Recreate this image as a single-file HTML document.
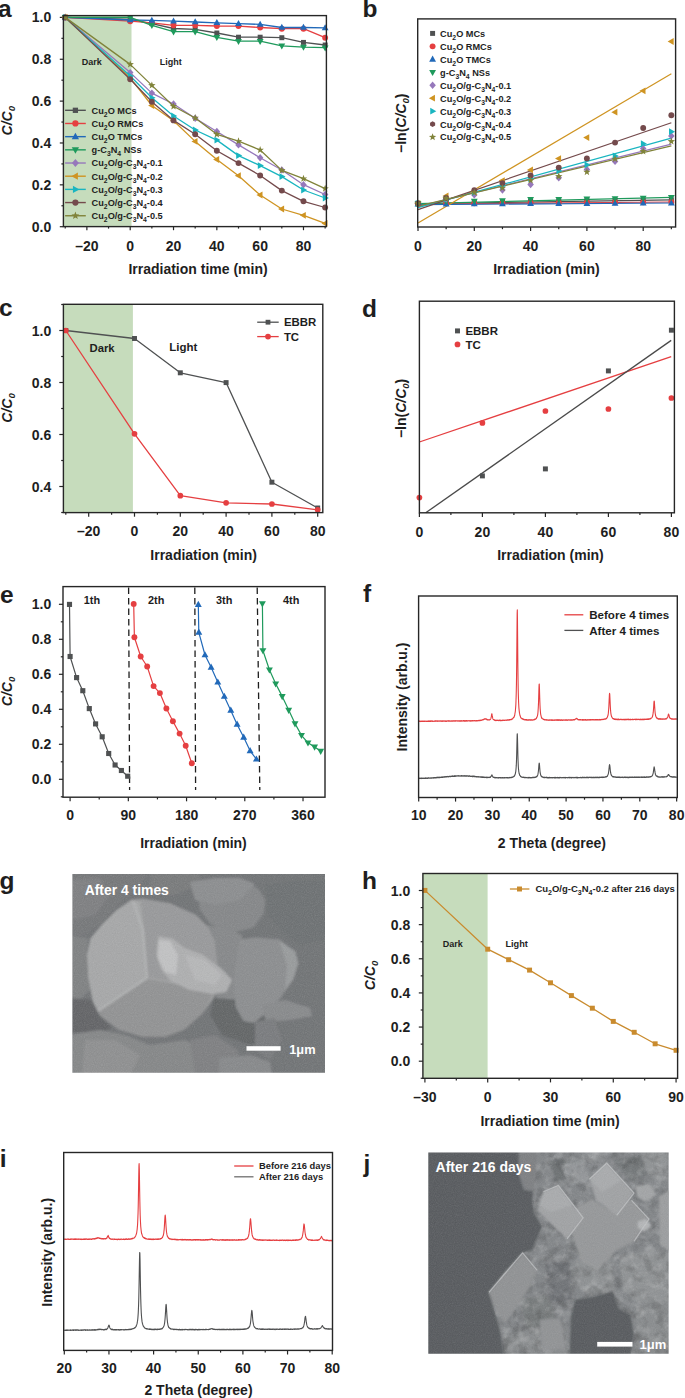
<!DOCTYPE html>
<html><head><meta charset="utf-8"><style>
html,body{margin:0;padding:0;background:#fff;}
svg{display:block;font-family:"Liberation Sans",sans-serif;}
</style></head><body>
<svg width="685" height="1398" viewBox="0 0 685 1398">
<rect width="685" height="1398" fill="#fff"/>
<defs>
<filter id="blur2" x="-5%" y="-5%" width="110%" height="110%"><feGaussianBlur stdDeviation="2.2"/></filter>
<filter id="blur05" x="-5%" y="-5%" width="110%" height="110%"><feGaussianBlur stdDeviation="0.5"/></filter>
<filter id="blur1" x="-5%" y="-5%" width="110%" height="110%"><feGaussianBlur stdDeviation="0.9"/></filter>
<filter id="blur12" x="-5%" y="-5%" width="110%" height="110%"><feGaussianBlur stdDeviation="1.1"/></filter>
<filter id="blur15" x="-5%" y="-5%" width="110%" height="110%"><feGaussianBlur stdDeviation="1.3"/></filter>
<filter id="mottleW" x="0" y="0" width="100%" height="100%"><feTurbulence type="fractalNoise" baseFrequency="0.11" numOctaves="3" seed="7"/><feColorMatrix type="matrix" values="0 0 0 0 1  0 0 0 0 1  0 0 0 0 1  2.2 0 0 0 -1.0"/></filter>
<filter id="mottleB" x="0" y="0" width="100%" height="100%"><feTurbulence type="fractalNoise" baseFrequency="0.09" numOctaves="3" seed="11"/><feColorMatrix type="matrix" values="0 0 0 0 0  0 0 0 0 0  0 0 0 0 0  2.2 0 0 0 -1.0"/></filter>
<filter id="noise" x="0" y="0" width="100%" height="100%"><feTurbulence type="fractalNoise" baseFrequency="0.9" numOctaves="2" seed="4"/><feColorMatrix type="saturate" values="0"/></filter>
</defs>
<text x="-1.9" y="16.8" font-size="24.5" text-anchor="start" fill="#1e1e1e" font-weight="bold" font-style="normal" >a</text>
<rect x="63.4" y="15.6" width="68.1" height="211" fill="#c6dcbc" />
<line x1="59.8" y1="226.7" x2="63.4" y2="226.7" stroke="#262626" stroke-width="1.2" />
<text x="51.2" y="231.7" font-size="14" text-anchor="end" fill="#1e1e1e" font-weight="bold" font-style="normal" >0.0</text>
<line x1="61.4" y1="205.77" x2="63.4" y2="205.77" stroke="#262626" stroke-width="1.2" />
<line x1="59.8" y1="184.84" x2="63.4" y2="184.84" stroke="#262626" stroke-width="1.2" />
<text x="51.2" y="189.84" font-size="14" text-anchor="end" fill="#1e1e1e" font-weight="bold" font-style="normal" >0.2</text>
<line x1="61.4" y1="163.91" x2="63.4" y2="163.91" stroke="#262626" stroke-width="1.2" />
<line x1="59.8" y1="142.98" x2="63.4" y2="142.98" stroke="#262626" stroke-width="1.2" />
<text x="51.2" y="147.98" font-size="14" text-anchor="end" fill="#1e1e1e" font-weight="bold" font-style="normal" >0.4</text>
<line x1="61.4" y1="122.05" x2="63.4" y2="122.05" stroke="#262626" stroke-width="1.2" />
<line x1="59.8" y1="101.12" x2="63.4" y2="101.12" stroke="#262626" stroke-width="1.2" />
<text x="51.2" y="106.12" font-size="14" text-anchor="end" fill="#1e1e1e" font-weight="bold" font-style="normal" >0.6</text>
<line x1="61.4" y1="80.19" x2="63.4" y2="80.19" stroke="#262626" stroke-width="1.2" />
<line x1="59.8" y1="59.26" x2="63.4" y2="59.26" stroke="#262626" stroke-width="1.2" />
<text x="51.2" y="64.26" font-size="14" text-anchor="end" fill="#1e1e1e" font-weight="bold" font-style="normal" >0.8</text>
<line x1="61.4" y1="38.33" x2="63.4" y2="38.33" stroke="#262626" stroke-width="1.2" />
<line x1="59.8" y1="17.4" x2="63.4" y2="17.4" stroke="#262626" stroke-width="1.2" />
<text x="51.2" y="22.4" font-size="14" text-anchor="end" fill="#1e1e1e" font-weight="bold" font-style="normal" >1.0</text>
<line x1="65.22" y1="226.6" x2="65.22" y2="228.6" stroke="#262626" stroke-width="1.2" />
<line x1="86.88" y1="226.6" x2="86.88" y2="230.2" stroke="#262626" stroke-width="1.2" />
<text x="86.88" y="250.6" font-size="14" text-anchor="middle" fill="#1e1e1e" font-weight="bold" font-style="normal" >–20</text>
<line x1="108.54" y1="226.6" x2="108.54" y2="228.6" stroke="#262626" stroke-width="1.2" />
<line x1="130.2" y1="226.6" x2="130.2" y2="230.2" stroke="#262626" stroke-width="1.2" />
<text x="130.2" y="250.6" font-size="14" text-anchor="middle" fill="#1e1e1e" font-weight="bold" font-style="normal" >0</text>
<line x1="151.86" y1="226.6" x2="151.86" y2="228.6" stroke="#262626" stroke-width="1.2" />
<line x1="173.52" y1="226.6" x2="173.52" y2="230.2" stroke="#262626" stroke-width="1.2" />
<text x="173.52" y="250.6" font-size="14" text-anchor="middle" fill="#1e1e1e" font-weight="bold" font-style="normal" >20</text>
<line x1="195.18" y1="226.6" x2="195.18" y2="228.6" stroke="#262626" stroke-width="1.2" />
<line x1="216.84" y1="226.6" x2="216.84" y2="230.2" stroke="#262626" stroke-width="1.2" />
<text x="216.84" y="250.6" font-size="14" text-anchor="middle" fill="#1e1e1e" font-weight="bold" font-style="normal" >40</text>
<line x1="238.5" y1="226.6" x2="238.5" y2="228.6" stroke="#262626" stroke-width="1.2" />
<line x1="260.16" y1="226.6" x2="260.16" y2="230.2" stroke="#262626" stroke-width="1.2" />
<text x="260.16" y="250.6" font-size="14" text-anchor="middle" fill="#1e1e1e" font-weight="bold" font-style="normal" >60</text>
<line x1="281.82" y1="226.6" x2="281.82" y2="228.6" stroke="#262626" stroke-width="1.2" />
<line x1="303.48" y1="226.6" x2="303.48" y2="230.2" stroke="#262626" stroke-width="1.2" />
<text x="303.48" y="250.6" font-size="14" text-anchor="middle" fill="#1e1e1e" font-weight="bold" font-style="normal" >80</text>
<line x1="325.14" y1="226.6" x2="325.14" y2="228.6" stroke="#262626" stroke-width="1.2" />
<text x="198" y="274.2" font-size="14" text-anchor="middle" fill="#1e1e1e" font-weight="bold" font-style="normal" >Irradiation time (min)</text>
<text transform="translate(11.7,120.7) rotate(-90)" x="0" y="0" font-size="14" text-anchor="middle" fill="#1e1e1e" font-weight="bold" font-style="italic">C/C<tspan font-size="9.5" baseline-shift="-28%">0</tspan></text>
<text x="81.7" y="65" font-size="9" text-anchor="start" fill="#1e1e1e" font-weight="bold" font-style="normal" >Dark</text>
<text x="159.8" y="65" font-size="9" text-anchor="start" fill="#1e1e1e" font-weight="bold" font-style="normal" >Light</text>
<polyline points="65.22,17.4 130.2,19.4 151.86,23.6 173.52,28.5 195.18,29.3 216.84,33 238.5,37.2 260.16,37.2 281.82,37.7 303.48,42.4 325.14,45" fill="none" stroke="#4f5152" stroke-width="1.3" stroke-linejoin="round" />
<rect x="62.74" y="14.92" width="4.96" height="4.96" fill="#4f5152"/>
<rect x="127.72" y="16.92" width="4.96" height="4.96" fill="#4f5152"/>
<rect x="149.38" y="21.12" width="4.96" height="4.96" fill="#4f5152"/>
<rect x="171.04" y="26.02" width="4.96" height="4.96" fill="#4f5152"/>
<rect x="192.7" y="26.82" width="4.96" height="4.96" fill="#4f5152"/>
<rect x="214.36" y="30.52" width="4.96" height="4.96" fill="#4f5152"/>
<rect x="236.02" y="34.72" width="4.96" height="4.96" fill="#4f5152"/>
<rect x="257.68" y="34.72" width="4.96" height="4.96" fill="#4f5152"/>
<rect x="279.34" y="35.22" width="4.96" height="4.96" fill="#4f5152"/>
<rect x="301" y="39.92" width="4.96" height="4.96" fill="#4f5152"/>
<rect x="322.66" y="42.52" width="4.96" height="4.96" fill="#4f5152"/>
<polyline points="65.22,17.4 130.2,21.2 151.86,22.8 173.52,25.3 195.18,25.3 216.84,26 238.5,26.1 260.16,27.5 281.82,28.7 303.48,28.7 325.14,37.7" fill="none" stroke="#e53f41" stroke-width="1.3" stroke-linejoin="round" />
<circle cx="65.22" cy="17.4" r="2.94" fill="#e53f41"/>
<circle cx="130.2" cy="21.2" r="2.94" fill="#e53f41"/>
<circle cx="151.86" cy="22.8" r="2.94" fill="#e53f41"/>
<circle cx="173.52" cy="25.3" r="2.94" fill="#e53f41"/>
<circle cx="195.18" cy="25.3" r="2.94" fill="#e53f41"/>
<circle cx="216.84" cy="26" r="2.94" fill="#e53f41"/>
<circle cx="238.5" cy="26.1" r="2.94" fill="#e53f41"/>
<circle cx="260.16" cy="27.5" r="2.94" fill="#e53f41"/>
<circle cx="281.82" cy="28.7" r="2.94" fill="#e53f41"/>
<circle cx="303.48" cy="28.7" r="2.94" fill="#e53f41"/>
<circle cx="325.14" cy="37.7" r="2.94" fill="#e53f41"/>
<polyline points="65.22,17.4 130.2,20 151.86,20.4 173.52,21.2 195.18,22 216.84,22.8 238.5,23.7 260.16,24.4 281.82,27.5 303.48,27.5 325.14,27.9" fill="none" stroke="#2169b9" stroke-width="1.3" stroke-linejoin="round" />
<polygon points="65.22,13.68 68.63,19.72 61.81,19.72" fill="#2169b9"/>
<polygon points="130.2,16.28 133.61,22.32 126.79,22.32" fill="#2169b9"/>
<polygon points="151.86,16.68 155.27,22.72 148.45,22.72" fill="#2169b9"/>
<polygon points="173.52,17.48 176.93,23.52 170.11,23.52" fill="#2169b9"/>
<polygon points="195.18,18.28 198.59,24.32 191.77,24.32" fill="#2169b9"/>
<polygon points="216.84,19.08 220.25,25.12 213.43,25.12" fill="#2169b9"/>
<polygon points="238.5,19.98 241.91,26.02 235.09,26.02" fill="#2169b9"/>
<polygon points="260.16,20.68 263.57,26.72 256.75,26.72" fill="#2169b9"/>
<polygon points="281.82,23.78 285.23,29.82 278.41,29.82" fill="#2169b9"/>
<polygon points="303.48,23.78 306.89,29.82 300.07,29.82" fill="#2169b9"/>
<polygon points="325.14,24.18 328.55,30.22 321.73,30.22" fill="#2169b9"/>
<polyline points="65.22,17.4 130.2,17.4 151.86,25.3 173.52,31.7 195.18,31.7 216.84,37.3 238.5,41.2 260.16,41.2 281.82,45.9 303.48,47.1 325.14,47.7" fill="none" stroke="#1f9a5c" stroke-width="1.3" stroke-linejoin="round" />
<polygon points="65.22,21.12 68.63,15.07 61.81,15.07" fill="#1f9a5c"/>
<polygon points="130.2,21.12 133.61,15.07 126.79,15.07" fill="#1f9a5c"/>
<polygon points="151.86,29.02 155.27,22.98 148.45,22.98" fill="#1f9a5c"/>
<polygon points="173.52,35.42 176.93,29.38 170.11,29.38" fill="#1f9a5c"/>
<polygon points="195.18,35.42 198.59,29.38 191.77,29.38" fill="#1f9a5c"/>
<polygon points="216.84,41.02 220.25,34.97 213.43,34.97" fill="#1f9a5c"/>
<polygon points="238.5,44.92 241.91,38.88 235.09,38.88" fill="#1f9a5c"/>
<polygon points="260.16,44.92 263.57,38.88 256.75,38.88" fill="#1f9a5c"/>
<polygon points="281.82,49.62 285.23,43.57 278.41,43.57" fill="#1f9a5c"/>
<polygon points="303.48,50.82 306.89,44.77 300.07,44.77" fill="#1f9a5c"/>
<polygon points="325.14,51.42 328.55,45.38 321.73,45.38" fill="#1f9a5c"/>
<polyline points="65.22,17.4 130.2,72.6 151.86,93.1 173.52,104 195.18,118.2 216.84,131.5 238.5,144.9 260.16,157.8 281.82,170 303.48,184.7 325.14,194.5" fill="none" stroke="#9678bb" stroke-width="1.3" stroke-linejoin="round" />
<polygon points="65.22,13.68 68.47,17.4 65.22,21.12 61.96,17.4" fill="#9678bb"/>
<polygon points="130.2,68.88 133.45,72.6 130.2,76.32 126.94,72.6" fill="#9678bb"/>
<polygon points="151.86,89.38 155.11,93.1 151.86,96.82 148.6,93.1" fill="#9678bb"/>
<polygon points="173.52,100.28 176.77,104 173.52,107.72 170.26,104" fill="#9678bb"/>
<polygon points="195.18,114.48 198.44,118.2 195.18,121.92 191.93,118.2" fill="#9678bb"/>
<polygon points="216.84,127.78 220.09,131.5 216.84,135.22 213.58,131.5" fill="#9678bb"/>
<polygon points="238.5,141.18 241.75,144.9 238.5,148.62 235.25,144.9" fill="#9678bb"/>
<polygon points="260.16,154.08 263.41,157.8 260.16,161.52 256.9,157.8" fill="#9678bb"/>
<polygon points="281.82,166.28 285.07,170 281.82,173.72 278.56,170" fill="#9678bb"/>
<polygon points="303.48,180.98 306.74,184.7 303.48,188.42 300.23,184.7" fill="#9678bb"/>
<polygon points="325.14,190.78 328.39,194.5 325.14,198.22 321.88,194.5" fill="#9678bb"/>
<polyline points="65.22,17.4 130.2,77.8 151.86,105.5 173.52,120.8 195.18,141.4 216.84,159.5 238.5,175.7 260.16,195 281.82,209 303.48,215.3 325.14,223.4" fill="none" stroke="#cf9422" stroke-width="1.3" stroke-linejoin="round" />
<polygon points="61.5,17.4 67.54,13.99 67.54,20.81" fill="#cf9422"/>
<polygon points="126.48,77.8 132.52,74.39 132.52,81.21" fill="#cf9422"/>
<polygon points="148.14,105.5 154.18,102.09 154.18,108.91" fill="#cf9422"/>
<polygon points="169.8,120.8 175.84,117.39 175.84,124.21" fill="#cf9422"/>
<polygon points="191.46,141.4 197.5,137.99 197.5,144.81" fill="#cf9422"/>
<polygon points="213.12,159.5 219.16,156.09 219.16,162.91" fill="#cf9422"/>
<polygon points="234.78,175.7 240.82,172.29 240.82,179.11" fill="#cf9422"/>
<polygon points="256.44,195 262.48,191.59 262.48,198.41" fill="#cf9422"/>
<polygon points="278.1,209 284.14,205.59 284.14,212.41" fill="#cf9422"/>
<polygon points="299.76,215.3 305.81,211.89 305.81,218.71" fill="#cf9422"/>
<polygon points="321.42,223.4 327.46,219.99 327.46,226.81" fill="#cf9422"/>
<polyline points="65.22,17.4 130.2,76 151.86,97.8 173.52,116 195.18,130 216.84,140.1 238.5,155.6 260.16,165.6 281.82,176.6 303.48,190 325.14,198" fill="none" stroke="#19b5c0" stroke-width="1.3" stroke-linejoin="round" />
<polygon points="68.94,17.4 62.89,13.99 62.89,20.81" fill="#19b5c0"/>
<polygon points="133.92,76 127.87,72.59 127.87,79.41" fill="#19b5c0"/>
<polygon points="155.58,97.8 149.53,94.39 149.53,101.21" fill="#19b5c0"/>
<polygon points="177.24,116 171.19,112.59 171.19,119.41" fill="#19b5c0"/>
<polygon points="198.9,130 192.86,126.59 192.86,133.41" fill="#19b5c0"/>
<polygon points="220.56,140.1 214.51,136.69 214.51,143.51" fill="#19b5c0"/>
<polygon points="242.22,155.6 236.18,152.19 236.18,159.01" fill="#19b5c0"/>
<polygon points="263.88,165.6 257.83,162.19 257.83,169.01" fill="#19b5c0"/>
<polygon points="285.54,176.6 279.5,173.19 279.5,180.01" fill="#19b5c0"/>
<polygon points="307.2,190 301.16,186.59 301.16,193.41" fill="#19b5c0"/>
<polygon points="328.86,198 322.81,194.59 322.81,201.41" fill="#19b5c0"/>
<polyline points="65.22,17.4 130.2,79.2 151.86,101.8 173.52,120.4 195.18,134.2 216.84,150.8 238.5,163.1 260.16,175.5 281.82,190.6 303.48,201.3 325.14,207.5" fill="none" stroke="#744a4c" stroke-width="1.3" stroke-linejoin="round" />
<circle cx="65.22" cy="17.4" r="2.94" fill="#744a4c"/>
<circle cx="130.2" cy="79.2" r="2.94" fill="#744a4c"/>
<circle cx="151.86" cy="101.8" r="2.94" fill="#744a4c"/>
<circle cx="173.52" cy="120.4" r="2.94" fill="#744a4c"/>
<circle cx="195.18" cy="134.2" r="2.94" fill="#744a4c"/>
<circle cx="216.84" cy="150.8" r="2.94" fill="#744a4c"/>
<circle cx="238.5" cy="163.1" r="2.94" fill="#744a4c"/>
<circle cx="260.16" cy="175.5" r="2.94" fill="#744a4c"/>
<circle cx="281.82" cy="190.6" r="2.94" fill="#744a4c"/>
<circle cx="303.48" cy="201.3" r="2.94" fill="#744a4c"/>
<circle cx="325.14" cy="207.5" r="2.94" fill="#744a4c"/>
<polyline points="65.22,17.4 130.2,64.4 151.86,85.4 173.52,106.3 195.18,118 216.84,134.3 238.5,141.2 260.16,150 281.82,170.4 303.48,178.7 325.14,188.6" fill="none" stroke="#80833a" stroke-width="1.3" stroke-linejoin="round" />
<polygon points="65.22,13.52 66.17,16.1 68.91,16.2 66.75,17.9 67.5,20.53 65.22,19.01 62.94,20.53 63.69,17.9 61.53,16.2 64.27,16.1" fill="#80833a"/>
<polygon points="130.2,60.53 131.15,63.1 133.89,63.2 131.73,64.9 132.48,67.53 130.2,66.01 127.92,67.53 128.67,64.9 126.51,63.2 129.25,63.1" fill="#80833a"/>
<polygon points="151.86,81.53 152.81,84.1 155.55,84.2 153.39,85.9 154.14,88.53 151.86,87.01 149.58,88.53 150.33,85.9 148.17,84.2 150.91,84.1" fill="#80833a"/>
<polygon points="173.52,102.42 174.47,105 177.21,105.1 175.05,106.8 175.8,109.43 173.52,107.91 171.24,109.43 171.99,106.8 169.83,105.1 172.57,105" fill="#80833a"/>
<polygon points="195.18,114.12 196.13,116.7 198.87,116.8 196.71,118.5 197.46,121.13 195.18,119.61 192.9,121.13 193.65,118.5 191.49,116.8 194.23,116.7" fill="#80833a"/>
<polygon points="216.84,130.43 217.79,133 220.53,133.1 218.37,134.8 219.12,137.43 216.84,135.91 214.56,137.43 215.31,134.8 213.15,133.1 215.89,133" fill="#80833a"/>
<polygon points="238.5,137.32 239.45,139.9 242.19,140 240.03,141.7 240.78,144.33 238.5,142.81 236.22,144.33 236.97,141.7 234.81,140 237.55,139.9" fill="#80833a"/>
<polygon points="260.16,146.12 261.11,148.7 263.85,148.8 261.69,150.5 262.44,153.13 260.16,151.61 257.88,153.13 258.63,150.5 256.47,148.8 259.21,148.7" fill="#80833a"/>
<polygon points="281.82,166.53 282.77,169.1 285.51,169.2 283.35,170.9 284.1,173.53 281.82,172.01 279.54,173.53 280.29,170.9 278.13,169.2 280.87,169.1" fill="#80833a"/>
<polygon points="303.48,174.82 304.43,177.4 307.17,177.5 305.01,179.2 305.76,181.83 303.48,180.31 301.2,181.83 301.95,179.2 299.79,177.5 302.53,177.4" fill="#80833a"/>
<polygon points="325.14,184.72 326.09,187.3 328.83,187.4 326.67,189.1 327.42,191.73 325.14,190.21 322.86,191.73 323.61,189.1 321.45,187.4 324.19,187.3" fill="#80833a"/>
<line x1="65.1" y1="110.3" x2="85.8" y2="110.3" stroke="#4f5152" stroke-width="1.4" />
<rect x="72.76" y="107.66" width="5.28" height="5.28" fill="#4f5152"/>
<text x="91.6" y="113.7" font-size="9.2" text-anchor="start" fill="#1e1e1e" font-weight="bold" font-style="normal" >Cu<tspan font-size="6.81" baseline-shift="-40%">2</tspan>O MCs</text>
<line x1="65.1" y1="123.48" x2="85.8" y2="123.48" stroke="#e53f41" stroke-width="1.4" />
<circle cx="75.4" cy="123.48" r="3.13" fill="#e53f41"/>
<text x="91.6" y="126.88" font-size="9.2" text-anchor="start" fill="#1e1e1e" font-weight="bold" font-style="normal" >Cu<tspan font-size="6.81" baseline-shift="-40%">2</tspan>O RMCs</text>
<line x1="65.1" y1="136.66" x2="85.8" y2="136.66" stroke="#2169b9" stroke-width="1.4" />
<polygon points="75.4,132.7 79.03,139.13 71.77,139.13" fill="#2169b9"/>
<text x="91.6" y="140.06" font-size="9.2" text-anchor="start" fill="#1e1e1e" font-weight="bold" font-style="normal" >Cu<tspan font-size="6.81" baseline-shift="-40%">2</tspan>O TMCs</text>
<line x1="65.1" y1="149.84" x2="85.8" y2="149.84" stroke="#1f9a5c" stroke-width="1.4" />
<polygon points="75.4,153.8 79.03,147.37 71.77,147.37" fill="#1f9a5c"/>
<text x="91.6" y="153.24" font-size="9.2" text-anchor="start" fill="#1e1e1e" font-weight="bold" font-style="normal" >g-C<tspan font-size="6.81" baseline-shift="-40%">3</tspan>N<tspan font-size="6.81" baseline-shift="-40%">4</tspan> NSs</text>
<line x1="65.1" y1="163.02" x2="85.8" y2="163.02" stroke="#9678bb" stroke-width="1.4" />
<polygon points="75.4,159.06 78.87,163.02 75.4,166.98 71.94,163.02" fill="#9678bb"/>
<text x="91.6" y="166.42" font-size="9.2" text-anchor="start" fill="#1e1e1e" font-weight="bold" font-style="normal" >Cu<tspan font-size="6.81" baseline-shift="-40%">2</tspan>O/g-C<tspan font-size="6.81" baseline-shift="-40%">3</tspan>N<tspan font-size="6.81" baseline-shift="-40%">4</tspan>-0.1</text>
<line x1="65.1" y1="176.2" x2="85.8" y2="176.2" stroke="#cf9422" stroke-width="1.4" />
<polygon points="71.44,176.2 77.88,172.57 77.88,179.83" fill="#cf9422"/>
<text x="91.6" y="179.6" font-size="9.2" text-anchor="start" fill="#1e1e1e" font-weight="bold" font-style="normal" >Cu<tspan font-size="6.81" baseline-shift="-40%">2</tspan>O/g-C<tspan font-size="6.81" baseline-shift="-40%">3</tspan>N<tspan font-size="6.81" baseline-shift="-40%">4</tspan>-0.2</text>
<line x1="65.1" y1="189.38" x2="85.8" y2="189.38" stroke="#19b5c0" stroke-width="1.4" />
<polygon points="79.36,189.38 72.93,185.75 72.93,193.01" fill="#19b5c0"/>
<text x="91.6" y="192.78" font-size="9.2" text-anchor="start" fill="#1e1e1e" font-weight="bold" font-style="normal" >Cu<tspan font-size="6.81" baseline-shift="-40%">2</tspan>O/g-C<tspan font-size="6.81" baseline-shift="-40%">3</tspan>N<tspan font-size="6.81" baseline-shift="-40%">4</tspan>-0.3</text>
<line x1="65.1" y1="202.56" x2="85.8" y2="202.56" stroke="#744a4c" stroke-width="1.4" />
<circle cx="75.4" cy="202.56" r="3.13" fill="#744a4c"/>
<text x="91.6" y="205.96" font-size="9.2" text-anchor="start" fill="#1e1e1e" font-weight="bold" font-style="normal" >Cu<tspan font-size="6.81" baseline-shift="-40%">2</tspan>O/g-C<tspan font-size="6.81" baseline-shift="-40%">3</tspan>N<tspan font-size="6.81" baseline-shift="-40%">4</tspan>-0.4</text>
<line x1="65.1" y1="215.74" x2="85.8" y2="215.74" stroke="#80833a" stroke-width="1.4" />
<polygon points="75.4,211.62 76.41,214.35 79.32,214.47 77.03,216.27 77.82,219.08 75.4,217.46 72.98,219.08 73.77,216.27 71.48,214.47 74.39,214.35" fill="#80833a"/>
<text x="91.6" y="219.14" font-size="9.2" text-anchor="start" fill="#1e1e1e" font-weight="bold" font-style="normal" >Cu<tspan font-size="6.81" baseline-shift="-40%">2</tspan>O/g-C<tspan font-size="6.81" baseline-shift="-40%">3</tspan>N<tspan font-size="6.81" baseline-shift="-40%">4</tspan>-0.5</text>
<rect x="63.4" y="15.6" width="263" height="211" fill="none" stroke="#262626" stroke-width="1.4" />
<text x="362.4" y="16.8" font-size="24.5" text-anchor="start" fill="#1e1e1e" font-weight="bold" font-style="normal" >b</text>
<line x1="418" y1="227" x2="418" y2="231.1" stroke="#262626" stroke-width="1.2" />
<text x="418" y="250.5" font-size="14" text-anchor="middle" fill="#1e1e1e" font-weight="bold" font-style="normal" >0</text>
<line x1="446.15" y1="227" x2="446.15" y2="229.2" stroke="#262626" stroke-width="1.2" />
<line x1="474.3" y1="227" x2="474.3" y2="231.1" stroke="#262626" stroke-width="1.2" />
<text x="474.3" y="250.5" font-size="14" text-anchor="middle" fill="#1e1e1e" font-weight="bold" font-style="normal" >20</text>
<line x1="502.45" y1="227" x2="502.45" y2="229.2" stroke="#262626" stroke-width="1.2" />
<line x1="530.6" y1="227" x2="530.6" y2="231.1" stroke="#262626" stroke-width="1.2" />
<text x="530.6" y="250.5" font-size="14" text-anchor="middle" fill="#1e1e1e" font-weight="bold" font-style="normal" >40</text>
<line x1="558.75" y1="227" x2="558.75" y2="229.2" stroke="#262626" stroke-width="1.2" />
<line x1="586.9" y1="227" x2="586.9" y2="231.1" stroke="#262626" stroke-width="1.2" />
<text x="586.9" y="250.5" font-size="14" text-anchor="middle" fill="#1e1e1e" font-weight="bold" font-style="normal" >60</text>
<line x1="615.05" y1="227" x2="615.05" y2="229.2" stroke="#262626" stroke-width="1.2" />
<line x1="643.2" y1="227" x2="643.2" y2="231.1" stroke="#262626" stroke-width="1.2" />
<text x="643.2" y="250.5" font-size="14" text-anchor="middle" fill="#1e1e1e" font-weight="bold" font-style="normal" >80</text>
<line x1="671.35" y1="227" x2="671.35" y2="229.2" stroke="#262626" stroke-width="1.2" />
<text x="546.5" y="273.5" font-size="14" text-anchor="middle" fill="#1e1e1e" font-weight="bold" font-style="normal" >Irradiation (min)</text>
<text transform="translate(406.1,123.3) rotate(-90)" x="0" y="0" font-size="14" text-anchor="middle" fill="#1e1e1e" font-weight="bold" >−ln(<tspan font-style="italic">C/C<tspan font-size="9.5" baseline-shift="-28%">0</tspan></tspan>)</text>
<line x1="418" y1="203.8" x2="671.35" y2="199.8" stroke="#4f5152" stroke-width="1.2" />
<line x1="418" y1="204.2" x2="671.35" y2="202" stroke="#e53f41" stroke-width="1.2" />
<line x1="418" y1="204.6" x2="671.35" y2="203" stroke="#2169b9" stroke-width="1.2" />
<line x1="418" y1="203.6" x2="671.35" y2="197.4" stroke="#1f9a5c" stroke-width="1.2" />
<line x1="418" y1="206.6" x2="671.35" y2="144.1" stroke="#9678bb" stroke-width="1.2" />
<line x1="418" y1="222.9" x2="671.35" y2="73.8" stroke="#cf9422" stroke-width="1.2" />
<line x1="418" y1="207.7" x2="671.35" y2="138.2" stroke="#19b5c0" stroke-width="1.2" />
<line x1="418" y1="209.6" x2="671.35" y2="122.7" stroke="#744a4c" stroke-width="1.2" />
<line x1="418" y1="206.2" x2="671.35" y2="145.9" stroke="#80833a" stroke-width="1.2" />
<rect x="415.52" y="201.02" width="4.96" height="4.96" fill="#4f5152"/>
<rect x="443.67" y="199.72" width="4.96" height="4.96" fill="#4f5152"/>
<rect x="471.82" y="199.52" width="4.96" height="4.96" fill="#4f5152"/>
<rect x="499.97" y="199.12" width="4.96" height="4.96" fill="#4f5152"/>
<rect x="528.12" y="198.72" width="4.96" height="4.96" fill="#4f5152"/>
<rect x="556.27" y="198.52" width="4.96" height="4.96" fill="#4f5152"/>
<rect x="584.42" y="198.12" width="4.96" height="4.96" fill="#4f5152"/>
<rect x="612.57" y="198.02" width="4.96" height="4.96" fill="#4f5152"/>
<rect x="640.72" y="197.72" width="4.96" height="4.96" fill="#4f5152"/>
<rect x="668.87" y="197.32" width="4.96" height="4.96" fill="#4f5152"/>
<circle cx="418" cy="203.8" r="2.94" fill="#e53f41"/>
<circle cx="446.15" cy="203.2" r="2.94" fill="#e53f41"/>
<circle cx="474.3" cy="203.2" r="2.94" fill="#e53f41"/>
<circle cx="502.45" cy="203" r="2.94" fill="#e53f41"/>
<circle cx="530.6" cy="202.8" r="2.94" fill="#e53f41"/>
<circle cx="558.75" cy="202.6" r="2.94" fill="#e53f41"/>
<circle cx="586.9" cy="202.5" r="2.94" fill="#e53f41"/>
<circle cx="615.05" cy="202.3" r="2.94" fill="#e53f41"/>
<circle cx="643.2" cy="202.2" r="2.94" fill="#e53f41"/>
<circle cx="671.35" cy="202" r="2.94" fill="#e53f41"/>
<polygon points="418,200.48 421.41,206.52 414.59,206.52" fill="#2169b9"/>
<polygon points="446.15,200.48 449.56,206.52 442.74,206.52" fill="#2169b9"/>
<polygon points="474.3,200.28 477.71,206.32 470.89,206.32" fill="#2169b9"/>
<polygon points="502.45,200.28 505.86,206.32 499.04,206.32" fill="#2169b9"/>
<polygon points="530.6,200.08 534.01,206.12 527.19,206.12" fill="#2169b9"/>
<polygon points="558.75,199.98 562.16,206.02 555.34,206.02" fill="#2169b9"/>
<polygon points="586.9,199.88 590.31,205.92 583.49,205.92" fill="#2169b9"/>
<polygon points="615.05,199.78 618.46,205.82 611.64,205.82" fill="#2169b9"/>
<polygon points="643.2,199.58 646.61,205.62 639.79,205.62" fill="#2169b9"/>
<polygon points="671.35,199.38 674.76,205.42 667.94,205.42" fill="#2169b9"/>
<polygon points="418,207.22 421.41,201.18 414.59,201.18" fill="#1f9a5c"/>
<polygon points="446.15,204.92 449.56,198.88 442.74,198.88" fill="#1f9a5c"/>
<polygon points="474.3,204.72 477.71,198.68 470.89,198.68" fill="#1f9a5c"/>
<polygon points="502.45,204.32 505.86,198.28 499.04,198.28" fill="#1f9a5c"/>
<polygon points="530.6,203.12 534.01,197.08 527.19,197.08" fill="#1f9a5c"/>
<polygon points="558.75,202.92 562.16,196.88 555.34,196.88" fill="#1f9a5c"/>
<polygon points="586.9,202.52 590.31,196.48 583.49,196.48" fill="#1f9a5c"/>
<polygon points="615.05,202.22 618.46,196.18 611.64,196.18" fill="#1f9a5c"/>
<polygon points="643.2,201.72 646.61,195.68 639.79,195.68" fill="#1f9a5c"/>
<polygon points="671.35,201.12 674.76,195.08 667.94,195.08" fill="#1f9a5c"/>
<polygon points="418,199.78 421.25,203.5 418,207.22 414.75,203.5" fill="#9678bb"/>
<polygon points="446.15,195.28 449.4,199 446.15,202.72 442.89,199" fill="#9678bb"/>
<polygon points="474.3,191.18 477.56,194.9 474.3,198.62 471.05,194.9" fill="#9678bb"/>
<polygon points="502.45,186.28 505.7,190 502.45,193.72 499.19,190" fill="#9678bb"/>
<polygon points="530.6,180.78 533.86,184.5 530.6,188.22 527.35,184.5" fill="#9678bb"/>
<polygon points="558.75,173.98 562,177.7 558.75,181.42 555.5,177.7" fill="#9678bb"/>
<polygon points="586.9,165.78 590.15,169.5 586.9,173.22 583.64,169.5" fill="#9678bb"/>
<polygon points="615.05,157.68 618.3,161.4 615.05,165.12 611.79,161.4" fill="#9678bb"/>
<polygon points="643.2,144.88 646.46,148.6 643.2,152.32 639.95,148.6" fill="#9678bb"/>
<polygon points="671.35,132.18 674.61,135.9 671.35,139.62 668.1,135.9" fill="#9678bb"/>
<polygon points="414.28,203.5 420.32,200.09 420.32,206.91" fill="#cf9422"/>
<polygon points="442.43,196 448.47,192.59 448.47,199.41" fill="#cf9422"/>
<polygon points="470.58,192 476.62,188.59 476.62,195.41" fill="#cf9422"/>
<polygon points="498.73,180.6 504.77,177.19 504.77,184.01" fill="#cf9422"/>
<polygon points="526.88,169.9 532.93,166.49 532.93,173.31" fill="#cf9422"/>
<polygon points="555.03,158.6 561.08,155.19 561.08,162.01" fill="#cf9422"/>
<polygon points="583.18,137.6 589.23,134.19 589.23,141.01" fill="#cf9422"/>
<polygon points="611.33,112.2 617.38,108.79 617.38,115.61" fill="#cf9422"/>
<polygon points="639.48,90.8 645.53,87.39 645.53,94.21" fill="#cf9422"/>
<polygon points="667.63,41.5 673.68,38.09 673.68,44.91" fill="#cf9422"/>
<polygon points="421.72,203.5 415.68,200.09 415.68,206.91" fill="#19b5c0"/>
<polygon points="449.87,199 443.82,195.59 443.82,202.41" fill="#19b5c0"/>
<polygon points="478.02,192.5 471.98,189.09 471.98,195.91" fill="#19b5c0"/>
<polygon points="506.17,185.7 500.12,182.29 500.12,189.11" fill="#19b5c0"/>
<polygon points="534.32,178.7 528.27,175.29 528.27,182.11" fill="#19b5c0"/>
<polygon points="562.47,170.9 556.42,167.49 556.42,174.31" fill="#19b5c0"/>
<polygon points="590.62,164.8 584.57,161.39 584.57,168.21" fill="#19b5c0"/>
<polygon points="618.77,156 612.72,152.59 612.72,159.41" fill="#19b5c0"/>
<polygon points="646.92,143.7 640.88,140.29 640.88,147.11" fill="#19b5c0"/>
<polygon points="675.07,131.7 669.02,128.29 669.02,135.11" fill="#19b5c0"/>
<circle cx="418" cy="203.5" r="2.94" fill="#744a4c"/>
<circle cx="446.15" cy="198" r="2.94" fill="#744a4c"/>
<circle cx="474.3" cy="190.2" r="2.94" fill="#744a4c"/>
<circle cx="502.45" cy="183.1" r="2.94" fill="#744a4c"/>
<circle cx="530.6" cy="175.4" r="2.94" fill="#744a4c"/>
<circle cx="558.75" cy="167.6" r="2.94" fill="#744a4c"/>
<circle cx="586.9" cy="158.4" r="2.94" fill="#744a4c"/>
<circle cx="615.05" cy="142.6" r="2.94" fill="#744a4c"/>
<circle cx="643.2" cy="128" r="2.94" fill="#744a4c"/>
<circle cx="671.35" cy="115.3" r="2.94" fill="#744a4c"/>
<polygon points="418,199.62 418.95,202.2 421.69,202.3 419.53,204 420.28,206.63 418,205.11 415.72,206.63 416.47,204 414.31,202.3 417.05,202.2" fill="#80833a"/>
<polygon points="446.15,194.53 447.1,197.1 449.84,197.2 447.68,198.9 448.43,201.53 446.15,200.01 443.87,201.53 444.62,198.9 442.46,197.2 445.2,197.1" fill="#80833a"/>
<polygon points="474.3,188.62 475.25,191.2 477.99,191.3 475.83,193 476.58,195.63 474.3,194.11 472.02,195.63 472.77,193 470.61,191.3 473.35,191.2" fill="#80833a"/>
<polygon points="502.45,184.12 503.4,186.7 506.14,186.8 503.98,188.5 504.73,191.13 502.45,189.61 500.17,191.13 500.92,188.5 498.76,186.8 501.5,186.7" fill="#80833a"/>
<polygon points="530.6,176.53 531.55,179.1 534.29,179.2 532.13,180.9 532.88,183.53 530.6,182.01 528.32,183.53 529.07,180.9 526.91,179.2 529.65,179.1" fill="#80833a"/>
<polygon points="558.75,172.53 559.7,175.1 562.44,175.2 560.28,176.9 561.03,179.53 558.75,178.01 556.47,179.53 557.22,176.9 555.06,175.2 557.8,175.1" fill="#80833a"/>
<polygon points="586.9,168.12 587.85,170.7 590.59,170.8 588.43,172.5 589.18,175.13 586.9,173.61 584.62,175.13 585.37,172.5 583.21,170.8 585.95,170.7" fill="#80833a"/>
<polygon points="615.05,155.12 616,157.7 618.74,157.8 616.58,159.5 617.33,162.13 615.05,160.61 612.77,162.13 613.52,159.5 611.36,157.8 614.1,157.7" fill="#80833a"/>
<polygon points="643.2,147.53 644.15,150.1 646.89,150.2 644.73,151.9 645.48,154.53 643.2,153.01 640.92,154.53 641.67,151.9 639.51,150.2 642.25,150.1" fill="#80833a"/>
<polygon points="671.35,137.53 672.3,140.1 675.04,140.2 672.88,141.9 673.63,144.53 671.35,143.01 669.07,144.53 669.82,141.9 667.66,140.2 670.4,140.1" fill="#80833a"/>
<rect x="430.12" y="30.92" width="4.96" height="4.96" fill="#4f5152"/>
<text x="440.1" y="36.8" font-size="9.2" text-anchor="start" fill="#1e1e1e" font-weight="bold" font-style="normal" >Cu<tspan font-size="6.81" baseline-shift="-40%">2</tspan>O MCs</text>
<circle cx="432.6" cy="46.36" r="2.94" fill="#e53f41"/>
<text x="440.1" y="49.76" font-size="9.2" text-anchor="start" fill="#1e1e1e" font-weight="bold" font-style="normal" >Cu<tspan font-size="6.81" baseline-shift="-40%">2</tspan>O RMCs</text>
<polygon points="432.6,55.6 436.01,61.65 429.19,61.65" fill="#2169b9"/>
<text x="440.1" y="62.72" font-size="9.2" text-anchor="start" fill="#1e1e1e" font-weight="bold" font-style="normal" >Cu<tspan font-size="6.81" baseline-shift="-40%">2</tspan>O TMCs</text>
<polygon points="432.6,76 436.01,69.95 429.19,69.95" fill="#1f9a5c"/>
<text x="440.1" y="75.68" font-size="9.2" text-anchor="start" fill="#1e1e1e" font-weight="bold" font-style="normal" >g-C<tspan font-size="6.81" baseline-shift="-40%">3</tspan>N<tspan font-size="6.81" baseline-shift="-40%">4</tspan> NSs</text>
<polygon points="432.6,81.52 435.86,85.24 432.6,88.96 429.35,85.24" fill="#9678bb"/>
<text x="440.1" y="88.64" font-size="9.2" text-anchor="start" fill="#1e1e1e" font-weight="bold" font-style="normal" >Cu<tspan font-size="6.81" baseline-shift="-40%">2</tspan>O/g-C<tspan font-size="6.81" baseline-shift="-40%">3</tspan>N<tspan font-size="6.81" baseline-shift="-40%">4</tspan>-0.1</text>
<polygon points="428.88,98.2 434.93,94.79 434.93,101.61" fill="#cf9422"/>
<text x="440.1" y="101.6" font-size="9.2" text-anchor="start" fill="#1e1e1e" font-weight="bold" font-style="normal" >Cu<tspan font-size="6.81" baseline-shift="-40%">2</tspan>O/g-C<tspan font-size="6.81" baseline-shift="-40%">3</tspan>N<tspan font-size="6.81" baseline-shift="-40%">4</tspan>-0.2</text>
<polygon points="436.32,111.16 430.28,107.75 430.28,114.57" fill="#19b5c0"/>
<text x="440.1" y="114.56" font-size="9.2" text-anchor="start" fill="#1e1e1e" font-weight="bold" font-style="normal" >Cu<tspan font-size="6.81" baseline-shift="-40%">2</tspan>O/g-C<tspan font-size="6.81" baseline-shift="-40%">3</tspan>N<tspan font-size="6.81" baseline-shift="-40%">4</tspan>-0.3</text>
<polygon points="435.15,125.59 432.6,127.06 430.05,125.59 430.05,122.65 432.6,121.18 435.15,122.65" fill="#744a4c"/>
<text x="440.1" y="127.52" font-size="9.2" text-anchor="start" fill="#1e1e1e" font-weight="bold" font-style="normal" >Cu<tspan font-size="6.81" baseline-shift="-40%">2</tspan>O/g-C<tspan font-size="6.81" baseline-shift="-40%">3</tspan>N<tspan font-size="6.81" baseline-shift="-40%">4</tspan>-0.4</text>
<polygon points="432.6,133.21 433.55,135.78 436.29,135.88 434.13,137.58 434.88,140.21 432.6,138.69 430.32,140.21 431.07,137.58 428.91,135.88 431.65,135.78" fill="#80833a"/>
<text x="440.1" y="140.48" font-size="9.2" text-anchor="start" fill="#1e1e1e" font-weight="bold" font-style="normal" >Cu<tspan font-size="6.81" baseline-shift="-40%">2</tspan>O/g-C<tspan font-size="6.81" baseline-shift="-40%">3</tspan>N<tspan font-size="6.81" baseline-shift="-40%">4</tspan>-0.5</text>
<rect x="417.7" y="18.9" width="257.9" height="208.1" fill="none" stroke="#262626" stroke-width="1.4" />
<text x="-1" y="316.4" font-size="24.5" text-anchor="start" fill="#1e1e1e" font-weight="bold" font-style="normal" >c</text>
<rect x="63.4" y="304.3" width="69.5" height="208.3" fill="#c6dcbc" />
<line x1="61.2" y1="512.5" x2="63.4" y2="512.5" stroke="#262626" stroke-width="1.2" />
<line x1="59.3" y1="486.5" x2="63.4" y2="486.5" stroke="#262626" stroke-width="1.2" />
<text x="51.2" y="491.5" font-size="14" text-anchor="end" fill="#1e1e1e" font-weight="bold" font-style="normal" >0.4</text>
<line x1="61.2" y1="460.5" x2="63.4" y2="460.5" stroke="#262626" stroke-width="1.2" />
<line x1="59.3" y1="434.5" x2="63.4" y2="434.5" stroke="#262626" stroke-width="1.2" />
<text x="51.2" y="439.5" font-size="14" text-anchor="end" fill="#1e1e1e" font-weight="bold" font-style="normal" >0.6</text>
<line x1="61.2" y1="408.5" x2="63.4" y2="408.5" stroke="#262626" stroke-width="1.2" />
<line x1="59.3" y1="382.5" x2="63.4" y2="382.5" stroke="#262626" stroke-width="1.2" />
<text x="51.2" y="387.5" font-size="14" text-anchor="end" fill="#1e1e1e" font-weight="bold" font-style="normal" >0.8</text>
<line x1="61.2" y1="356.5" x2="63.4" y2="356.5" stroke="#262626" stroke-width="1.2" />
<line x1="59.3" y1="330.5" x2="63.4" y2="330.5" stroke="#262626" stroke-width="1.2" />
<text x="51.2" y="335.5" font-size="14" text-anchor="end" fill="#1e1e1e" font-weight="bold" font-style="normal" >1.0</text>
<line x1="61.2" y1="304.5" x2="63.4" y2="304.5" stroke="#262626" stroke-width="1.2" />
<line x1="65.8" y1="512.6" x2="65.8" y2="514.8" stroke="#262626" stroke-width="1.2" />
<line x1="88.7" y1="512.6" x2="88.7" y2="516.7" stroke="#262626" stroke-width="1.2" />
<text x="88.7" y="536.3" font-size="14" text-anchor="middle" fill="#1e1e1e" font-weight="bold" font-style="normal" >–20</text>
<line x1="111.6" y1="512.6" x2="111.6" y2="514.8" stroke="#262626" stroke-width="1.2" />
<line x1="134.5" y1="512.6" x2="134.5" y2="516.7" stroke="#262626" stroke-width="1.2" />
<text x="134.5" y="536.3" font-size="14" text-anchor="middle" fill="#1e1e1e" font-weight="bold" font-style="normal" >0</text>
<line x1="157.4" y1="512.6" x2="157.4" y2="514.8" stroke="#262626" stroke-width="1.2" />
<line x1="180.3" y1="512.6" x2="180.3" y2="516.7" stroke="#262626" stroke-width="1.2" />
<text x="180.3" y="536.3" font-size="14" text-anchor="middle" fill="#1e1e1e" font-weight="bold" font-style="normal" >20</text>
<line x1="203.2" y1="512.6" x2="203.2" y2="514.8" stroke="#262626" stroke-width="1.2" />
<line x1="226.1" y1="512.6" x2="226.1" y2="516.7" stroke="#262626" stroke-width="1.2" />
<text x="226.1" y="536.3" font-size="14" text-anchor="middle" fill="#1e1e1e" font-weight="bold" font-style="normal" >40</text>
<line x1="249" y1="512.6" x2="249" y2="514.8" stroke="#262626" stroke-width="1.2" />
<line x1="271.9" y1="512.6" x2="271.9" y2="516.7" stroke="#262626" stroke-width="1.2" />
<text x="271.9" y="536.3" font-size="14" text-anchor="middle" fill="#1e1e1e" font-weight="bold" font-style="normal" >60</text>
<line x1="294.8" y1="512.6" x2="294.8" y2="514.8" stroke="#262626" stroke-width="1.2" />
<line x1="317.7" y1="512.6" x2="317.7" y2="516.7" stroke="#262626" stroke-width="1.2" />
<text x="317.7" y="536.3" font-size="14" text-anchor="middle" fill="#1e1e1e" font-weight="bold" font-style="normal" >80</text>
<text x="203.6" y="560" font-size="14" text-anchor="middle" fill="#1e1e1e" font-weight="bold" font-style="normal" >Irradiation (min)</text>
<text transform="translate(12,408) rotate(-90)" x="0" y="0" font-size="14" text-anchor="middle" fill="#1e1e1e" font-weight="bold" font-style="italic">C/C<tspan font-size="9.5" baseline-shift="-28%">0</tspan></text>
<text x="89.5" y="351.7" font-size="11.3" text-anchor="start" fill="#1e1e1e" font-weight="bold" font-style="normal" >Dark</text>
<text x="169.2" y="351.3" font-size="11.5" text-anchor="start" fill="#1e1e1e" font-weight="bold" font-style="normal" >Light</text>
<polyline points="65.8,330.5 134.5,338.5 180.3,372.8 226.1,382.6 271.9,482.2 317.7,508" fill="none" stroke="#4f5152" stroke-width="1.3" stroke-linejoin="round" />
<polyline points="65.8,330.5 134.5,433.8 180.3,495.7 226.1,502.8 271.9,504 317.7,509.8" fill="none" stroke="#e53f41" stroke-width="1.3" stroke-linejoin="round" />
<rect x="63.32" y="328.02" width="4.96" height="4.96" fill="#4f5152"/>
<rect x="132.02" y="336.02" width="4.96" height="4.96" fill="#4f5152"/>
<rect x="177.82" y="370.32" width="4.96" height="4.96" fill="#4f5152"/>
<rect x="223.62" y="380.12" width="4.96" height="4.96" fill="#4f5152"/>
<rect x="269.42" y="479.72" width="4.96" height="4.96" fill="#4f5152"/>
<rect x="315.22" y="505.52" width="4.96" height="4.96" fill="#4f5152"/>
<circle cx="65.8" cy="330.5" r="2.85" fill="#e53f41"/>
<circle cx="134.5" cy="433.8" r="2.85" fill="#e53f41"/>
<circle cx="180.3" cy="495.7" r="2.85" fill="#e53f41"/>
<circle cx="226.1" cy="502.8" r="2.85" fill="#e53f41"/>
<circle cx="271.9" cy="504" r="2.85" fill="#e53f41"/>
<circle cx="317.7" cy="509.8" r="2.85" fill="#e53f41"/>
<line x1="257.2" y1="322.2" x2="278.7" y2="322.2" stroke="#4f5152" stroke-width="1.3" />
<rect x="265.6" y="319.8" width="4.8" height="4.8" fill="#4f5152"/>
<text x="283.9" y="326.3" font-size="11.4" text-anchor="start" fill="#1e1e1e" font-weight="bold" font-style="normal" >EBBR</text>
<line x1="257.2" y1="336.6" x2="278.7" y2="336.6" stroke="#e53f41" stroke-width="1.3" />
<circle cx="268" cy="336.6" r="2.85" fill="#e53f41"/>
<text x="283.9" y="340.7" font-size="11.4" text-anchor="start" fill="#1e1e1e" font-weight="bold" font-style="normal" >TC</text>
<rect x="63.4" y="304.3" width="259.4" height="208.3" fill="none" stroke="#262626" stroke-width="1.4" />
<text x="361.9" y="316.8" font-size="24.5" text-anchor="start" fill="#1e1e1e" font-weight="bold" font-style="normal" >d</text>
<line x1="419.4" y1="512.8" x2="419.4" y2="516.9" stroke="#262626" stroke-width="1.2" />
<text x="419.4" y="536.5" font-size="14" text-anchor="middle" fill="#1e1e1e" font-weight="bold" font-style="normal" >0</text>
<line x1="450.9" y1="512.8" x2="450.9" y2="515" stroke="#262626" stroke-width="1.2" />
<line x1="482.4" y1="512.8" x2="482.4" y2="516.9" stroke="#262626" stroke-width="1.2" />
<text x="482.4" y="536.5" font-size="14" text-anchor="middle" fill="#1e1e1e" font-weight="bold" font-style="normal" >20</text>
<line x1="513.9" y1="512.8" x2="513.9" y2="515" stroke="#262626" stroke-width="1.2" />
<line x1="545.4" y1="512.8" x2="545.4" y2="516.9" stroke="#262626" stroke-width="1.2" />
<text x="545.4" y="536.5" font-size="14" text-anchor="middle" fill="#1e1e1e" font-weight="bold" font-style="normal" >40</text>
<line x1="576.9" y1="512.8" x2="576.9" y2="515" stroke="#262626" stroke-width="1.2" />
<line x1="608.4" y1="512.8" x2="608.4" y2="516.9" stroke="#262626" stroke-width="1.2" />
<text x="608.4" y="536.5" font-size="14" text-anchor="middle" fill="#1e1e1e" font-weight="bold" font-style="normal" >60</text>
<line x1="639.9" y1="512.8" x2="639.9" y2="515" stroke="#262626" stroke-width="1.2" />
<line x1="671.4" y1="512.8" x2="671.4" y2="516.9" stroke="#262626" stroke-width="1.2" />
<text x="671.4" y="536.5" font-size="14" text-anchor="middle" fill="#1e1e1e" font-weight="bold" font-style="normal" >80</text>
<text x="550.5" y="560" font-size="14" text-anchor="middle" fill="#1e1e1e" font-weight="bold" font-style="normal" >Irradiation (min)</text>
<text transform="translate(406.3,408.4) rotate(-90)" x="0" y="0" font-size="14" text-anchor="middle" fill="#1e1e1e" font-weight="bold" >−ln(<tspan font-style="italic">C/C<tspan font-size="9.5" baseline-shift="-28%">0</tspan></tspan>)</text>
<clipPath id="cpd"><rect x="419.4" y="301.2" width="255" height="211.6"/></clipPath>
<line x1="419.4" y1="442" x2="671.2" y2="356.7" stroke="#e53f41" stroke-width="1.3" />
<line x1="425.7" y1="512.8" x2="671.2" y2="340.4" stroke="#4a4a4a" stroke-width="1.3" />
<rect x="479.92" y="473.42" width="4.96" height="4.96" fill="#4f5152"/>
<rect x="542.92" y="466.42" width="4.96" height="4.96" fill="#4f5152"/>
<rect x="605.92" y="368.42" width="4.96" height="4.96" fill="#4f5152"/>
<rect x="668.92" y="327.72" width="4.96" height="4.96" fill="#4f5152"/>
<circle cx="419.4" cy="497.6" r="2.85" fill="#e53f41"/>
<circle cx="482.4" cy="422.9" r="2.85" fill="#e53f41"/>
<circle cx="545.4" cy="411" r="2.85" fill="#e53f41"/>
<circle cx="608.4" cy="409" r="2.85" fill="#e53f41"/>
<circle cx="671.4" cy="398" r="2.85" fill="#e53f41"/>
<rect x="455.02" y="328.42" width="4.96" height="4.96" fill="#4f5152"/>
<text x="465.4" y="335" font-size="11.5" text-anchor="start" fill="#1e1e1e" font-weight="bold" font-style="normal" >EBBR</text>
<circle cx="457.5" cy="344.4" r="2.85" fill="#e53f41"/>
<text x="465.4" y="348.5" font-size="11.5" text-anchor="start" fill="#1e1e1e" font-weight="bold" font-style="normal" >TC</text>
<rect x="419.4" y="301.2" width="255" height="211.6" fill="none" stroke="#262626" stroke-width="1.4" />
<text x="0" y="602.8" font-size="24.5" text-anchor="start" fill="#1e1e1e" font-weight="bold" font-style="normal" >e</text>
<line x1="60.8" y1="796.8" x2="63" y2="796.8" stroke="#262626" stroke-width="1.2" />
<line x1="58.9" y1="779.3" x2="63" y2="779.3" stroke="#262626" stroke-width="1.2" />
<text x="51.2" y="784.3" font-size="14" text-anchor="end" fill="#1e1e1e" font-weight="bold" font-style="normal" >0.0</text>
<line x1="60.8" y1="761.8" x2="63" y2="761.8" stroke="#262626" stroke-width="1.2" />
<line x1="58.9" y1="744.3" x2="63" y2="744.3" stroke="#262626" stroke-width="1.2" />
<text x="51.2" y="749.3" font-size="14" text-anchor="end" fill="#1e1e1e" font-weight="bold" font-style="normal" >0.2</text>
<line x1="60.8" y1="726.8" x2="63" y2="726.8" stroke="#262626" stroke-width="1.2" />
<line x1="58.9" y1="709.3" x2="63" y2="709.3" stroke="#262626" stroke-width="1.2" />
<text x="51.2" y="714.3" font-size="14" text-anchor="end" fill="#1e1e1e" font-weight="bold" font-style="normal" >0.4</text>
<line x1="60.8" y1="691.8" x2="63" y2="691.8" stroke="#262626" stroke-width="1.2" />
<line x1="58.9" y1="674.3" x2="63" y2="674.3" stroke="#262626" stroke-width="1.2" />
<text x="51.2" y="679.3" font-size="14" text-anchor="end" fill="#1e1e1e" font-weight="bold" font-style="normal" >0.6</text>
<line x1="60.8" y1="656.8" x2="63" y2="656.8" stroke="#262626" stroke-width="1.2" />
<line x1="58.9" y1="639.3" x2="63" y2="639.3" stroke="#262626" stroke-width="1.2" />
<text x="51.2" y="644.3" font-size="14" text-anchor="end" fill="#1e1e1e" font-weight="bold" font-style="normal" >0.8</text>
<line x1="60.8" y1="621.8" x2="63" y2="621.8" stroke="#262626" stroke-width="1.2" />
<line x1="58.9" y1="604.3" x2="63" y2="604.3" stroke="#262626" stroke-width="1.2" />
<text x="51.2" y="609.3" font-size="14" text-anchor="end" fill="#1e1e1e" font-weight="bold" font-style="normal" >1.0</text>
<line x1="70.1" y1="797.2" x2="70.1" y2="801.3" stroke="#262626" stroke-width="1.2" />
<text x="70.1" y="820" font-size="14" text-anchor="middle" fill="#1e1e1e" font-weight="bold" font-style="normal" >0</text>
<line x1="99.22" y1="797.2" x2="99.22" y2="799.4" stroke="#262626" stroke-width="1.2" />
<line x1="128.33" y1="797.2" x2="128.33" y2="801.3" stroke="#262626" stroke-width="1.2" />
<text x="128.33" y="820" font-size="14" text-anchor="middle" fill="#1e1e1e" font-weight="bold" font-style="normal" >90</text>
<line x1="157.44" y1="797.2" x2="157.44" y2="799.4" stroke="#262626" stroke-width="1.2" />
<line x1="186.56" y1="797.2" x2="186.56" y2="801.3" stroke="#262626" stroke-width="1.2" />
<text x="186.56" y="820" font-size="14" text-anchor="middle" fill="#1e1e1e" font-weight="bold" font-style="normal" >180</text>
<line x1="215.68" y1="797.2" x2="215.68" y2="799.4" stroke="#262626" stroke-width="1.2" />
<line x1="244.79" y1="797.2" x2="244.79" y2="801.3" stroke="#262626" stroke-width="1.2" />
<text x="244.79" y="820" font-size="14" text-anchor="middle" fill="#1e1e1e" font-weight="bold" font-style="normal" >270</text>
<line x1="273.9" y1="797.2" x2="273.9" y2="799.4" stroke="#262626" stroke-width="1.2" />
<line x1="303.02" y1="797.2" x2="303.02" y2="801.3" stroke="#262626" stroke-width="1.2" />
<text x="303.02" y="820" font-size="14" text-anchor="middle" fill="#1e1e1e" font-weight="bold" font-style="normal" >360</text>
<text x="193.5" y="848" font-size="14" text-anchor="middle" fill="#1e1e1e" font-weight="bold" font-style="normal" >Irradiation (min)</text>
<text transform="translate(12,691.5) rotate(-90)" x="0" y="0" font-size="14" text-anchor="middle" fill="#1e1e1e" font-weight="bold" font-style="italic">C/C<tspan font-size="9.5" baseline-shift="-28%">0</tspan></text>
<line x1="128.6" y1="587.6" x2="129.6" y2="790" stroke="#1e1e1e" stroke-width="1.3" stroke-dasharray="6.5,4"/>
<line x1="194.8" y1="587.6" x2="195.6" y2="790" stroke="#1e1e1e" stroke-width="1.3" stroke-dasharray="6.5,4"/>
<line x1="257.2" y1="587.6" x2="259.8" y2="790" stroke="#1e1e1e" stroke-width="1.3" stroke-dasharray="6.5,4"/>
<text x="83.8" y="603.8" font-size="10.9" text-anchor="start" fill="#1e1e1e" font-weight="bold" font-style="normal" >1th</text>
<text x="148" y="603.8" font-size="10.9" text-anchor="start" fill="#1e1e1e" font-weight="bold" font-style="normal" >2th</text>
<text x="216" y="603.8" font-size="10.9" text-anchor="start" fill="#1e1e1e" font-weight="bold" font-style="normal" >3th</text>
<text x="283" y="603.8" font-size="10.9" text-anchor="start" fill="#1e1e1e" font-weight="bold" font-style="normal" >4th</text>
<polyline points="69.5,604.4 70.1,656.5 76.6,677.6 82.8,690.7 89.3,708.6 95.6,723.9 102.2,736.8 108.7,753.5 115.1,765 121.4,770.5 127.7,776.2" fill="none" stroke="#4f5152" stroke-width="1.2" stroke-linejoin="round" />
<rect x="66.94" y="601.84" width="5.12" height="5.12" fill="#4f5152"/>
<rect x="67.54" y="653.94" width="5.12" height="5.12" fill="#4f5152"/>
<rect x="74.04" y="675.04" width="5.12" height="5.12" fill="#4f5152"/>
<rect x="80.24" y="688.14" width="5.12" height="5.12" fill="#4f5152"/>
<rect x="86.74" y="706.04" width="5.12" height="5.12" fill="#4f5152"/>
<rect x="93.04" y="721.34" width="5.12" height="5.12" fill="#4f5152"/>
<rect x="99.64" y="734.24" width="5.12" height="5.12" fill="#4f5152"/>
<rect x="106.14" y="750.94" width="5.12" height="5.12" fill="#4f5152"/>
<rect x="112.54" y="762.44" width="5.12" height="5.12" fill="#4f5152"/>
<rect x="118.84" y="767.94" width="5.12" height="5.12" fill="#4f5152"/>
<rect x="125.14" y="773.64" width="5.12" height="5.12" fill="#4f5152"/>
<polyline points="133.7,603.9 134.4,637.2 140.7,656.5 147.2,666.5 153.6,686.1 159.9,693.1 166.4,708.5 172.9,721.3 179.6,733.6 185.7,745.8 191.8,763.3" fill="none" stroke="#e53f41" stroke-width="1.2" stroke-linejoin="round" />
<circle cx="133.7" cy="603.9" r="2.94" fill="#e53f41"/>
<circle cx="134.4" cy="637.2" r="2.94" fill="#e53f41"/>
<circle cx="140.7" cy="656.5" r="2.94" fill="#e53f41"/>
<circle cx="147.2" cy="666.5" r="2.94" fill="#e53f41"/>
<circle cx="153.6" cy="686.1" r="2.94" fill="#e53f41"/>
<circle cx="159.9" cy="693.1" r="2.94" fill="#e53f41"/>
<circle cx="166.4" cy="708.5" r="2.94" fill="#e53f41"/>
<circle cx="172.9" cy="721.3" r="2.94" fill="#e53f41"/>
<circle cx="179.6" cy="733.6" r="2.94" fill="#e53f41"/>
<circle cx="185.7" cy="745.8" r="2.94" fill="#e53f41"/>
<circle cx="191.8" cy="763.3" r="2.94" fill="#e53f41"/>
<polyline points="198.3,604.6 198.8,632.4 205,655 211.1,667.3 217.8,682.2 224.3,696.5 230.8,710.4 237.1,724.4 243.7,737.3 250.1,750.8 256.4,759.2" fill="none" stroke="#2169b9" stroke-width="1.2" stroke-linejoin="round" />
<polygon points="198.3,600.82 201.77,606.96 194.84,606.96" fill="#2169b9"/>
<polygon points="198.8,628.62 202.27,634.76 195.34,634.76" fill="#2169b9"/>
<polygon points="205,651.22 208.47,657.36 201.53,657.36" fill="#2169b9"/>
<polygon points="211.1,663.52 214.56,669.66 207.63,669.66" fill="#2169b9"/>
<polygon points="217.8,678.42 221.27,684.56 214.34,684.56" fill="#2169b9"/>
<polygon points="224.3,692.72 227.77,698.86 220.84,698.86" fill="#2169b9"/>
<polygon points="230.8,706.62 234.27,712.76 227.34,712.76" fill="#2169b9"/>
<polygon points="237.1,720.62 240.56,726.76 233.63,726.76" fill="#2169b9"/>
<polygon points="243.7,733.52 247.16,739.66 240.23,739.66" fill="#2169b9"/>
<polygon points="250.1,747.02 253.56,753.16 246.63,753.16" fill="#2169b9"/>
<polygon points="256.4,755.42 259.86,761.56 252.93,761.56" fill="#2169b9"/>
<polyline points="262.4,603.6 262.9,650.5 269.4,669.8 275.7,683.8 282.2,696.4 288.7,710.1 295,723.6 301.5,735.3 308,742.8 314.6,746.9 320.7,751.1" fill="none" stroke="#1f9a5c" stroke-width="1.2" stroke-linejoin="round" />
<polygon points="262.4,607.38 265.86,601.24 258.94,601.24" fill="#1f9a5c"/>
<polygon points="262.9,654.28 266.36,648.14 259.44,648.14" fill="#1f9a5c"/>
<polygon points="269.4,673.58 272.86,667.44 265.94,667.44" fill="#1f9a5c"/>
<polygon points="275.7,687.58 279.16,681.44 272.24,681.44" fill="#1f9a5c"/>
<polygon points="282.2,700.18 285.66,694.04 278.74,694.04" fill="#1f9a5c"/>
<polygon points="288.7,713.88 292.16,707.74 285.24,707.74" fill="#1f9a5c"/>
<polygon points="295,727.38 298.46,721.24 291.54,721.24" fill="#1f9a5c"/>
<polygon points="301.5,739.08 304.96,732.94 298.04,732.94" fill="#1f9a5c"/>
<polygon points="308,746.58 311.46,740.44 304.54,740.44" fill="#1f9a5c"/>
<polygon points="314.6,750.68 318.06,744.54 311.14,744.54" fill="#1f9a5c"/>
<polygon points="320.7,754.88 324.16,748.74 317.24,748.74" fill="#1f9a5c"/>
<rect x="63" y="586.6" width="262" height="210.6" fill="none" stroke="#262626" stroke-width="1.4" />
<text x="363" y="601.8" font-size="24.5" text-anchor="start" fill="#1e1e1e" font-weight="bold" font-style="normal" >f</text>
<line x1="418.7" y1="797.5" x2="418.7" y2="801.6" stroke="#262626" stroke-width="1.2" />
<text x="418.7" y="820.2" font-size="14" text-anchor="middle" fill="#1e1e1e" font-weight="bold" font-style="normal" >10</text>
<line x1="437.12" y1="797.5" x2="437.12" y2="799.7" stroke="#262626" stroke-width="1.2" />
<line x1="455.55" y1="797.5" x2="455.55" y2="801.6" stroke="#262626" stroke-width="1.2" />
<text x="455.55" y="820.2" font-size="14" text-anchor="middle" fill="#1e1e1e" font-weight="bold" font-style="normal" >20</text>
<line x1="473.97" y1="797.5" x2="473.97" y2="799.7" stroke="#262626" stroke-width="1.2" />
<line x1="492.4" y1="797.5" x2="492.4" y2="801.6" stroke="#262626" stroke-width="1.2" />
<text x="492.4" y="820.2" font-size="14" text-anchor="middle" fill="#1e1e1e" font-weight="bold" font-style="normal" >30</text>
<line x1="510.82" y1="797.5" x2="510.82" y2="799.7" stroke="#262626" stroke-width="1.2" />
<line x1="529.25" y1="797.5" x2="529.25" y2="801.6" stroke="#262626" stroke-width="1.2" />
<text x="529.25" y="820.2" font-size="14" text-anchor="middle" fill="#1e1e1e" font-weight="bold" font-style="normal" >40</text>
<line x1="547.67" y1="797.5" x2="547.67" y2="799.7" stroke="#262626" stroke-width="1.2" />
<line x1="566.1" y1="797.5" x2="566.1" y2="801.6" stroke="#262626" stroke-width="1.2" />
<text x="566.1" y="820.2" font-size="14" text-anchor="middle" fill="#1e1e1e" font-weight="bold" font-style="normal" >50</text>
<line x1="584.52" y1="797.5" x2="584.52" y2="799.7" stroke="#262626" stroke-width="1.2" />
<line x1="602.95" y1="797.5" x2="602.95" y2="801.6" stroke="#262626" stroke-width="1.2" />
<text x="602.95" y="820.2" font-size="14" text-anchor="middle" fill="#1e1e1e" font-weight="bold" font-style="normal" >60</text>
<line x1="621.38" y1="797.5" x2="621.38" y2="799.7" stroke="#262626" stroke-width="1.2" />
<line x1="639.8" y1="797.5" x2="639.8" y2="801.6" stroke="#262626" stroke-width="1.2" />
<text x="639.8" y="820.2" font-size="14" text-anchor="middle" fill="#1e1e1e" font-weight="bold" font-style="normal" >70</text>
<line x1="658.23" y1="797.5" x2="658.23" y2="799.7" stroke="#262626" stroke-width="1.2" />
<line x1="676.65" y1="797.5" x2="676.65" y2="801.6" stroke="#262626" stroke-width="1.2" />
<text x="676.65" y="820.2" font-size="14" text-anchor="middle" fill="#1e1e1e" font-weight="bold" font-style="normal" >80</text>
<text x="551.9" y="848" font-size="14" text-anchor="middle" fill="#1e1e1e" font-weight="bold" font-style="normal" >2 Theta (degree)</text>
<text transform="translate(406.6,697) rotate(-90)" x="0" y="0" font-size="14" text-anchor="middle" fill="#1e1e1e" font-weight="bold" >Intensity (arb.u.)</text>
<polyline points="418.7,721.13 418.85,721.32 418.99,721.21 419.14,721.35 419.29,721.36 419.44,721.02 419.58,720.99 419.73,721.49 419.88,721.14 420.03,721.12 420.17,721.58 420.32,721.26 420.47,721.48 420.62,721.26 420.76,721.36 420.91,721.06 421.06,721.35 421.21,721.49 421.35,721.28 421.5,721.41 421.65,721.37 421.8,721 421.94,721.42 422.09,721.32 422.24,721.14 422.38,720.98 422.53,721.48 422.68,721.24 422.83,721.39 422.97,721.48 423.12,721.38 423.27,721.51 423.42,721.19 423.56,721.43 423.71,721.22 423.86,721.51 424.01,721.47 424.15,721 424.3,721.03 424.45,721.07 424.6,721.52 424.74,721.2 424.89,721.32 425.04,721.12 425.19,721.24 425.33,721.17 425.48,721.15 425.63,721.28 425.78,721.28 425.92,721.47 426.07,721.34 426.22,721.49 426.36,721.44 426.51,721.52 426.66,721.33 426.81,721.02 426.95,721.44 427.1,721.5 427.25,721.46 427.4,721.26 427.54,721.35 427.69,721.04 427.84,721.41 427.99,721.26 428.13,721.08 428.28,720.95 428.43,721.42 428.58,721.5 428.72,720.96 428.87,721.39 429.02,721.15 429.17,720.99 429.31,721.08 429.46,721.36 429.61,721.42 429.75,720.93 429.9,721.27 430.05,720.92 430.2,721.33 430.34,721.09 430.49,721.42 430.64,721.48 430.79,721.19 430.93,721.49 431.08,721.07 431.23,720.93 431.38,721.25 431.52,720.9 431.67,721 431.82,721.13 431.97,721.25 432.11,720.97 432.26,720.9 432.41,721.4 432.56,721.06 432.7,721.45 432.85,721.41 433,721.1 433.15,721.15 433.29,721.18 433.44,721.25 433.59,721.22 433.73,721.2 433.88,721.24 434.03,721.43 434.18,721.17 434.32,721.12 434.47,721.29 434.62,721 434.77,721.04 434.91,721.44 435.06,721.17 435.21,721.18 435.36,720.86 435.5,721.1 435.65,721.2 435.8,720.86 435.95,721.22 436.09,721.22 436.24,720.88 436.39,721.22 436.54,721.12 436.68,721.25 436.83,721.05 436.98,721.26 437.12,721.28 437.27,720.85 437.42,720.87 437.57,721.24 437.71,721.41 437.86,720.98 438.01,721.1 438.16,721.18 438.3,721.02 438.45,721.04 438.6,721.01 438.75,721.04 438.89,721.18 439.04,721 439.19,721.05 439.34,721.28 439.48,720.83 439.63,721.16 439.78,721.26 439.93,721 440.07,720.95 440.22,721.29 440.37,720.95 440.52,720.92 440.66,721.07 440.81,721.22 440.96,720.87 441.1,721 441.25,721 441.4,721.3 441.55,721.06 441.69,721.31 441.84,720.9 441.99,721 442.14,721.18 442.28,721.32 442.43,721.06 442.58,720.93 442.73,720.86 442.87,721.11 443.02,720.9 443.17,721.27 443.32,721.29 443.46,720.89 443.61,720.95 443.76,721.26 443.91,721.16 444.05,721.26 444.2,720.98 444.35,720.85 444.5,720.95 444.64,721.25 444.79,720.93 444.94,720.98 445.08,721.02 445.23,721.02 445.38,721.01 445.53,721.32 445.67,720.86 445.82,720.76 445.97,721.33 446.12,721.29 446.26,721.35 446.41,721.02 446.56,721.33 446.71,721.31 446.85,720.89 447,721.2 447.15,721.25 447.3,721.15 447.44,721.06 447.59,720.92 447.74,720.95 447.89,720.88 448.03,720.78 448.18,721.09 448.33,720.91 448.47,721.22 448.62,720.76 448.77,721.28 448.92,721.15 449.06,721.29 449.21,721.27 449.36,721.27 449.51,721.08 449.65,720.74 449.8,721.17 449.95,720.83 450.1,720.9 450.24,721.12 450.39,721.04 450.54,720.97 450.69,721.28 450.83,721.08 450.98,720.92 451.13,720.87 451.28,721.23 451.42,721 451.57,721.18 451.72,720.92 451.87,720.83 452.01,721.03 452.16,721.2 452.31,720.81 452.45,721.18 452.6,721.25 452.75,721.18 452.9,721.19 453.04,720.7 453.19,721.07 453.34,721.21 453.49,720.72 453.63,720.85 453.78,720.85 453.93,721.01 454.08,720.94 454.22,720.97 454.37,721.15 454.52,720.68 454.67,720.72 454.81,720.76 454.96,720.75 455.11,720.72 455.26,721.26 455.4,721.19 455.55,720.73 455.7,720.97 455.84,720.86 455.99,720.86 456.14,720.88 456.29,721.06 456.43,721.02 456.58,720.88 456.73,720.78 456.88,720.86 457.02,720.73 457.17,720.99 457.32,721.09 457.47,720.88 457.61,720.7 457.76,720.76 457.91,720.88 458.06,721.01 458.2,721.12 458.35,720.88 458.5,721.13 458.65,721.02 458.79,720.9 458.94,720.87 459.09,720.94 459.24,721.06 459.38,720.89 459.53,721.05 459.68,720.91 459.82,720.78 459.97,720.95 460.12,721.05 460.27,720.67 460.41,720.88 460.56,720.88 460.71,721.15 460.86,721.18 461,720.85 461.15,721.16 461.3,721.09 461.45,720.77 461.59,720.89 461.74,720.69 461.89,721.1 462.04,721.01 462.18,721.14 462.33,721.08 462.48,721.01 462.63,721.05 462.77,720.94 462.92,720.66 463.07,720.95 463.21,720.6 463.36,720.68 463.51,721.06 463.66,720.62 463.8,720.65 463.95,720.65 464.1,721.12 464.25,720.7 464.39,720.6 464.54,721.09 464.69,720.66 464.84,721.09 464.98,720.98 465.13,721.08 465.28,721.15 465.43,720.92 465.57,721.05 465.72,720.59 465.87,721.03 466.02,720.87 466.16,720.99 466.31,720.63 466.46,721.01 466.61,721.12 466.75,720.6 466.9,720.75 467.05,720.89 467.19,721.05 467.34,720.7 467.49,720.66 467.64,720.7 467.78,720.92 467.93,721 468.08,720.78 468.23,720.76 468.37,720.78 468.52,720.75 468.67,720.79 468.82,720.58 468.96,720.83 469.11,721.11 469.26,720.77 469.41,720.97 469.55,720.62 469.7,720.94 469.85,720.97 470,720.92 470.14,720.82 470.29,720.8 470.44,720.9 470.58,721.05 470.73,720.6 470.88,720.56 471.03,720.95 471.17,721.05 471.32,720.81 471.47,720.76 471.62,720.92 471.76,720.6 471.91,720.65 472.06,720.6 472.21,720.83 472.35,720.67 472.5,720.62 472.65,720.89 472.8,721.04 472.94,720.65 473.09,720.89 473.24,720.71 473.39,720.97 473.53,720.81 473.68,720.61 473.83,720.58 473.97,720.46 474.12,720.73 474.27,720.67 474.42,720.54 474.56,720.65 474.71,720.62 474.86,720.89 475.01,720.51 475.15,721.01 475.3,720.7 475.45,720.77 475.6,720.69 475.74,720.9 475.89,720.89 476.04,720.73 476.19,720.67 476.33,720.81 476.48,720.89 476.63,720.61 476.78,720.81 476.92,720.94 477.07,720.63 477.22,720.48 477.37,720.48 477.51,720.76 477.66,720.73 477.81,720.89 477.95,720.82 478.1,720.45 478.25,720.41 478.4,720.44 478.54,720.39 478.69,720.69 478.84,720.77 478.99,720.79 479.13,720.39 479.28,720.74 479.43,720.4 479.58,720.45 479.72,720.62 479.87,720.22 480.02,720.21 480.17,720.64 480.31,720.29 480.46,720.31 480.61,720.43 480.76,720.46 480.9,720.04 481.05,720.21 481.2,720.24 481.34,720.24 481.49,720.05 481.64,720.24 481.79,720.42 481.93,720.05 482.08,720.1 482.23,719.79 482.38,719.84 482.52,720.02 482.67,719.63 482.82,720.04 482.97,719.98 483.11,719.43 483.26,719.86 483.41,719.45 483.56,719.61 483.7,719.52 483.85,719.16 484,719.31 484.15,719.22 484.29,719.24 484.44,718.85 484.59,719.09 484.74,719.17 484.88,718.97 485.03,718.88 485.18,718.63 485.32,718.87 485.47,718.82 485.62,719.09 485.77,719.12 485.91,719.11 486.06,718.95 486.21,719.3 486.36,719.36 486.5,719.16 486.65,719.66 486.8,719.58 486.95,719.32 487.09,719.87 487.24,719.44 487.39,719.61 487.54,719.88 487.68,719.85 487.83,719.85 487.98,719.94 488.13,719.85 488.27,719.78 488.42,719.71 488.57,719.66 488.71,720.05 488.86,720.07 489.01,719.94 489.16,720.04 489.3,719.79 489.45,719.7 489.6,719.73 489.75,719.97 489.89,719.41 490.04,719.6 490.19,719.33 490.34,719.5 490.48,719.07 490.63,718.82 490.78,718.55 490.93,718.23 491.07,717.84 491.22,716.92 491.37,716.38 491.52,715.02 491.66,714.29 491.81,713.74 491.96,713.91 492.11,714.99 492.25,715.88 492.4,716.45 492.55,717.22 492.69,717.97 492.84,718.64 492.99,719.04 493.14,719.28 493.28,719.41 493.43,719.32 493.58,719.61 493.73,719.6 493.87,719.89 494.02,719.99 494.17,719.83 494.32,719.92 494.46,720.28 494.61,719.87 494.76,720.37 494.91,720.45 495.05,720.51 495.2,720.19 495.35,720.31 495.5,720.35 495.64,720.39 495.79,720.61 495.94,720.45 496.08,720.23 496.23,720.57 496.38,720.36 496.53,720.43 496.67,720.52 496.82,720.09 496.97,720.55 497.12,720.49 497.26,720.4 497.41,720.42 497.56,720.38 497.71,720.23 497.85,720.43 498,720.14 498.15,720.42 498.3,720.5 498.44,720.38 498.59,720.46 498.74,720.69 498.89,720.65 499.03,720.2 499.18,720.59 499.33,720.49 499.48,720.15 499.62,720.33 499.77,720.26 499.92,720.16 500.06,720.44 500.21,720.67 500.36,720.31 500.51,720.63 500.65,720.53 500.8,720.19 500.95,720.62 501.1,720.46 501.24,720.66 501.39,720.53 501.54,720.54 501.69,720.3 501.83,720.57 501.98,720.64 502.13,720.6 502.28,720.34 502.42,720.53 502.57,720.36 502.72,720.13 502.87,720.09 503.01,720.11 503.16,720.18 503.31,720.15 503.45,720.35 503.6,720.46 503.75,720.36 503.9,720.29 504.04,720.42 504.19,720.2 504.34,720.29 504.49,720.46 504.63,720.24 504.78,720.11 504.93,720.53 505.08,720.42 505.22,720.2 505.37,720.19 505.52,720.28 505.67,720.31 505.81,720.08 505.96,719.94 506.11,720.05 506.26,720.39 506.4,720 506.55,720.18 506.7,720.01 506.85,720.01 506.99,719.97 507.14,720.1 507.29,719.95 507.43,719.85 507.58,719.89 507.73,719.91 507.88,720.09 508.02,719.81 508.17,719.78 508.32,720.01 508.47,719.97 508.61,720.13 508.76,719.72 508.91,719.91 509.06,719.89 509.2,719.65 509.35,720.19 509.5,719.71 509.65,719.61 509.79,719.81 509.94,719.6 510.09,719.84 510.24,719.65 510.38,719.48 510.53,719.4 510.68,719.76 510.82,719.45 510.97,719.71 511.12,719.47 511.27,719.7 511.41,719.27 511.56,719.18 511.71,719.13 511.86,719.39 512,719.2 512.15,718.95 512.3,718.71 512.45,718.97 512.59,719.04 512.74,718.7 512.89,718.22 513.04,718.1 513.18,717.98 513.33,717.86 513.48,717.59 513.63,717.39 513.77,717.51 513.92,717.39 514.07,716.67 514.22,716.79 514.36,716.09 514.51,715.83 514.66,715.36 514.8,714.75 514.95,713.47 515.1,712.75 515.25,711.87 515.39,710.79 515.54,708.69 515.69,706.84 515.84,704.68 515.98,701.04 516.13,697.04 516.28,691.51 516.43,684.37 516.57,674.66 516.72,661.18 516.87,645.22 517.02,627.42 517.16,613.42 517.31,609.91 517.46,619.58 517.61,636.04 517.75,653.53 517.9,668.14 518.05,679.84 518.19,688.17 518.34,694.4 518.49,699.11 518.64,703.08 518.78,705.83 518.93,708.1 519.08,709.67 519.23,711.15 519.37,712.11 519.52,713.4 519.67,713.79 519.82,714.74 519.96,715.49 520.11,715.93 520.26,716 520.41,716.46 520.55,717.14 520.7,717.3 520.85,717.69 521,717.91 521.14,717.85 521.29,718.3 521.44,718.36 521.59,718.26 521.73,718.41 521.88,718.35 522.03,718.65 522.17,719.08 522.32,718.66 522.47,719.02 522.62,718.81 522.76,718.86 522.91,719.27 523.06,719.08 523.21,719.02 523.35,719.13 523.5,719.47 523.65,719.48 523.8,719.17 523.94,719.34 524.09,719.82 524.24,719.4 524.39,719.63 524.53,719.58 524.68,719.82 524.83,719.74 524.98,719.87 525.12,719.74 525.27,719.55 525.42,719.56 525.56,719.52 525.71,719.99 525.86,719.57 526.01,719.53 526.15,720.11 526.3,719.66 526.45,720.09 526.6,719.62 526.74,719.86 526.89,719.72 527.04,720.09 527.19,719.97 527.33,720 527.48,720.07 527.63,720.15 527.78,719.84 527.92,720 528.07,719.91 528.22,719.71 528.37,720.15 528.51,720.01 528.66,720.14 528.81,719.78 528.96,719.98 529.1,719.94 529.25,720.1 529.4,719.71 529.54,719.87 529.69,719.95 529.84,719.7 529.99,719.99 530.13,720.1 530.28,719.91 530.43,720.04 530.58,720.01 530.72,719.77 530.87,719.85 531.02,720.23 531.17,719.83 531.31,719.88 531.46,719.66 531.61,719.74 531.76,719.7 531.9,720.15 532.05,720.02 532.2,720.09 532.35,720.15 532.49,719.91 532.64,720.09 532.79,719.84 532.93,719.75 533.08,720.05 533.23,720 533.38,720.01 533.52,719.71 533.67,719.86 533.82,719.61 533.97,719.93 534.11,719.86 534.26,719.44 534.41,719.79 534.56,719.3 534.7,719.2 534.85,719.52 535,719.21 535.15,719.28 535.29,719.28 535.44,718.85 535.59,719.18 535.74,718.8 535.88,718.78 536.03,718.6 536.18,718.69 536.33,718.53 536.47,718.06 536.62,717.73 536.77,717.58 536.91,717.34 537.06,716.77 537.21,716.37 537.36,716.2 537.5,715.5 537.65,714.85 537.8,713.83 537.95,712.46 538.09,710.49 538.24,708.2 538.39,705.48 538.54,701.96 538.68,697.5 538.83,692.36 538.98,687.3 539.13,684.39 539.27,684.05 539.42,687.36 539.57,692.57 539.72,697.67 539.86,701.86 540.01,705.44 540.16,708.59 540.3,710.27 540.45,712.02 540.6,713.56 540.75,714.58 540.89,715.18 541.04,715.77 541.19,716.4 541.34,717.18 541.48,717.37 541.63,717.99 541.78,718.13 541.93,718.47 542.07,718.1 542.22,718.36 542.37,718.4 542.52,718.78 542.66,718.83 542.81,718.76 542.96,719.15 543.11,718.95 543.25,719.15 543.4,719.18 543.55,719.57 543.7,719.39 543.84,719.34 543.99,719.26 544.14,719.53 544.28,719.68 544.43,719.74 544.58,719.91 544.73,719.88 544.87,719.57 545.02,719.53 545.17,719.92 545.32,719.96 545.46,719.81 545.61,720.02 545.76,719.87 545.91,719.72 546.05,719.67 546.2,719.59 546.35,719.98 546.5,720.14 546.64,720.16 546.79,719.91 546.94,720.04 547.09,720.2 547.23,720.14 547.38,720.02 547.53,719.92 547.67,719.99 547.82,719.79 547.97,719.8 548.12,720.11 548.26,720.3 548.41,720.03 548.56,719.96 548.71,719.93 548.85,719.99 549,720.21 549.15,720 549.3,720.31 549.44,719.83 549.59,719.93 549.74,720.06 549.89,719.99 550.03,720.26 550.18,720.25 550.33,720.31 550.48,720.12 550.62,719.78 550.77,720.1 550.92,720.09 551.07,720.06 551.21,719.93 551.36,720.19 551.51,720.32 551.65,719.83 551.8,720.17 551.95,720 552.1,720.08 552.24,720.31 552.39,720.35 552.54,720.16 552.69,719.9 552.83,720.33 552.98,719.89 553.13,720.01 553.28,720.28 553.42,719.97 553.57,719.95 553.72,720.35 553.87,720.35 554.01,719.98 554.16,720.02 554.31,719.95 554.46,719.86 554.6,719.94 554.75,720.37 554.9,719.83 555.04,719.92 555.19,719.91 555.34,719.83 555.49,720.1 555.63,720.23 555.78,720.29 555.93,720.17 556.08,720.28 556.22,719.79 556.37,719.96 556.52,720.36 556.67,719.83 556.81,719.95 556.96,720.08 557.11,719.95 557.26,720.11 557.4,719.81 557.55,719.93 557.7,720.36 557.85,719.87 557.99,720.33 558.14,719.89 558.29,720.38 558.44,720.19 558.58,720.17 558.73,719.87 558.88,719.81 559.02,720.24 559.17,719.88 559.32,719.89 559.47,720.27 559.61,720.3 559.76,719.81 559.91,720.35 560.06,720.1 560.2,720 560.35,719.84 560.5,720.01 560.65,720.36 560.79,719.94 560.94,719.85 561.09,719.86 561.24,719.85 561.38,719.98 561.53,720.32 561.68,719.81 561.83,719.88 561.97,720.33 562.12,720.36 562.27,720.35 562.41,719.91 562.56,719.97 562.71,720.33 562.86,720.05 563,720.18 563.15,719.95 563.3,719.77 563.45,719.96 563.59,720.2 563.74,720.22 563.89,720.09 564.04,720.03 564.18,720.07 564.33,720.01 564.48,720.07 564.63,720.25 564.77,719.87 564.92,720.1 565.07,720.3 565.22,720.25 565.36,719.85 565.51,720.32 565.66,720.24 565.81,719.84 565.95,719.89 566.1,719.85 566.25,719.76 566.39,720.32 566.54,719.97 566.69,720.25 566.84,719.8 566.98,719.73 567.13,720.25 567.28,720.2 567.43,720.31 567.57,720.13 567.72,720.03 567.87,720.17 568.02,719.77 568.16,720.04 568.31,719.97 568.46,719.79 568.61,720.07 568.75,719.9 568.9,720 569.05,719.92 569.2,719.89 569.34,719.91 569.49,720.05 569.64,720.28 569.78,720.25 569.93,720.2 570.08,720.18 570.23,719.85 570.37,720.26 570.52,719.83 570.67,719.74 570.82,719.96 570.96,720.1 571.11,719.86 571.26,720.04 571.41,719.81 571.55,720.22 571.7,719.91 571.85,719.92 572,719.94 572.14,720.14 572.29,720.2 572.44,719.92 572.59,719.86 572.73,719.95 572.88,719.61 573.03,719.81 573.18,720.05 573.32,720 573.47,719.55 573.62,720.01 573.76,719.71 573.91,720.04 574.06,719.64 574.21,719.52 574.35,719.69 574.5,719.85 574.65,719.53 574.8,719.73 574.94,719.58 575.09,719.29 575.24,719.16 575.39,719.19 575.53,719.01 575.68,718.87 575.83,718.9 575.98,718.91 576.12,718.63 576.27,718.29 576.42,718.31 576.57,718.42 576.71,718.64 576.86,718.46 577.01,718.55 577.15,718.82 577.3,718.92 577.45,718.88 577.6,719.29 577.74,719.6 577.89,719.45 578.04,719.63 578.19,719.74 578.33,719.79 578.48,719.87 578.63,719.62 578.78,719.8 578.92,719.48 579.07,719.96 579.22,719.68 579.37,719.75 579.51,720.02 579.66,719.67 579.81,719.62 579.96,720.01 580.1,719.88 580.25,719.58 580.4,719.55 580.55,719.75 580.69,719.55 580.84,720.05 580.99,719.67 581.13,719.72 581.28,719.8 581.43,719.87 581.58,719.83 581.72,719.95 581.87,719.97 582.02,719.84 582.17,719.63 582.31,720.16 582.46,719.99 582.61,719.63 582.76,719.84 582.9,720.03 583.05,720.18 583.2,719.62 583.35,719.59 583.49,719.87 583.64,719.83 583.79,720.12 583.94,720.08 584.08,719.78 584.23,719.83 584.38,719.93 584.52,720.11 584.67,719.7 584.82,719.81 584.97,719.63 585.11,719.96 585.26,719.59 585.41,720.14 585.56,719.89 585.7,719.92 585.85,719.63 586,719.71 586.15,719.85 586.29,720.09 586.44,719.89 586.59,719.74 586.74,720.16 586.88,719.96 587.03,719.88 587.18,719.69 587.33,719.74 587.47,720.1 587.62,719.64 587.77,719.88 587.92,719.93 588.06,719.77 588.21,720.02 588.36,720.1 588.5,720.07 588.65,720 588.8,719.67 588.95,719.59 589.09,719.81 589.24,719.74 589.39,719.66 589.54,720.07 589.68,719.67 589.83,720.04 589.98,720.1 590.13,719.61 590.27,720.09 590.42,719.77 590.57,719.66 590.72,719.64 590.86,719.55 591.01,719.83 591.16,719.76 591.31,720.04 591.45,720.02 591.6,719.56 591.75,719.76 591.89,719.75 592.04,719.62 592.19,719.67 592.34,719.67 592.48,719.93 592.63,719.71 592.78,719.58 592.93,719.64 593.07,719.77 593.22,719.84 593.37,719.65 593.52,719.92 593.66,719.63 593.81,719.9 593.96,719.86 594.11,719.6 594.25,719.94 594.4,719.72 594.55,719.81 594.7,719.84 594.84,719.86 594.99,719.74 595.14,719.51 595.29,719.94 595.43,719.98 595.58,719.76 595.73,719.81 595.87,719.62 596.02,720 596.17,719.87 596.32,719.59 596.46,719.94 596.61,720.04 596.76,719.65 596.91,720.04 597.05,719.73 597.2,719.54 597.35,719.86 597.5,719.63 597.64,719.86 597.79,719.77 597.94,719.48 598.09,719.73 598.23,719.92 598.38,719.69 598.53,719.72 598.68,719.91 598.82,719.66 598.97,719.68 599.12,719.73 599.26,719.87 599.41,719.49 599.56,719.42 599.71,719.82 599.85,719.69 600,719.53 600.15,719.88 600.3,719.87 600.44,719.66 600.59,719.92 600.74,719.82 600.89,719.76 601.03,719.48 601.18,719.3 601.33,719.69 601.48,719.72 601.62,719.48 601.77,719.55 601.92,719.59 602.07,719.39 602.21,719.64 602.36,719.55 602.51,719.43 602.66,719.25 602.8,719.51 602.95,719.35 603.1,719.58 603.24,719.23 603.39,719.35 603.54,719.21 603.69,719.31 603.83,719.39 603.98,719.09 604.13,719.03 604.28,719.26 604.42,719.06 604.57,719.21 604.72,718.97 604.87,718.9 605.01,719.12 605.16,719.3 605.31,719.22 605.46,718.95 605.6,718.82 605.75,718.56 605.9,718.61 606.05,718.54 606.19,718.83 606.34,718.22 606.49,718.6 606.63,718.18 606.78,718 606.93,717.71 607.08,717.92 607.22,717.2 607.37,717.14 607.52,716.76 607.67,716.15 607.81,715.66 607.96,715.5 608.11,714.62 608.26,713.63 608.4,712.54 608.55,710.54 608.7,709 608.85,706.64 608.99,703.41 609.14,700.22 609.29,697.17 609.44,694.15 609.58,693.39 609.73,694.05 609.88,696.98 610.03,700.1 610.17,703.57 610.32,706.4 610.47,709.08 610.61,710.92 610.76,712.28 610.91,713.58 611.06,714.37 611.2,715.36 611.35,715.65 611.5,716.33 611.65,716.77 611.79,716.99 611.94,717.08 612.09,717.4 612.24,717.89 612.38,717.82 612.53,718.3 612.68,718.29 612.83,718.67 612.97,718.72 613.12,718.74 613.27,718.6 613.42,718.48 613.56,718.85 613.71,719.02 613.86,719.18 614,718.8 614.15,718.82 614.3,719.35 614.45,719.24 614.59,719.12 614.74,719.3 614.89,718.97 615.04,719.24 615.18,719.33 615.33,719.32 615.48,719.07 615.63,719.07 615.77,719.38 615.92,719.56 616.07,719.12 616.22,719.06 616.36,719.11 616.51,719.55 616.66,719.32 616.81,719.37 616.95,719.7 617.1,719.48 617.25,719.28 617.4,719.55 617.54,719.14 617.69,719.31 617.84,719.57 617.98,719.26 618.13,719.18 618.28,719.48 618.43,719.37 618.57,719.76 618.72,719.24 618.87,719.67 619.02,719.42 619.16,719.68 619.31,719.47 619.46,719.6 619.61,719.4 619.75,719.34 619.9,719.48 620.05,719.69 620.2,719.42 620.34,719.35 620.49,719.47 620.64,719.28 620.79,719.41 620.93,719.57 621.08,719.55 621.23,719.59 621.38,719.4 621.52,719.24 621.67,719.25 621.82,719.44 621.96,719.35 622.11,719.58 622.26,719.39 622.41,719.69 622.55,719.6 622.7,719.63 622.85,719.68 623,719.55 623.14,719.49 623.29,719.42 623.44,719.28 623.59,719.72 623.73,719.54 623.88,719.3 624.03,719.8 624.18,719.59 624.32,719.61 624.47,719.5 624.62,719.32 624.77,719.84 624.91,719.34 625.06,719.46 625.21,719.84 625.35,719.31 625.5,719.54 625.65,719.53 625.8,719.39 625.94,719.79 626.09,719.49 626.24,719.24 626.39,719.52 626.53,719.24 626.68,719.66 626.83,719.76 626.98,719.78 627.12,719.26 627.27,719.64 627.42,719.42 627.57,719.52 627.71,719.41 627.86,719.41 628.01,719.31 628.16,719.61 628.3,719.28 628.45,719.81 628.6,719.25 628.75,719.81 628.89,719.34 629.04,719.28 629.19,719.67 629.33,719.54 629.48,719.68 629.63,719.53 629.78,719.6 629.92,719.27 630.07,719.62 630.22,719.53 630.37,719.8 630.51,719.22 630.66,719.26 630.81,719.62 630.96,719.77 631.1,719.47 631.25,719.64 631.4,719.55 631.55,719.44 631.69,719.49 631.84,719.57 631.99,719.22 632.14,719.39 632.28,719.65 632.43,719.36 632.58,719.49 632.72,719.35 632.87,719.41 633.02,719.59 633.17,719.64 633.31,719.77 633.46,719.48 633.61,719.32 633.76,719.39 633.9,719.23 634.05,719.33 634.2,719.54 634.35,719.55 634.49,719.33 634.64,719.29 634.79,719.24 634.94,719.29 635.08,719.48 635.23,719.33 635.38,719.71 635.53,719.52 635.67,719.38 635.82,719.43 635.97,719.2 636.12,719.61 636.26,719.62 636.41,719.39 636.56,719.6 636.7,719.33 636.85,719.29 637,719.3 637.15,719.28 637.29,719.52 637.44,719.54 637.59,719.59 637.74,719.22 637.88,719.61 638.03,719.44 638.18,719.38 638.33,719.45 638.47,719.4 638.62,719.26 638.77,719.38 638.92,719.53 639.06,719.57 639.21,719.68 639.36,719.25 639.51,719.67 639.65,719.61 639.8,719.55 639.95,719.71 640.09,719.21 640.24,719.59 640.39,719.66 640.54,719.19 640.68,719.47 640.83,719.68 640.98,719.29 641.13,719.62 641.27,719.65 641.42,719.36 641.57,719.19 641.72,719.23 641.86,719.59 642.01,719.34 642.16,719.28 642.31,719.35 642.45,719.64 642.6,719.23 642.75,719.09 642.9,719.64 643.04,719.26 643.19,719.3 643.34,719.65 643.49,719.23 643.63,719.11 643.78,719.59 643.93,719.2 644.07,719.18 644.22,719.6 644.37,719.17 644.52,719.57 644.66,719.23 644.81,719.21 644.96,719.15 645.11,719.34 645.25,719.35 645.4,719.24 645.55,719.3 645.7,719.17 645.84,719.49 645.99,719.54 646.14,719.42 646.29,719.46 646.43,719 646.58,719.1 646.73,719.07 646.88,719.03 647.02,719.51 647.17,719.46 647.32,719.46 647.46,719.23 647.61,718.95 647.76,719.13 647.91,718.89 648.05,719.39 648.2,718.99 648.35,718.99 648.5,719.37 648.64,718.9 648.79,719.32 648.94,718.93 649.09,719.12 649.23,718.76 649.38,719.21 649.53,718.88 649.68,718.82 649.82,718.97 649.97,718.9 650.12,718.65 650.27,718.53 650.41,718.75 650.56,718.37 650.71,718.81 650.86,718.42 651,718.24 651.15,718.24 651.3,718.01 651.44,718.01 651.59,718.01 651.74,717.77 651.89,717.54 652.03,717.29 652.18,717.14 652.33,716.99 652.48,716.4 652.62,716.11 652.77,715.35 652.92,714.39 653.07,713.48 653.21,712.7 653.36,710.98 653.51,709.07 653.66,706.96 653.8,704.77 653.95,702.31 654.1,700.96 654.25,700.96 654.39,702.09 654.54,704.58 654.69,706.92 654.83,709.13 654.98,710.95 655.13,712.45 655.28,713.78 655.42,714.4 655.57,715.62 655.72,715.69 655.87,716.62 656.01,716.59 656.16,717.28 656.31,717.23 656.46,717.34 656.6,717.8 656.75,718.14 656.9,718.28 657.05,718.41 657.19,718.58 657.34,718.11 657.49,718.38 657.64,718.28 657.78,718.73 657.93,718.6 658.08,718.83 658.23,718.9 658.37,719.06 658.52,718.9 658.67,719.05 658.81,718.88 658.96,718.62 659.11,719.13 659.26,718.67 659.4,718.69 659.55,719.15 659.7,718.84 659.85,719.08 659.99,718.71 660.14,718.83 660.29,719.15 660.44,718.75 660.58,719.04 660.73,719.31 660.88,718.88 661.03,719.18 661.17,719.21 661.32,719.14 661.47,719.23 661.62,719.19 661.76,718.79 661.91,718.9 662.06,719.11 662.2,719.37 662.35,718.92 662.5,719.14 662.65,718.86 662.79,719.29 662.94,719.05 663.09,719.1 663.24,719.18 663.38,718.86 663.53,719.21 663.68,719.25 663.83,719.28 663.97,718.93 664.12,718.89 664.27,718.84 664.42,719.28 664.56,718.99 664.71,718.95 664.86,719.01 665.01,719.1 665.15,718.86 665.3,718.85 665.45,719.09 665.6,719.07 665.74,718.75 665.89,718.58 666.04,719.05 666.18,718.88 666.33,718.75 666.48,718.56 666.63,718.81 666.77,718.4 666.92,718.15 667.07,717.93 667.22,717.89 667.36,717.81 667.51,717.37 667.66,717.35 667.81,716.7 667.95,716.01 668.1,715.48 668.25,714.79 668.4,714.28 668.54,714.01 668.69,714.22 668.84,714.72 668.99,715.58 669.13,715.85 669.28,716.78 669.43,716.96 669.57,717.66 669.72,717.49 669.87,717.97 670.02,718.13 670.16,718.44 670.31,718.26 670.46,718.39 670.61,718.4 670.75,718.72 670.9,718.79 671.05,718.49 671.2,718.64 671.34,718.69 671.49,719.17 671.64,718.9 671.79,718.98 671.93,718.84 672.08,719.08 672.23,719.19 672.38,719.12 672.52,718.73 672.67,719 672.82,719.04 672.97,718.78 673.11,719.24 673.26,718.96 673.41,718.95 673.55,719.16 673.7,719.14 673.85,719.09 674,719.31 674.14,719.11 674.29,719.01 674.44,718.85 674.59,719.14 674.73,719.03 674.88,719.14 675.03,719.03 675.18,718.82 675.32,718.84 675.47,718.92 675.62,718.88 675.77,719.34 675.91,719.18 676.06,718.97 676.21,719.26 676.36,719.21 676.5,718.87 676.65,719.28" fill="none" stroke="#e53f41" stroke-width="1.1" stroke-linejoin="round" />
<polyline points="418.7,778.18 418.85,778.63 418.99,778.12 419.14,778.2 419.29,778.18 419.44,778.54 419.58,778.52 419.73,778.37 419.88,778.11 420.03,778.27 420.17,778.44 420.32,778.05 420.47,778.56 420.62,778.51 420.76,778.56 420.91,778.42 421.06,778.37 421.21,778.58 421.35,778.15 421.5,778.17 421.65,778.06 421.8,778.09 421.94,778.46 422.09,778.03 422.24,778.42 422.38,778.21 422.53,778.49 422.68,778.42 422.83,778.37 422.97,778.46 423.12,777.98 423.27,778.11 423.42,778.17 423.56,778.2 423.71,778.34 423.86,778.46 424.01,778.38 424.15,778.48 424.3,778.34 424.45,778.13 424.6,778.22 424.74,778.36 424.89,778.4 425.04,778.13 425.19,778.11 425.33,778.26 425.48,778.03 425.63,778.42 425.78,777.88 425.92,778.27 426.07,778.16 426.22,777.98 426.36,778.2 426.51,778.14 426.66,778.43 426.81,778.38 426.95,778.19 427.1,778.36 427.25,778.36 427.4,777.93 427.54,778.32 427.69,778.32 427.84,778.4 427.99,778.26 428.13,778.03 428.28,777.92 428.43,778.18 428.58,777.91 428.72,778.23 428.87,778.11 429.02,778.26 429.17,777.97 429.31,777.93 429.46,778.29 429.61,778.14 429.75,777.96 429.9,778.06 430.05,777.98 430.2,778.1 430.34,778.01 430.49,777.87 430.64,778.28 430.79,778.21 430.93,778.13 431.08,777.84 431.23,777.78 431.38,778.09 431.52,778.14 431.67,778.03 431.82,777.76 431.97,778.06 432.11,777.93 432.26,777.83 432.41,777.95 432.56,777.86 432.7,777.97 432.85,778.02 433,778.16 433.15,777.62 433.29,777.89 433.44,778.11 433.59,777.92 433.73,777.87 433.88,778.02 434.03,777.52 434.18,777.97 434.32,777.86 434.47,777.83 434.62,777.65 434.77,777.83 434.91,777.52 435.06,777.75 435.21,777.58 435.36,777.98 435.5,777.89 435.65,777.68 435.8,777.84 435.95,777.61 436.09,777.68 436.24,777.45 436.39,777.86 436.54,777.79 436.68,777.78 436.83,777.36 436.98,777.79 437.12,777.3 437.27,777.62 437.42,777.56 437.57,777.29 437.71,777.5 437.86,777.77 438.01,777.6 438.16,777.4 438.3,777.69 438.45,777.4 438.6,777.72 438.75,777.41 438.89,777.2 439.04,777.72 439.19,777.17 439.34,777.27 439.48,777.57 439.63,777.16 439.78,777.41 439.93,777.58 440.07,777.41 440.22,777.25 440.37,777.48 440.52,777.51 440.66,777.35 440.81,777.37 440.96,777.17 441.1,777.21 441.25,777.55 441.4,777.52 441.55,776.93 441.69,777.03 441.84,777.03 441.99,777.36 442.14,776.99 442.28,776.96 442.43,777.31 442.58,776.93 442.73,777.41 442.87,777.08 443.02,777.33 443.17,777.27 443.32,776.89 443.46,777.22 443.61,776.99 443.76,776.86 443.91,776.74 444.05,777.12 444.2,777.02 444.35,776.85 444.5,777.15 444.64,776.76 444.79,776.89 444.94,776.66 445.08,776.81 445.23,777.12 445.38,776.87 445.53,776.65 445.67,776.68 445.82,776.92 445.97,776.68 446.12,777.03 446.26,776.52 446.41,776.99 446.56,776.83 446.71,776.94 446.85,776.64 447,776.46 447.15,776.51 447.3,776.77 447.44,776.39 447.59,776.43 447.74,776.82 447.89,776.86 448.03,776.84 448.18,776.81 448.33,776.63 448.47,776.81 448.62,776.69 448.77,776.59 448.92,776.5 449.06,776.24 449.21,776.27 449.36,776.35 449.51,776.47 449.65,776.25 449.8,776.75 449.95,776.5 450.1,776.58 450.24,776.66 450.39,776.25 450.54,776.63 450.69,776.66 450.83,776.24 450.98,776.14 451.13,776.53 451.28,776.57 451.42,776.51 451.57,776.26 451.72,776.37 451.87,776.06 452.01,776.12 452.16,776.22 452.31,776.41 452.45,776 452.6,776.49 452.75,775.94 452.9,776.5 453.04,776.05 453.19,776.39 453.34,776.37 453.49,776.45 453.63,776.15 453.78,776.27 453.93,776.02 454.08,776.33 454.22,775.89 454.37,776.35 454.52,776.16 454.67,775.83 454.81,776.35 454.96,775.97 455.11,775.81 455.26,775.92 455.4,775.77 455.55,775.92 455.7,776.16 455.84,776.32 455.99,776.1 456.14,776.23 456.29,776.2 456.43,776.13 456.58,775.93 456.73,775.84 456.88,775.78 457.02,776 457.17,775.79 457.32,776.11 457.47,775.85 457.61,776 457.76,775.97 457.91,776.02 458.06,775.73 458.2,775.79 458.35,776.04 458.5,775.75 458.65,776.02 458.79,776.19 458.94,775.84 459.09,776.18 459.24,775.97 459.38,776.17 459.53,775.91 459.68,776.05 459.82,776 459.97,775.71 460.12,775.9 460.27,775.93 460.41,775.86 460.56,775.98 460.71,776.13 460.86,776.06 461,776.07 461.15,775.66 461.3,776 461.45,775.95 461.59,776.14 461.74,775.58 461.89,775.68 462.04,776.16 462.18,775.8 462.33,776 462.48,775.93 462.63,775.82 462.77,775.84 462.92,775.92 463.07,776.18 463.21,775.91 463.36,776.06 463.51,775.77 463.66,776.02 463.8,775.96 463.95,776.05 464.1,776.13 464.25,775.65 464.39,776.19 464.54,775.98 464.69,775.77 464.84,775.9 464.98,775.69 465.13,775.77 465.28,776.14 465.43,776.07 465.57,776.17 465.72,775.75 465.87,775.72 466.02,775.89 466.16,775.97 466.31,776.1 466.46,775.86 466.61,776.13 466.75,776.04 466.9,775.87 467.05,776.18 467.19,775.76 467.34,776.08 467.49,775.84 467.64,775.76 467.78,776.03 467.93,776.06 468.08,776.13 468.23,775.99 468.37,776.33 468.52,776.25 468.67,775.88 468.82,775.8 468.96,776.39 469.11,776.06 469.26,775.89 469.41,775.94 469.55,776.27 469.7,775.96 469.85,776.09 470,776.28 470.14,776.09 470.29,776.29 470.44,776.47 470.58,776.39 470.73,776.3 470.88,776.31 471.03,776.13 471.17,776.34 471.32,776.35 471.47,776.33 471.62,776.28 471.76,776.45 471.91,776.13 472.06,776.45 472.21,776.62 472.35,776.06 472.5,776.2 472.65,776.66 472.8,776.12 472.94,776.58 473.09,776.45 473.24,776.15 473.39,776.5 473.53,776.14 473.68,776.65 473.83,776.34 473.97,776.72 474.12,776.72 474.27,776.27 474.42,776.45 474.56,776.31 474.71,776.68 474.86,776.3 475.01,776.3 475.15,776.33 475.3,776.79 475.45,776.44 475.6,776.49 475.74,776.58 475.89,776.66 476.04,776.59 476.19,776.92 476.33,776.57 476.48,776.66 476.63,776.9 476.78,776.54 476.92,776.51 477.07,776.92 477.22,776.62 477.37,776.98 477.51,776.95 477.66,776.7 477.81,776.68 477.95,776.56 478.1,777.03 478.25,776.79 478.4,776.74 478.54,776.65 478.69,776.69 478.84,777.09 478.99,776.66 479.13,776.92 479.28,776.98 479.43,776.93 479.58,776.93 479.72,776.88 479.87,776.76 480.02,777.15 480.17,777.21 480.31,777.02 480.46,776.85 480.61,777.25 480.76,776.84 480.9,776.83 481.05,777.12 481.2,777.25 481.34,777.11 481.49,776.84 481.64,777.37 481.79,776.89 481.93,777.01 482.08,777.41 482.23,777.3 482.38,777.29 482.52,776.89 482.67,777.37 482.82,777.11 482.97,776.88 483.11,777.36 483.26,777.45 483.41,776.93 483.56,777.19 483.7,777.47 483.85,777.13 484,777.13 484.15,777.42 484.29,777.23 484.44,777.57 484.59,777.49 484.74,777.5 484.88,777.42 485.03,777.12 485.18,777.42 485.32,777.37 485.47,777.32 485.62,777.37 485.77,777.23 485.91,777.17 486.06,777.6 486.21,777.28 486.36,777.13 486.5,777.66 486.65,777.39 486.8,777.49 486.95,777.29 487.09,777.18 487.24,777.3 487.39,777.6 487.54,777.27 487.68,777.66 487.83,777.29 487.98,777.65 488.13,777.22 488.27,777.38 488.42,777.19 488.57,777.2 488.71,777.42 488.86,777.32 489.01,777.41 489.16,777.21 489.3,777.25 489.45,777.24 489.6,777.57 489.75,777.05 489.89,777.22 490.04,777.44 490.19,777.22 490.34,776.97 490.48,777.33 490.63,776.69 490.78,776.57 490.93,776.33 491.07,776.37 491.22,776.35 491.37,775.69 491.52,775.37 491.66,775.39 491.81,774.82 491.96,774.84 492.11,775.46 492.25,775.44 492.4,776.04 492.55,776.11 492.69,776.64 492.84,776.99 492.99,776.91 493.14,776.93 493.28,777.25 493.43,777.38 493.58,777.06 493.73,777.22 493.87,777.35 494.02,777.47 494.17,777.36 494.32,777.62 494.46,777.41 494.61,777.82 494.76,777.51 494.91,777.44 495.05,777.37 495.2,777.42 495.35,777.48 495.5,777.89 495.64,777.63 495.79,777.65 495.94,777.97 496.08,777.98 496.23,777.87 496.38,777.56 496.53,777.62 496.67,777.73 496.82,777.59 496.97,777.65 497.12,777.57 497.26,777.59 497.41,777.9 497.56,777.82 497.71,777.73 497.85,777.75 498,777.84 498.15,777.88 498.3,777.49 498.44,777.98 498.59,777.76 498.74,777.69 498.89,778.06 499.03,777.94 499.18,777.7 499.33,777.51 499.48,777.76 499.62,777.76 499.77,777.72 499.92,777.56 500.06,777.85 500.21,777.66 500.36,777.96 500.51,777.82 500.65,777.68 500.8,778 500.95,777.78 501.1,777.56 501.24,777.68 501.39,777.54 501.54,777.77 501.69,778.06 501.83,778.07 501.98,777.9 502.13,777.6 502.28,777.65 502.42,777.63 502.57,777.73 502.72,777.89 502.87,777.52 503.01,777.8 503.16,777.76 503.31,777.9 503.45,778 503.6,777.74 503.75,777.86 503.9,777.67 504.04,777.77 504.19,777.88 504.34,777.53 504.49,777.8 504.63,777.8 504.78,777.6 504.93,777.64 505.08,777.98 505.22,777.69 505.37,777.6 505.52,777.65 505.67,777.79 505.81,777.71 505.96,777.68 506.11,777.66 506.26,777.59 506.4,777.76 506.55,777.82 506.7,777.51 506.85,777.8 506.99,777.63 507.14,778.03 507.29,778 507.43,777.51 507.58,777.84 507.73,777.63 507.88,777.48 508.02,777.93 508.17,777.94 508.32,777.86 508.47,777.77 508.61,777.96 508.76,777.7 508.91,777.77 509.06,777.74 509.2,777.86 509.35,777.85 509.5,777.5 509.65,777.43 509.79,777.63 509.94,777.64 510.09,777.48 510.24,777.77 510.38,777.75 510.53,777.64 510.68,777.53 510.82,777.61 510.97,777.29 511.12,777.63 511.27,777.2 511.41,777.64 511.56,777.45 511.71,777.21 511.86,777.13 512,777.34 512.15,777.22 512.3,777.33 512.45,776.92 512.59,777.34 512.74,777.02 512.89,776.97 513.04,777.09 513.18,776.94 513.33,776.77 513.48,776.59 513.63,776.6 513.77,776.23 513.92,776.25 514.07,776.45 514.22,775.87 514.36,775.68 514.51,775.93 514.66,775.4 514.8,775.22 514.95,774.92 515.1,774.61 515.25,773.9 515.39,773.6 515.54,772.44 515.69,772.08 515.84,770.67 515.98,769.47 516.13,767.48 516.28,765.4 516.43,762.09 516.57,758.16 516.72,752.75 516.87,746.71 517.02,740 517.16,734.54 517.31,733.69 517.46,737.19 517.61,742.96 517.75,749.61 517.9,755.88 518.05,760.54 518.19,763.58 518.34,766.66 518.49,768.8 518.64,769.97 518.78,771.51 518.93,772.19 519.08,773.26 519.23,773.72 519.37,774.22 519.52,774.43 519.67,775.11 519.82,775.44 519.96,775.45 520.11,775.52 520.26,775.74 520.41,776 520.55,776.59 520.7,776.57 520.85,776.77 521,776.78 521.14,776.5 521.29,776.73 521.44,777.14 521.59,777.14 521.73,777.28 521.88,777.23 522.03,777.21 522.17,777.29 522.32,777.42 522.47,777.16 522.62,776.96 522.76,777.16 522.91,777.01 523.06,777.19 523.21,777.4 523.35,777.23 523.5,777.24 523.65,777.17 523.8,777.34 523.94,777.45 524.09,777.51 524.24,777.74 524.39,777.23 524.53,777.35 524.68,777.25 524.83,777.78 524.98,777.61 525.12,777.63 525.27,777.73 525.42,777.26 525.56,777.8 525.71,777.47 525.86,777.65 526.01,777.52 526.15,777.74 526.3,777.47 526.45,777.46 526.6,777.45 526.74,777.74 526.89,777.58 527.04,777.41 527.19,777.53 527.33,777.66 527.48,777.55 527.63,777.68 527.78,777.83 527.92,777.71 528.07,777.81 528.22,777.52 528.37,777.86 528.51,777.9 528.66,777.65 528.81,777.35 528.96,777.39 529.1,777.79 529.25,777.86 529.4,777.77 529.54,777.64 529.69,777.66 529.84,777.4 529.99,777.69 530.13,777.93 530.28,777.45 530.43,777.7 530.58,777.84 530.72,777.72 530.87,777.53 531.02,777.46 531.17,777.76 531.31,777.87 531.46,777.84 531.61,777.55 531.76,777.75 531.9,777.78 532.05,777.52 532.2,777.74 532.35,777.51 532.49,777.39 532.64,777.26 532.79,777.69 532.93,777.7 533.08,777.26 533.23,777.27 533.38,777.41 533.52,777.33 533.67,777.63 533.82,777.29 533.97,777.52 534.11,777.48 534.26,777.34 534.41,777.63 534.56,777.35 534.7,777.37 534.85,777.44 535,777.26 535.15,777.09 535.29,777.52 535.44,777.36 535.59,777.19 535.74,777.11 535.88,777.13 536.03,776.87 536.18,776.67 536.33,776.87 536.47,776.99 536.62,776.4 536.77,776.8 536.91,776.29 537.06,776.48 537.21,776.13 537.36,775.58 537.5,775.23 537.65,775.25 537.8,774.83 537.95,774.13 538.09,773.25 538.24,772.28 538.39,771.23 538.54,769.77 538.68,768.02 538.83,765.79 538.98,764.37 539.13,763.37 539.27,763.14 539.42,763.88 539.57,765.73 539.72,767.91 539.86,769.53 540.01,771.31 540.16,772.33 540.3,773.32 540.45,773.74 540.6,774.55 540.75,775.14 540.89,775.65 541.04,775.95 541.19,775.82 541.34,776.18 541.48,776.64 541.63,776.26 541.78,776.37 541.93,776.55 542.07,776.97 542.22,776.81 542.37,777.11 542.52,777.25 542.66,777.29 542.81,776.88 542.96,777.31 543.11,777.41 543.25,777.39 543.4,777.52 543.55,777.52 543.7,777.42 543.84,777.6 543.99,777.43 544.14,777.18 544.28,777.31 544.43,777.71 544.58,777.37 544.73,777.46 544.87,777.72 545.02,777.62 545.17,777.69 545.32,777.51 545.46,777.54 545.61,777.29 545.76,777.37 545.91,777.35 546.05,777.59 546.2,777.59 546.35,777.32 546.5,777.66 546.64,777.35 546.79,777.52 546.94,777.31 547.09,777.59 547.23,777.39 547.38,777.87 547.53,777.53 547.67,777.81 547.82,777.59 547.97,777.52 548.12,777.83 548.26,777.49 548.41,777.64 548.56,777.72 548.71,777.93 548.85,777.76 549,777.37 549.15,777.61 549.3,777.91 549.44,777.86 549.59,777.57 549.74,777.42 549.89,777.51 550.03,777.8 550.18,777.46 550.33,777.89 550.48,777.51 550.62,777.77 550.77,777.77 550.92,777.5 551.07,777.67 551.21,777.73 551.36,777.52 551.51,777.68 551.65,777.74 551.8,777.93 551.95,777.53 552.1,777.47 552.24,777.67 552.39,777.72 552.54,777.65 552.69,777.91 552.83,777.48 552.98,777.67 553.13,777.65 553.28,777.48 553.42,777.64 553.57,777.64 553.72,777.59 553.87,777.83 554.01,777.96 554.16,777.95 554.31,777.5 554.46,777.59 554.6,777.93 554.75,777.41 554.9,777.42 555.04,777.4 555.19,777.94 555.34,777.67 555.49,777.62 555.63,777.42 555.78,777.89 555.93,777.96 556.08,777.78 556.22,777.91 556.37,777.7 556.52,777.55 556.67,777.47 556.81,777.54 556.96,777.45 557.11,777.58 557.26,777.39 557.4,777.39 557.55,777.9 557.7,777.87 557.85,777.85 557.99,777.57 558.14,777.63 558.29,777.69 558.44,777.83 558.58,777.54 558.73,777.67 558.88,777.69 559.02,777.86 559.17,777.57 559.32,777.36 559.47,777.6 559.61,777.89 559.76,777.46 559.91,777.73 560.06,777.43 560.2,777.52 560.35,777.73 560.5,777.42 560.65,777.63 560.79,777.7 560.94,777.58 561.09,777.81 561.24,777.86 561.38,777.52 561.53,777.81 561.68,777.8 561.83,777.71 561.97,777.7 562.12,777.69 562.27,777.79 562.41,777.76 562.56,777.51 562.71,777.74 562.86,777.77 563,777.62 563.15,777.88 563.3,777.53 563.45,777.67 563.59,777.68 563.74,777.7 563.89,777.45 564.04,777.74 564.18,777.41 564.33,777.66 564.48,777.61 564.63,777.76 564.77,777.85 564.92,777.93 565.07,777.47 565.22,777.88 565.36,777.62 565.51,777.64 565.66,777.36 565.81,777.85 565.95,777.47 566.1,777.5 566.25,777.52 566.39,777.47 566.54,777.5 566.69,777.5 566.84,777.65 566.98,777.55 567.13,777.78 567.28,777.89 567.43,777.89 567.57,777.55 567.72,777.74 567.87,777.76 568.02,777.76 568.16,777.56 568.31,777.44 568.46,777.78 568.61,777.72 568.75,777.53 568.9,777.72 569.05,777.36 569.2,777.79 569.34,777.86 569.49,777.9 569.64,777.39 569.78,777.73 569.93,777.79 570.08,777.4 570.23,777.68 570.37,777.43 570.52,777.44 570.67,777.33 570.82,777.48 570.96,777.82 571.11,777.66 571.26,777.79 571.41,777.89 571.55,777.4 571.7,777.82 571.85,777.84 572,777.7 572.14,777.51 572.29,777.41 572.44,777.57 572.59,777.53 572.73,777.46 572.88,777.71 573.03,777.68 573.18,777.46 573.32,777.4 573.47,777.6 573.62,777.73 573.76,777.7 573.91,777.68 574.06,777.83 574.21,777.75 574.35,777.56 574.5,777.74 574.65,777.69 574.8,777.5 574.94,777.39 575.09,777.52 575.24,777.72 575.39,777.74 575.53,777.47 575.68,777.61 575.83,777.33 575.98,777.65 576.12,777.56 576.27,777.75 576.42,777.8 576.57,777.32 576.71,777.86 576.86,777.39 577.01,777.86 577.15,777.87 577.3,777.41 577.45,777.45 577.6,777.37 577.74,777.82 577.89,777.73 578.04,777.86 578.19,777.76 578.33,777.49 578.48,777.74 578.63,777.49 578.78,777.47 578.92,777.53 579.07,777.69 579.22,777.46 579.37,777.61 579.51,777.61 579.66,777.74 579.81,777.55 579.96,777.52 580.1,777.6 580.25,777.54 580.4,777.7 580.55,777.33 580.69,777.37 580.84,777.28 580.99,777.51 581.13,777.77 581.28,777.62 581.43,777.64 581.58,777.82 581.72,777.75 581.87,777.43 582.02,777.39 582.17,777.58 582.31,777.39 582.46,777.61 582.61,777.3 582.76,777.49 582.9,777.68 583.05,777.4 583.2,777.34 583.35,777.7 583.49,777.36 583.64,777.79 583.79,777.61 583.94,777.78 584.08,777.56 584.23,777.54 584.38,777.4 584.52,777.28 584.67,777.81 584.82,777.37 584.97,777.29 585.11,777.8 585.26,777.56 585.41,777.58 585.56,777.79 585.7,777.67 585.85,777.39 586,777.4 586.15,777.63 586.29,777.64 586.44,777.36 586.59,777.38 586.74,777.53 586.88,777.26 587.03,777.71 587.18,777.62 587.33,777.31 587.47,777.57 587.62,777.58 587.77,777.27 587.92,777.48 588.06,777.69 588.21,777.49 588.36,777.65 588.5,777.36 588.65,777.81 588.8,777.62 588.95,777.55 589.09,777.22 589.24,777.42 589.39,777.21 589.54,777.47 589.68,777.31 589.83,777.35 589.98,777.39 590.13,777.29 590.27,777.37 590.42,777.51 590.57,777.28 590.72,777.54 590.86,777.77 591.01,777.63 591.16,777.77 591.31,777.26 591.45,777.59 591.6,777.34 591.75,777.75 591.89,777.49 592.04,777.62 592.19,777.65 592.34,777.27 592.48,777.25 592.63,777.67 592.78,777.68 592.93,777.44 593.07,777.2 593.22,777.2 593.37,777.66 593.52,777.59 593.66,777.4 593.81,777.58 593.96,777.66 594.11,777.18 594.25,777.62 594.4,777.76 594.55,777.69 594.7,777.7 594.84,777.43 594.99,777.53 595.14,777.23 595.29,777.64 595.43,777.55 595.58,777.4 595.73,777.19 595.87,777.26 596.02,777.39 596.17,777.7 596.32,777.43 596.46,777.67 596.61,777.26 596.76,777.3 596.91,777.28 597.05,777.31 597.2,777.61 597.35,777.36 597.5,777.32 597.64,777.54 597.79,777.4 597.94,777.65 598.09,777.54 598.23,777.62 598.38,777.38 598.53,777.35 598.68,777.39 598.82,777.7 598.97,777.67 599.12,777.45 599.26,777.4 599.41,777.14 599.56,777.61 599.71,777.46 599.85,777.34 600,777.19 600.15,777.37 600.3,777.5 600.44,777.24 600.59,777.23 600.74,777.37 600.89,777.36 601.03,777.06 601.18,777.09 601.33,777.27 601.48,777.47 601.62,777.27 601.77,777.04 601.92,777.17 602.07,777.14 602.21,777.47 602.36,777.14 602.51,777.59 602.66,777.16 602.8,777.09 602.95,776.98 603.1,777.26 603.24,777.26 603.39,777.41 603.54,777.33 603.69,777.24 603.83,776.94 603.98,777.45 604.13,777.03 604.28,777 604.42,776.95 604.57,777.18 604.72,777.2 604.87,776.97 605.01,776.91 605.16,776.74 605.31,777.06 605.46,777.1 605.6,776.7 605.75,776.74 605.9,777 606.05,776.93 606.19,776.53 606.34,776.97 606.49,776.74 606.63,776.66 606.78,776.33 606.93,776.61 607.08,776.18 607.22,776.15 607.37,776.19 607.52,775.9 607.67,775.27 607.81,774.96 607.96,774.66 608.11,774.19 608.26,774.13 608.4,773.29 608.55,772.46 608.7,771.42 608.85,770.31 608.99,768.89 609.14,767.55 609.29,765.9 609.44,765.07 609.58,764.64 609.73,765.07 609.88,766.1 610.03,767.21 610.17,768.88 610.32,770.51 610.47,771.4 610.61,772.51 610.76,773.08 610.91,774.08 611.06,774.3 611.2,774.74 611.35,775.35 611.5,775.2 611.65,775.39 611.79,775.83 611.94,776.01 612.09,775.95 612.24,776.24 612.38,776.57 612.53,776.73 612.68,776.83 612.83,776.83 612.97,776.45 613.12,776.68 613.27,776.78 613.42,776.57 613.56,777.06 613.71,776.79 613.86,777.12 614,777.09 614.15,776.87 614.3,776.94 614.45,777.02 614.59,776.89 614.74,776.8 614.89,777.06 615.04,776.96 615.18,776.99 615.33,777.32 615.48,777.3 615.63,777.12 615.77,776.89 615.92,777.35 616.07,777.05 616.22,776.96 616.36,777.36 616.51,777.46 616.66,777.08 616.81,777.26 616.95,777.47 617.1,777.25 617.25,777.16 617.4,777.04 617.54,776.97 617.69,777.49 617.84,777.45 617.98,777.08 618.13,777.36 618.28,777.09 618.43,777.42 618.57,777.2 618.72,777.4 618.87,777.3 619.02,777.04 619.16,777.33 619.31,777.38 619.46,777.02 619.61,777.02 619.75,777.16 619.9,777.43 620.05,777.58 620.2,777.27 620.34,777.52 620.49,777.43 620.64,777.17 620.79,777.27 620.93,777.51 621.08,777.3 621.23,777.31 621.38,777.44 621.52,777.1 621.67,777.28 621.82,777.32 621.96,777.35 622.11,777.43 622.26,777.17 622.41,777.3 622.55,777.29 622.7,777.07 622.85,777.48 623,777.59 623.14,777.35 623.29,777.26 623.44,777.23 623.59,777.28 623.73,777.24 623.88,777.18 624.03,777.58 624.18,777.23 624.32,777.14 624.47,777.41 624.62,777.02 624.77,777.22 624.91,777.35 625.06,777.5 625.21,777.19 625.35,777.04 625.5,777.59 625.65,777.02 625.8,777.26 625.94,777.32 626.09,777.6 626.24,777.22 626.39,777.16 626.53,777.18 626.68,777.24 626.83,777.1 626.98,777.55 627.12,777.32 627.27,777.45 627.42,777.17 627.57,777.41 627.71,777.55 627.86,777.15 628.01,777.58 628.16,777.18 628.3,777.44 628.45,777.57 628.6,777.28 628.75,777.56 628.89,777.24 629.04,777.27 629.19,777.56 629.33,777.36 629.48,777.03 629.63,777.09 629.78,777.32 629.92,777.2 630.07,777.03 630.22,777.49 630.37,777.19 630.51,777.54 630.66,777.22 630.81,777.11 630.96,777.25 631.1,777.49 631.25,777.54 631.4,777.33 631.55,777.14 631.69,777.31 631.84,777.15 631.99,777.21 632.14,776.99 632.28,777 632.43,777.55 632.58,777.45 632.72,777.13 632.87,777.36 633.02,777.01 633.17,777.48 633.31,777.35 633.46,777.42 633.61,777.24 633.76,777.24 633.9,777.47 634.05,777.17 634.2,777.03 634.35,777.05 634.49,777.53 634.64,777.14 634.79,777.01 634.94,777.31 635.08,777.05 635.23,777.23 635.38,777.44 635.53,777.11 635.67,777.22 635.82,777.53 635.97,777.49 636.12,777.49 636.26,776.99 636.41,777.55 636.56,777.3 636.7,777.05 636.85,777.55 637,777.04 637.15,777.55 637.29,776.98 637.44,777.01 637.59,777.24 637.74,777.32 637.88,777.31 638.03,777.44 638.18,777.02 638.33,777.39 638.47,777.14 638.62,777.52 638.77,777.32 638.92,777.36 639.06,777.03 639.21,777.49 639.36,777.12 639.51,777.07 639.65,777.19 639.8,777.41 639.95,777.13 640.09,777.22 640.24,777.3 640.39,777.08 640.54,777 640.68,777.17 640.83,777.36 640.98,777.33 641.13,777.05 641.27,777.32 641.42,777.42 641.57,777.34 641.72,777.03 641.86,776.94 642.01,777.51 642.16,777.34 642.31,777.08 642.45,777.36 642.6,777.26 642.75,777.28 642.9,777.12 643.04,777.3 643.19,777.13 643.34,777.13 643.49,777.09 643.63,777.34 643.78,777.41 643.93,777.06 644.07,776.93 644.22,777.03 644.37,777.33 644.52,777.09 644.66,776.88 644.81,777.38 644.96,777.13 645.11,776.91 645.25,777.31 645.4,777.16 645.55,777.36 645.7,777.35 645.84,777.34 645.99,777.37 646.14,777.07 646.29,777.32 646.43,777.13 646.58,777.22 646.73,776.95 646.88,777.19 647.02,776.85 647.17,777.32 647.32,776.9 647.46,777.13 647.61,777.29 647.76,777.27 647.91,777.28 648.05,777.01 648.2,776.79 648.35,777.33 648.5,776.91 648.64,777.23 648.79,776.95 648.94,776.95 649.09,777 649.23,776.98 649.38,777.11 649.53,776.97 649.68,776.7 649.82,776.9 649.97,776.61 650.12,777.04 650.27,776.6 650.41,776.68 650.56,776.78 650.71,776.59 650.86,776.88 651,776.76 651.15,776.43 651.3,776.42 651.44,776.53 651.59,776.3 651.74,776.27 651.89,775.97 652.03,775.97 652.18,775.81 652.33,775.79 652.48,775.22 652.62,775.19 652.77,774.47 652.92,774.07 653.07,773.48 653.21,773.2 653.36,771.86 653.51,770.96 653.66,769.92 653.8,768.87 653.95,767.8 654.1,766.85 654.25,767.01 654.39,767.83 654.54,768.53 654.69,769.71 654.83,771.28 654.98,771.79 655.13,772.68 655.28,773.44 655.42,774.38 655.57,774.54 655.72,774.95 655.87,775.31 656.01,775.76 656.16,775.46 656.31,775.72 656.46,775.98 656.6,776.25 656.75,776.04 656.9,776.31 657.05,776.47 657.19,776.23 657.34,776.45 657.49,776.33 657.64,776.89 657.78,776.39 657.93,776.51 658.08,776.82 658.23,776.61 658.37,776.84 658.52,776.73 658.67,777.14 658.81,776.9 658.96,776.79 659.11,776.7 659.26,776.89 659.4,777.08 659.55,777.06 659.7,777.06 659.85,776.96 659.99,777.22 660.14,776.9 660.29,777 660.44,777.25 660.58,777.16 660.73,776.97 660.88,777.17 661.03,777.16 661.17,776.87 661.32,776.94 661.47,777.16 661.62,776.93 661.76,776.92 661.91,777.03 662.06,776.76 662.2,776.87 662.35,777.3 662.5,776.86 662.65,777.2 662.79,776.71 662.94,776.89 663.09,777.02 663.24,776.89 663.38,777.27 663.53,777.28 663.68,776.88 663.83,776.78 663.97,777.24 664.12,777.16 664.27,776.99 664.42,776.71 664.56,776.67 664.71,777.07 664.86,777.06 665.01,776.91 665.15,776.82 665.3,776.77 665.45,776.81 665.6,776.82 665.74,776.91 665.89,776.77 666.04,776.7 666.18,776.59 666.33,776.81 666.48,776.93 666.63,776.43 666.77,776.71 666.92,776.56 667.07,776.21 667.22,776.04 667.36,776.32 667.51,775.74 667.66,775.52 667.81,775.27 667.95,775.45 668.1,774.92 668.25,774.45 668.4,774.44 668.54,774.52 668.69,774.55 668.84,774.53 668.99,775.2 669.13,775.38 669.28,775.38 669.43,775.64 669.57,775.8 669.72,775.83 669.87,776.32 670.02,776.24 670.16,776.56 670.31,776.75 670.46,776.51 670.61,776.54 670.75,776.64 670.9,776.74 671.05,776.52 671.2,776.75 671.34,776.73 671.49,776.64 671.64,777.09 671.79,777.02 671.93,776.91 672.08,776.68 672.23,777.08 672.38,776.88 672.52,777.19 672.67,777.06 672.82,776.83 672.97,777.14 673.11,777.05 673.26,776.91 673.41,777.18 673.55,776.91 673.7,776.8 673.85,776.74 674,777.09 674.14,776.89 674.29,776.82 674.44,776.76 674.59,777.2 674.73,776.9 674.88,777.25 675.03,777.27 675.18,777.23 675.32,776.88 675.47,777.31 675.62,777.12 675.77,777.25 675.91,777.29 676.06,776.94 676.21,776.97 676.36,777.29 676.5,776.92 676.65,776.81" fill="none" stroke="#505152" stroke-width="1.1" stroke-linejoin="round" />
<line x1="564.4" y1="614.8" x2="583.3" y2="614.8" stroke="#e53f41" stroke-width="1.3" />
<text x="589.2" y="619" font-size="11.6" text-anchor="start" fill="#1e1e1e" font-weight="bold" font-style="normal" >Before 4 times</text>
<line x1="564.4" y1="630.4" x2="583.3" y2="630.4" stroke="#505152" stroke-width="1.3" />
<text x="589.2" y="634.6" font-size="11.6" text-anchor="start" fill="#1e1e1e" font-weight="bold" font-style="normal" >After 4 times</text>
<rect x="418.6" y="596" width="258.7" height="201.5" fill="none" stroke="#262626" stroke-width="1.4" />
<text x="362.1" y="889.1" font-size="24.5" text-anchor="start" fill="#1e1e1e" font-weight="bold" font-style="normal" >h</text>
<rect x="422.9" y="873.5" width="64.7" height="204.8" fill="#c6dcbc" />
<line x1="420.7" y1="1078.27" x2="422.9" y2="1078.27" stroke="#262626" stroke-width="1.2" />
<line x1="418.8" y1="1061.2" x2="422.9" y2="1061.2" stroke="#262626" stroke-width="1.2" />
<text x="410.2" y="1066.2" font-size="14" text-anchor="end" fill="#1e1e1e" font-weight="bold" font-style="normal" >0.0</text>
<line x1="420.7" y1="1044.13" x2="422.9" y2="1044.13" stroke="#262626" stroke-width="1.2" />
<line x1="418.8" y1="1027.06" x2="422.9" y2="1027.06" stroke="#262626" stroke-width="1.2" />
<text x="410.2" y="1032.06" font-size="14" text-anchor="end" fill="#1e1e1e" font-weight="bold" font-style="normal" >0.2</text>
<line x1="420.7" y1="1009.99" x2="422.9" y2="1009.99" stroke="#262626" stroke-width="1.2" />
<line x1="418.8" y1="992.92" x2="422.9" y2="992.92" stroke="#262626" stroke-width="1.2" />
<text x="410.2" y="997.92" font-size="14" text-anchor="end" fill="#1e1e1e" font-weight="bold" font-style="normal" >0.4</text>
<line x1="420.7" y1="975.85" x2="422.9" y2="975.85" stroke="#262626" stroke-width="1.2" />
<line x1="418.8" y1="958.78" x2="422.9" y2="958.78" stroke="#262626" stroke-width="1.2" />
<text x="410.2" y="963.78" font-size="14" text-anchor="end" fill="#1e1e1e" font-weight="bold" font-style="normal" >0.6</text>
<line x1="420.7" y1="941.71" x2="422.9" y2="941.71" stroke="#262626" stroke-width="1.2" />
<line x1="418.8" y1="924.64" x2="422.9" y2="924.64" stroke="#262626" stroke-width="1.2" />
<text x="410.2" y="929.64" font-size="14" text-anchor="end" fill="#1e1e1e" font-weight="bold" font-style="normal" >0.8</text>
<line x1="420.7" y1="907.57" x2="422.9" y2="907.57" stroke="#262626" stroke-width="1.2" />
<line x1="418.8" y1="890.5" x2="422.9" y2="890.5" stroke="#262626" stroke-width="1.2" />
<text x="410.2" y="895.5" font-size="14" text-anchor="end" fill="#1e1e1e" font-weight="bold" font-style="normal" >1.0</text>
<line x1="424.91" y1="1078.3" x2="424.91" y2="1082.4" stroke="#262626" stroke-width="1.2" />
<text x="424.91" y="1101.6" font-size="14" text-anchor="middle" fill="#1e1e1e" font-weight="bold" font-style="normal" >–30</text>
<line x1="456.31" y1="1078.3" x2="456.31" y2="1080.5" stroke="#262626" stroke-width="1.2" />
<line x1="487.7" y1="1078.3" x2="487.7" y2="1082.4" stroke="#262626" stroke-width="1.2" />
<text x="487.7" y="1101.6" font-size="14" text-anchor="middle" fill="#1e1e1e" font-weight="bold" font-style="normal" >0</text>
<line x1="519.1" y1="1078.3" x2="519.1" y2="1080.5" stroke="#262626" stroke-width="1.2" />
<line x1="550.49" y1="1078.3" x2="550.49" y2="1082.4" stroke="#262626" stroke-width="1.2" />
<text x="550.49" y="1101.6" font-size="14" text-anchor="middle" fill="#1e1e1e" font-weight="bold" font-style="normal" >30</text>
<line x1="581.88" y1="1078.3" x2="581.88" y2="1080.5" stroke="#262626" stroke-width="1.2" />
<line x1="613.28" y1="1078.3" x2="613.28" y2="1082.4" stroke="#262626" stroke-width="1.2" />
<text x="613.28" y="1101.6" font-size="14" text-anchor="middle" fill="#1e1e1e" font-weight="bold" font-style="normal" >60</text>
<line x1="644.67" y1="1078.3" x2="644.67" y2="1080.5" stroke="#262626" stroke-width="1.2" />
<line x1="676.07" y1="1078.3" x2="676.07" y2="1082.4" stroke="#262626" stroke-width="1.2" />
<text x="676.07" y="1101.6" font-size="14" text-anchor="middle" fill="#1e1e1e" font-weight="bold" font-style="normal" >90</text>
<text x="550" y="1126" font-size="14" text-anchor="middle" fill="#1e1e1e" font-weight="bold" font-style="normal" >Irradiation time (min)</text>
<text transform="translate(375.2,975.5) rotate(-90)" x="0" y="0" font-size="14" text-anchor="middle" fill="#1e1e1e" font-weight="bold" font-style="italic">C/C<tspan font-size="9.5" baseline-shift="-28%">0</tspan></text>
<text x="442.8" y="946.9" font-size="9" text-anchor="start" fill="#1e1e1e" font-weight="bold" font-style="normal" >Dark</text>
<text x="505.4" y="946.8" font-size="9.2" text-anchor="start" fill="#1e1e1e" font-weight="bold" font-style="normal" >Light</text>
<polyline points="424.91,890.4 487.7,949.2 508.63,959.7 529.56,970.1 550.49,982.8 571.42,995.6 592.35,1008.2 613.28,1021.4 634.21,1032.3 655.14,1043.8 676.07,1050.3" fill="none" stroke="#c98b2e" stroke-width="1.3" stroke-linejoin="round" />
<rect x="422.43" y="887.92" width="4.96" height="4.96" fill="#c98b2e"/>
<rect x="485.22" y="946.72" width="4.96" height="4.96" fill="#c98b2e"/>
<rect x="506.15" y="957.22" width="4.96" height="4.96" fill="#c98b2e"/>
<rect x="527.08" y="967.62" width="4.96" height="4.96" fill="#c98b2e"/>
<rect x="548.01" y="980.32" width="4.96" height="4.96" fill="#c98b2e"/>
<rect x="568.94" y="993.12" width="4.96" height="4.96" fill="#c98b2e"/>
<rect x="589.87" y="1005.72" width="4.96" height="4.96" fill="#c98b2e"/>
<rect x="610.8" y="1018.92" width="4.96" height="4.96" fill="#c98b2e"/>
<rect x="631.73" y="1029.82" width="4.96" height="4.96" fill="#c98b2e"/>
<rect x="652.66" y="1041.32" width="4.96" height="4.96" fill="#c98b2e"/>
<rect x="673.59" y="1047.82" width="4.96" height="4.96" fill="#c98b2e"/>
<line x1="509.9" y1="889" x2="529.4" y2="889" stroke="#c98b2e" stroke-width="1.3" />
<rect x="517.02" y="886.52" width="4.96" height="4.96" fill="#c98b2e"/>
<text x="535.4" y="892.4" font-size="9.5" text-anchor="start" fill="#1e1e1e" font-weight="bold" font-style="normal" >Cu<tspan font-size="7.03" baseline-shift="-40%">2</tspan>O/g-C<tspan font-size="7.03" baseline-shift="-40%">3</tspan>N<tspan font-size="7.03" baseline-shift="-40%">4</tspan>-0.2 after 216 days</text>
<rect x="422.9" y="873.5" width="254.7" height="204.8" fill="none" stroke="#262626" stroke-width="1.4" />
<text x="-0.3" y="1167.3" font-size="24.5" text-anchor="start" fill="#1e1e1e" font-weight="bold" font-style="normal" >i</text>
<line x1="64.3" y1="1350.4" x2="64.3" y2="1354.5" stroke="#262626" stroke-width="1.2" />
<text x="64.3" y="1373" font-size="14" text-anchor="middle" fill="#1e1e1e" font-weight="bold" font-style="normal" >20</text>
<line x1="86.62" y1="1350.4" x2="86.62" y2="1352.6" stroke="#262626" stroke-width="1.2" />
<line x1="108.95" y1="1350.4" x2="108.95" y2="1354.5" stroke="#262626" stroke-width="1.2" />
<text x="108.95" y="1373" font-size="14" text-anchor="middle" fill="#1e1e1e" font-weight="bold" font-style="normal" >30</text>
<line x1="131.27" y1="1350.4" x2="131.27" y2="1352.6" stroke="#262626" stroke-width="1.2" />
<line x1="153.6" y1="1350.4" x2="153.6" y2="1354.5" stroke="#262626" stroke-width="1.2" />
<text x="153.6" y="1373" font-size="14" text-anchor="middle" fill="#1e1e1e" font-weight="bold" font-style="normal" >40</text>
<line x1="175.93" y1="1350.4" x2="175.93" y2="1352.6" stroke="#262626" stroke-width="1.2" />
<line x1="198.25" y1="1350.4" x2="198.25" y2="1354.5" stroke="#262626" stroke-width="1.2" />
<text x="198.25" y="1373" font-size="14" text-anchor="middle" fill="#1e1e1e" font-weight="bold" font-style="normal" >50</text>
<line x1="220.57" y1="1350.4" x2="220.57" y2="1352.6" stroke="#262626" stroke-width="1.2" />
<line x1="242.9" y1="1350.4" x2="242.9" y2="1354.5" stroke="#262626" stroke-width="1.2" />
<text x="242.9" y="1373" font-size="14" text-anchor="middle" fill="#1e1e1e" font-weight="bold" font-style="normal" >60</text>
<line x1="265.22" y1="1350.4" x2="265.22" y2="1352.6" stroke="#262626" stroke-width="1.2" />
<line x1="287.55" y1="1350.4" x2="287.55" y2="1354.5" stroke="#262626" stroke-width="1.2" />
<text x="287.55" y="1373" font-size="14" text-anchor="middle" fill="#1e1e1e" font-weight="bold" font-style="normal" >70</text>
<line x1="309.88" y1="1350.4" x2="309.88" y2="1352.6" stroke="#262626" stroke-width="1.2" />
<line x1="332.2" y1="1350.4" x2="332.2" y2="1354.5" stroke="#262626" stroke-width="1.2" />
<text x="332.2" y="1373" font-size="14" text-anchor="middle" fill="#1e1e1e" font-weight="bold" font-style="normal" >80</text>
<text x="198.5" y="1395" font-size="14" text-anchor="middle" fill="#1e1e1e" font-weight="bold" font-style="normal" >2 Theta (degree)</text>
<text transform="translate(52.2,1252.3) rotate(-90)" x="0" y="0" font-size="14" text-anchor="middle" fill="#1e1e1e" font-weight="bold" >Intensity (arb.u.)</text>
<polyline points="64.3,1238.86 64.48,1239.22 64.66,1239.04 64.84,1239.49 65.01,1238.84 65.19,1239.11 65.37,1239.33 65.55,1239.26 65.73,1239.42 65.91,1239.29 66.09,1239.45 66.26,1239.51 66.44,1239.44 66.62,1239.26 66.8,1239.12 66.98,1239.21 67.16,1238.99 67.34,1239.02 67.51,1239.21 67.69,1239.15 67.87,1239.12 68.05,1238.9 68.23,1239.53 68.41,1239.08 68.59,1239.18 68.77,1239.09 68.94,1239.24 69.12,1239.39 69.3,1239.51 69.48,1239.27 69.66,1239.51 69.84,1239.11 70.02,1239.18 70.19,1239.09 70.37,1239.53 70.55,1238.94 70.73,1239.01 70.91,1239.39 71.09,1239.02 71.27,1238.9 71.44,1239.12 71.62,1239.18 71.8,1239.18 71.98,1239.02 72.16,1239.1 72.34,1239.06 72.52,1238.98 72.69,1239.22 72.87,1239.02 73.05,1239 73.23,1239.51 73.41,1239.48 73.59,1239.13 73.77,1239.24 73.94,1238.93 74.12,1238.88 74.3,1239.23 74.48,1239.53 74.66,1238.92 74.84,1239.19 75.02,1239.42 75.19,1238.88 75.37,1239.28 75.55,1239.05 75.73,1239.4 75.91,1239.45 76.09,1239.49 76.27,1239.42 76.44,1238.93 76.62,1239.33 76.8,1239.27 76.98,1239.09 77.16,1239.02 77.34,1239.21 77.52,1239.17 77.69,1239.16 77.87,1239.54 78.05,1239.04 78.23,1239.48 78.41,1238.98 78.59,1239.36 78.77,1239.19 78.95,1239.15 79.12,1239.21 79.3,1238.97 79.48,1239.03 79.66,1239.17 79.84,1239.01 80.02,1239.47 80.2,1239.36 80.37,1239.32 80.55,1239.37 80.73,1238.99 80.91,1238.89 81.09,1238.94 81.27,1239.5 81.45,1239.22 81.62,1239.56 81.8,1239.11 81.98,1239.15 82.16,1239.34 82.34,1239.47 82.52,1239.18 82.7,1239.22 82.87,1239.13 83.05,1239.05 83.23,1239.51 83.41,1239.51 83.59,1239.18 83.77,1238.98 83.95,1239.49 84.12,1239.2 84.3,1239.4 84.48,1239.17 84.66,1238.93 84.84,1239.4 85.02,1238.95 85.2,1239.53 85.37,1238.99 85.55,1239.11 85.73,1238.87 85.91,1239.02 86.09,1239.32 86.27,1238.93 86.45,1238.95 86.62,1238.91 86.8,1238.87 86.98,1239.22 87.16,1239.02 87.34,1239.38 87.52,1239.33 87.7,1239.21 87.88,1239.5 88.05,1239.53 88.23,1239.06 88.41,1239.39 88.59,1239.33 88.77,1238.97 88.95,1239.38 89.13,1238.85 89.3,1239.3 89.48,1239.46 89.66,1239.27 89.84,1239.3 90.02,1239.27 90.2,1239.09 90.38,1238.88 90.55,1239.06 90.73,1239 90.91,1239.35 91.09,1239.39 91.27,1239.44 91.45,1238.99 91.63,1239.37 91.8,1239.37 91.98,1238.74 92.16,1239.1 92.34,1238.77 92.52,1238.75 92.7,1238.99 92.88,1239.16 93.05,1238.77 93.23,1238.85 93.41,1238.95 93.59,1238.97 93.77,1238.65 93.95,1238.66 94.13,1238.53 94.3,1238.71 94.48,1239.15 94.66,1238.56 94.84,1238.92 95.02,1238.8 95.2,1238.91 95.38,1238.83 95.55,1238.26 95.73,1238.4 95.91,1238.69 96.09,1238.5 96.27,1238.59 96.45,1237.95 96.63,1238.45 96.81,1238.08 96.98,1238.29 97.16,1238.08 97.34,1237.87 97.52,1237.93 97.7,1237.54 97.88,1238.15 98.06,1238.08 98.23,1237.92 98.41,1237.92 98.59,1238.01 98.77,1237.83 98.95,1237.73 99.13,1238.07 99.31,1238.36 99.48,1238.34 99.66,1238.35 99.84,1237.97 100.02,1238.14 100.2,1238.18 100.38,1238.44 100.56,1238.73 100.73,1238.58 100.91,1238.61 101.09,1238.54 101.27,1238.41 101.45,1238.51 101.63,1239.05 101.81,1239.03 101.98,1238.88 102.16,1238.93 102.34,1238.63 102.52,1238.51 102.7,1238.53 102.88,1238.55 103.06,1238.69 103.23,1239.25 103.41,1238.97 103.59,1238.73 103.77,1238.64 103.95,1238.59 104.13,1238.59 104.31,1238.67 104.48,1238.81 104.66,1238.67 104.84,1238.71 105.02,1238.97 105.2,1238.59 105.38,1238.57 105.56,1238.98 105.74,1238.58 105.91,1238.77 106.09,1238.45 106.27,1238.64 106.45,1238.04 106.63,1238.06 106.81,1238.28 106.99,1237.62 107.16,1237.55 107.34,1236.86 107.52,1236.34 107.7,1236.11 107.88,1235.78 108.06,1235.35 108.24,1235.83 108.41,1236.12 108.59,1236.54 108.77,1237.27 108.95,1237.76 109.13,1237.75 109.31,1237.94 109.49,1238.48 109.66,1238.63 109.84,1238.59 110.02,1238.77 110.2,1238.66 110.38,1239 110.56,1238.96 110.74,1239.2 110.91,1238.86 111.09,1238.73 111.27,1239.32 111.45,1239.15 111.63,1239.32 111.81,1239.3 111.99,1239.34 112.16,1239.07 112.34,1239.43 112.52,1239.27 112.7,1239.14 112.88,1238.98 113.06,1238.94 113.24,1239.04 113.41,1239.11 113.59,1239.13 113.77,1239.34 113.95,1239.58 114.13,1239.31 114.31,1239.38 114.49,1238.93 114.67,1239.41 114.84,1239.3 115.02,1239.48 115.2,1239.18 115.38,1239.39 115.56,1239.3 115.74,1239.49 115.92,1239.25 116.09,1239.53 116.27,1239.56 116.45,1239.33 116.63,1239.31 116.81,1239.45 116.99,1239.32 117.17,1239.64 117.34,1239.62 117.52,1239.31 117.7,1239.45 117.88,1239.04 118.06,1239.6 118.24,1239.4 118.42,1238.98 118.59,1238.97 118.77,1239.56 118.95,1239.51 119.13,1239.4 119.31,1239.25 119.49,1239.14 119.67,1239.31 119.84,1239.6 120.02,1239.41 120.2,1239 120.38,1239.11 120.56,1239.02 120.74,1239.57 120.92,1239.56 121.09,1239.61 121.27,1239.26 121.45,1239.18 121.63,1239 121.81,1239.14 121.99,1239.2 122.17,1239.23 122.34,1239.19 122.52,1239.46 122.7,1239.55 122.88,1239.21 123.06,1239.51 123.24,1239.14 123.42,1239.12 123.6,1239.49 123.77,1238.99 123.95,1238.98 124.13,1239.62 124.31,1239.25 124.49,1239.21 124.67,1239.45 124.85,1239.53 125.02,1239.17 125.2,1239.47 125.38,1238.99 125.56,1239.51 125.74,1239.18 125.92,1239.15 126.1,1238.89 126.27,1238.92 126.45,1239.14 126.63,1238.94 126.81,1239.31 126.99,1239.54 127.17,1239.04 127.35,1239.35 127.52,1239.23 127.7,1239.24 127.88,1239.34 128.06,1239.13 128.24,1239.36 128.42,1238.88 128.6,1239.23 128.77,1239.11 128.95,1238.86 129.13,1238.87 129.31,1239.36 129.49,1239.13 129.67,1239.01 129.85,1239 130.02,1239.22 130.2,1239.05 130.38,1238.74 130.56,1239.22 130.74,1239.13 130.92,1239.06 131.1,1238.98 131.27,1238.92 131.45,1238.64 131.63,1239.07 131.81,1238.84 131.99,1238.42 132.17,1238.83 132.35,1238.51 132.53,1238.2 132.7,1238.72 132.88,1238.2 133.06,1238.28 133.24,1237.97 133.42,1238.2 133.6,1238.12 133.78,1238.22 133.95,1238.21 134.13,1238.05 134.31,1237.77 134.49,1237.43 134.67,1237.65 134.85,1236.97 135.03,1236.83 135.2,1236.77 135.38,1236.36 135.56,1236.2 135.74,1235.53 135.92,1235.21 136.1,1234.58 136.28,1234.3 136.45,1233.49 136.63,1233.09 136.81,1231.72 136.99,1230.48 137.17,1229.35 137.35,1227.11 137.53,1225.18 137.7,1221.88 137.88,1217.58 138.06,1212.66 138.24,1205.88 138.42,1196.4 138.6,1185.66 138.78,1174.17 138.95,1165.68 139.13,1163.66 139.31,1168.83 139.49,1179.72 139.67,1191.5 139.85,1201.25 140.03,1209.27 140.2,1215.41 140.38,1219.65 140.56,1223.19 140.74,1226.5 140.92,1228.26 141.1,1229.96 141.28,1231.38 141.46,1232.6 141.63,1233.58 141.81,1233.75 141.99,1234.75 142.17,1234.83 142.35,1235.66 142.53,1236.23 142.71,1236.32 142.88,1236.53 143.06,1237.12 143.24,1237.22 143.42,1237.57 143.6,1237.48 143.78,1237.47 143.96,1237.88 144.13,1237.86 144.31,1237.63 144.49,1237.82 144.67,1238.5 144.85,1238.36 145.03,1238.01 145.21,1238.58 145.38,1238.65 145.56,1238.21 145.74,1238.92 145.92,1238.4 146.1,1238.68 146.28,1238.87 146.46,1238.75 146.63,1238.69 146.81,1238.82 146.99,1238.96 147.17,1239.21 147.35,1239.19 147.53,1239.29 147.71,1239.19 147.88,1238.98 148.06,1238.92 148.24,1239.33 148.42,1239.35 148.6,1238.94 148.78,1239.29 148.96,1239 149.13,1238.81 149.31,1239.12 149.49,1239.43 149.67,1239.19 149.85,1239.4 150.03,1239.43 150.21,1239.41 150.39,1239.07 150.56,1239.51 150.74,1238.94 150.92,1239.24 151.1,1238.95 151.28,1239.17 151.46,1239.53 151.64,1239.48 151.81,1239.61 151.99,1239.32 152.17,1239.29 152.35,1239.05 152.53,1239.28 152.71,1239.58 152.89,1239.18 153.06,1239.55 153.24,1239.16 153.42,1239.51 153.6,1239.09 153.78,1239.63 153.96,1239.04 154.14,1239.02 154.31,1239.36 154.49,1239.5 154.67,1239.46 154.85,1239.24 155.03,1239.46 155.21,1239.1 155.39,1239.18 155.56,1239.15 155.74,1239.1 155.92,1238.97 156.1,1239.09 156.28,1239.31 156.46,1239.35 156.64,1239.15 156.81,1239.34 156.99,1239.13 157.17,1239.46 157.35,1238.89 157.53,1239.41 157.71,1239.49 157.89,1239.25 158.06,1239.28 158.24,1239.5 158.42,1238.9 158.6,1238.85 158.78,1239.11 158.96,1239.24 159.14,1239.08 159.32,1239.02 159.49,1238.95 159.67,1238.94 159.85,1239.19 160.03,1238.58 160.21,1238.95 160.39,1238.5 160.57,1238.97 160.74,1238.49 160.92,1238.79 161.1,1238.38 161.28,1238.5 161.46,1238.3 161.64,1238.49 161.82,1238.01 161.99,1237.87 162.17,1237.67 162.35,1237.27 162.53,1237.48 162.71,1236.75 162.89,1236.23 163.07,1235.8 163.24,1235.59 163.42,1235.02 163.6,1233.92 163.78,1233.08 163.96,1231.17 164.14,1229.87 164.32,1227.58 164.49,1224.51 164.67,1221.35 164.85,1218.48 165.03,1216.04 165.21,1215.15 165.39,1216.25 165.57,1218.35 165.74,1221.47 165.92,1224.61 166.1,1227.18 166.28,1229.58 166.46,1231.46 166.64,1232.63 166.82,1233.64 167,1234.93 167.17,1235.19 167.35,1236.3 167.53,1236.6 167.71,1236.72 167.89,1236.89 168.07,1237.74 168.25,1237.4 168.42,1238.11 168.6,1238.12 168.78,1238.38 168.96,1238.17 169.14,1238.65 169.32,1238.42 169.5,1238.74 169.67,1239.08 169.85,1238.89 170.03,1238.65 170.21,1238.76 170.39,1238.93 170.57,1239.27 170.75,1239.29 170.92,1239.05 171.1,1239.22 171.28,1239.09 171.46,1239.21 171.64,1239.12 171.82,1239.58 172,1239.21 172.17,1239.19 172.35,1239.43 172.53,1239.16 172.71,1239.11 172.89,1239.36 173.07,1239.64 173.25,1239.33 173.42,1239.29 173.6,1239.3 173.78,1239.54 173.96,1239.31 174.14,1239.51 174.32,1239.51 174.5,1239.19 174.67,1239.39 174.85,1239.75 175.03,1239.33 175.21,1239.72 175.39,1239.25 175.57,1239.55 175.75,1239.51 175.93,1239.68 176.1,1239.23 176.28,1239.32 176.46,1239.53 176.64,1239.89 176.82,1239.61 177,1239.86 177.18,1239.64 177.35,1239.96 177.53,1239.33 177.71,1239.89 177.89,1239.46 178.07,1239.44 178.25,1239.66 178.43,1239.59 178.6,1240 178.78,1239.96 178.96,1239.82 179.14,1239.49 179.32,1239.48 179.5,1239.63 179.68,1239.55 179.85,1239.48 180.03,1239.47 180.21,1239.52 180.39,1239.55 180.57,1239.42 180.75,1239.56 180.93,1240.01 181.1,1239.94 181.28,1239.78 181.46,1240.02 181.64,1240.01 181.82,1239.42 182,1239.4 182.18,1239.6 182.35,1239.74 182.53,1240.07 182.71,1239.39 182.89,1239.86 183.07,1239.93 183.25,1239.56 183.43,1239.92 183.6,1239.99 183.78,1239.45 183.96,1239.85 184.14,1239.72 184.32,1239.93 184.5,1239.5 184.68,1239.86 184.85,1239.41 185.03,1239.42 185.21,1239.7 185.39,1239.65 185.57,1239.71 185.75,1239.55 185.93,1240.11 186.11,1239.7 186.28,1239.76 186.46,1239.67 186.64,1240.03 186.82,1239.53 187,1240.07 187.18,1239.56 187.36,1240.04 187.53,1239.72 187.71,1239.85 187.89,1239.59 188.07,1240 188.25,1239.59 188.43,1239.98 188.61,1239.9 188.78,1240.07 188.96,1240.13 189.14,1240 189.32,1239.56 189.5,1240.01 189.68,1239.51 189.86,1240.01 190.03,1240.09 190.21,1239.54 190.39,1239.48 190.57,1240.02 190.75,1239.7 190.93,1239.93 191.11,1240.03 191.28,1240.12 191.46,1239.82 191.64,1240.05 191.82,1240.1 192,1240 192.18,1239.72 192.36,1240.11 192.53,1239.76 192.71,1240.1 192.89,1239.74 193.07,1239.81 193.25,1239.5 193.43,1239.55 193.61,1240.12 193.78,1239.79 193.96,1239.99 194.14,1239.81 194.32,1239.99 194.5,1239.85 194.68,1239.58 194.86,1239.7 195.04,1239.93 195.21,1239.59 195.39,1240.14 195.57,1239.53 195.75,1239.88 195.93,1240.1 196.11,1240 196.29,1239.59 196.46,1239.56 196.64,1239.99 196.82,1239.78 197,1239.56 197.18,1239.58 197.36,1239.96 197.54,1239.51 197.71,1239.7 197.89,1240.16 198.07,1239.68 198.25,1240.1 198.43,1239.52 198.61,1239.64 198.79,1239.54 198.96,1240.02 199.14,1239.9 199.32,1240.04 199.5,1240.08 199.68,1240.01 199.86,1239.58 200.04,1239.83 200.21,1239.53 200.39,1240.07 200.57,1239.77 200.75,1239.84 200.93,1240.14 201.11,1240.21 201.29,1239.94 201.46,1239.79 201.64,1240.13 201.82,1240.11 202,1239.67 202.18,1239.84 202.36,1240.18 202.54,1240.21 202.71,1240.16 202.89,1239.86 203.07,1239.63 203.25,1240.14 203.43,1239.66 203.61,1239.94 203.79,1239.79 203.97,1240.11 204.14,1239.78 204.32,1239.78 204.5,1240.11 204.68,1240.03 204.86,1240.22 205.04,1239.6 205.22,1239.61 205.39,1239.99 205.57,1239.86 205.75,1240.14 205.93,1239.84 206.11,1239.54 206.29,1239.84 206.47,1239.68 206.64,1240.07 206.82,1240.07 207,1240.1 207.18,1239.57 207.36,1239.89 207.54,1239.63 207.72,1240.17 207.89,1239.58 208.07,1239.92 208.25,1239.96 208.43,1239.59 208.61,1239.85 208.79,1239.51 208.97,1239.45 209.14,1239.59 209.32,1239.43 209.5,1239.66 209.68,1239.8 209.86,1239.94 210.04,1239.43 210.22,1239.54 210.39,1239.63 210.57,1239.31 210.75,1239.24 210.93,1239.22 211.11,1239.48 211.29,1239.09 211.47,1239.34 211.64,1238.89 211.82,1239.02 212,1239.04 212.18,1239.06 212.36,1239.08 212.54,1239.31 212.72,1239.67 212.9,1239.63 213.07,1239.91 213.25,1239.49 213.43,1239.52 213.61,1239.51 213.79,1239.72 213.97,1239.48 214.15,1239.98 214.32,1239.74 214.5,1239.48 214.68,1239.82 214.86,1239.78 215.04,1239.63 215.22,1239.72 215.4,1239.98 215.57,1240.22 215.75,1239.95 215.93,1239.72 216.11,1239.56 216.29,1239.77 216.47,1239.72 216.65,1239.85 216.82,1239.88 217,1239.76 217.18,1239.68 217.36,1240.22 217.54,1240.24 217.72,1240.08 217.9,1240.23 218.07,1239.98 218.25,1240.1 218.43,1239.9 218.61,1240.05 218.79,1240.19 218.97,1240.09 219.15,1240.15 219.32,1240.03 219.5,1239.84 219.68,1240.16 219.86,1240.23 220.04,1239.77 220.22,1239.72 220.4,1239.61 220.57,1239.78 220.75,1239.74 220.93,1239.75 221.11,1239.73 221.29,1239.84 221.47,1239.73 221.65,1240.29 221.83,1239.67 222,1239.63 222.18,1240.27 222.36,1239.89 222.54,1240.15 222.72,1239.85 222.9,1239.63 223.08,1239.65 223.25,1240.27 223.43,1239.66 223.61,1239.94 223.79,1239.81 223.97,1240.08 224.15,1239.89 224.33,1240.2 224.5,1239.78 224.68,1240.01 224.86,1240.32 225.04,1240.01 225.22,1240.3 225.4,1239.67 225.58,1240.25 225.75,1239.91 225.93,1240.34 226.11,1240.13 226.29,1239.82 226.47,1240.18 226.65,1239.76 226.83,1240.01 227,1240.16 227.18,1239.76 227.36,1239.68 227.54,1240.23 227.72,1239.78 227.9,1240.18 228.08,1239.97 228.25,1239.78 228.43,1240.25 228.61,1239.91 228.79,1239.83 228.97,1240.28 229.15,1240.34 229.33,1239.88 229.5,1240.33 229.68,1239.72 229.86,1240.2 230.04,1240.06 230.22,1239.82 230.4,1239.93 230.58,1239.87 230.76,1240.12 230.93,1239.94 231.11,1239.95 231.29,1240.12 231.47,1239.89 231.65,1239.71 231.83,1239.99 232.01,1240.25 232.18,1239.82 232.36,1239.84 232.54,1240.29 232.72,1239.76 232.9,1240.32 233.08,1239.86 233.26,1239.79 233.43,1240.15 233.61,1240.27 233.79,1239.97 233.97,1239.83 234.15,1239.73 234.33,1239.65 234.51,1240.14 234.68,1240.16 234.86,1239.86 235.04,1239.97 235.22,1240.17 235.4,1240.13 235.58,1240.11 235.76,1240.28 235.93,1239.8 236.11,1240.31 236.29,1240.07 236.47,1239.85 236.65,1240.1 236.83,1239.84 237.01,1239.91 237.18,1240.2 237.36,1240.18 237.54,1240.04 237.72,1240.18 237.9,1240.22 238.08,1239.88 238.26,1239.66 238.44,1240.26 238.61,1239.64 238.79,1239.91 238.97,1239.66 239.15,1239.97 239.33,1240.13 239.51,1239.6 239.69,1239.92 239.86,1239.85 240.04,1240.03 240.22,1240.19 240.4,1240.02 240.58,1239.59 240.76,1239.79 240.94,1239.86 241.11,1239.64 241.29,1240.12 241.47,1239.76 241.65,1239.75 241.83,1239.64 242.01,1239.86 242.19,1240.03 242.36,1239.53 242.54,1239.79 242.72,1239.64 242.9,1239.46 243.08,1239.68 243.26,1239.83 243.44,1239.79 243.61,1240.04 243.79,1239.81 243.97,1239.95 244.15,1239.78 244.33,1239.72 244.51,1239.84 244.69,1239.79 244.86,1239.67 245.04,1239.33 245.22,1239.26 245.4,1239.62 245.58,1238.97 245.76,1239.17 245.94,1239.42 246.11,1238.96 246.29,1239.02 246.47,1238.82 246.65,1238.92 246.83,1238.93 247.01,1238.25 247.19,1238.33 247.37,1238.46 247.54,1237.93 247.72,1238.07 247.9,1237.28 248.08,1237.09 248.26,1236.43 248.44,1236.4 248.62,1235.51 248.79,1234.98 248.97,1233.94 249.15,1232.47 249.33,1231.43 249.51,1229.1 249.69,1227.57 249.87,1225.05 250.04,1222.16 250.22,1220.2 250.4,1218.73 250.58,1218.81 250.76,1220.46 250.94,1222.31 251.12,1224.92 251.29,1226.97 251.47,1229.1 251.65,1231.18 251.83,1232.59 252.01,1234.13 252.19,1234.82 252.37,1235.81 252.54,1236.22 252.72,1236.99 252.9,1236.98 253.08,1237.14 253.26,1237.94 253.44,1238.13 253.62,1238.03 253.79,1238.23 253.97,1238.57 254.15,1239.01 254.33,1238.98 254.51,1238.92 254.69,1239.11 254.87,1239.04 255.04,1239.15 255.22,1239.07 255.4,1239.49 255.58,1239.08 255.76,1239.48 255.94,1239.22 256.12,1239.3 256.3,1239.77 256.47,1239.88 256.65,1239.66 256.83,1240.01 257.01,1239.86 257.19,1239.77 257.37,1239.84 257.55,1239.44 257.72,1239.52 257.9,1240 258.08,1239.76 258.26,1240.19 258.44,1239.71 258.62,1239.74 258.8,1239.7 258.97,1240.22 259.15,1239.96 259.33,1239.77 259.51,1239.65 259.69,1240.02 259.87,1239.63 260.05,1240.24 260.22,1239.75 260.4,1240.18 260.58,1240.26 260.76,1239.87 260.94,1240.08 261.12,1240.16 261.3,1240.01 261.47,1239.98 261.65,1240.32 261.83,1239.89 262.01,1240.11 262.19,1239.72 262.37,1240.12 262.55,1240.41 262.72,1240.01 262.9,1240.25 263.08,1239.97 263.26,1240.01 263.44,1240.03 263.62,1240.37 263.8,1239.99 263.97,1239.79 264.15,1240.15 264.33,1240.18 264.51,1240.2 264.69,1240.11 264.87,1239.99 265.05,1240.29 265.22,1239.96 265.4,1239.97 265.58,1239.92 265.76,1239.84 265.94,1239.94 266.12,1240.27 266.3,1240.08 266.48,1240.13 266.65,1239.97 266.83,1239.99 267.01,1240.3 267.19,1240.47 267.37,1239.92 267.55,1240.31 267.73,1240.5 267.9,1240.21 268.08,1240.45 268.26,1239.96 268.44,1240.38 268.62,1239.91 268.8,1239.99 268.98,1239.91 269.15,1239.84 269.33,1240.37 269.51,1240.09 269.69,1240.1 269.87,1240.36 270.05,1240.03 270.23,1240.45 270.4,1239.98 270.58,1240.54 270.76,1240.47 270.94,1240.21 271.12,1240.52 271.3,1240.45 271.48,1240.53 271.65,1240.07 271.83,1240.16 272.01,1240.08 272.19,1240.18 272.37,1240.26 272.55,1240.47 272.73,1240.1 272.9,1240.26 273.08,1240.07 273.26,1240.19 273.44,1239.92 273.62,1240.26 273.8,1240.31 273.98,1240.3 274.15,1240.49 274.33,1240.25 274.51,1240.08 274.69,1240.55 274.87,1240.17 275.05,1240.03 275.23,1240.25 275.41,1240.38 275.58,1240.08 275.76,1240.06 275.94,1239.96 276.12,1240.29 276.3,1240.16 276.48,1240.46 276.66,1240.01 276.83,1240.33 277.01,1240.01 277.19,1240.04 277.37,1239.99 277.55,1240.36 277.73,1240.42 277.91,1240.21 278.08,1240.49 278.26,1240.47 278.44,1240.52 278.62,1240.36 278.8,1240.23 278.98,1240.21 279.16,1240.47 279.33,1240.12 279.51,1240.09 279.69,1240.62 279.87,1240.57 280.05,1240.38 280.23,1240.5 280.41,1239.96 280.58,1240.46 280.76,1240.34 280.94,1240.13 281.12,1240.12 281.3,1240.4 281.48,1240.56 281.66,1240.45 281.83,1239.96 282.01,1240.34 282.19,1240.16 282.37,1240.09 282.55,1239.97 282.73,1240.33 282.91,1240.12 283.08,1240.17 283.26,1240.28 283.44,1240.56 283.62,1240.13 283.8,1240.34 283.98,1240.39 284.16,1240.46 284.34,1240.53 284.51,1240.09 284.69,1240.54 284.87,1239.99 285.05,1240.26 285.23,1240.45 285.41,1240.57 285.59,1240.18 285.76,1240.41 285.94,1240.43 286.12,1239.97 286.3,1240.46 286.48,1240.52 286.66,1240.03 286.84,1240.16 287.01,1240.24 287.19,1240.59 287.37,1240.61 287.55,1240.06 287.73,1240.21 287.91,1240.02 288.09,1239.97 288.26,1240.08 288.44,1240.59 288.62,1240.57 288.8,1240.07 288.98,1240.37 289.16,1240.38 289.34,1240.24 289.51,1240.52 289.69,1239.99 289.87,1240.12 290.05,1240.01 290.23,1240.56 290.41,1240.48 290.59,1240.24 290.76,1239.99 290.94,1240.52 291.12,1240.47 291.3,1240.53 291.48,1240.58 291.66,1240.38 291.84,1240.26 292.01,1240.47 292.19,1240.01 292.37,1240.49 292.55,1240.12 292.73,1240.21 292.91,1240.51 293.09,1239.9 293.27,1240.13 293.44,1240.46 293.62,1240.17 293.8,1240.51 293.98,1240.38 294.16,1240.03 294.34,1240.21 294.52,1240.11 294.69,1240.32 294.87,1240.35 295.05,1240.2 295.23,1239.89 295.41,1240.43 295.59,1239.95 295.77,1240.26 295.94,1240.38 296.12,1240.12 296.3,1239.82 296.48,1240.16 296.66,1239.83 296.84,1239.87 297.02,1239.88 297.19,1239.84 297.37,1240.11 297.55,1240.21 297.73,1239.98 297.91,1240.31 298.09,1239.67 298.27,1239.83 298.44,1239.8 298.62,1239.92 298.8,1239.98 298.98,1239.66 299.16,1239.73 299.34,1239.65 299.52,1239.57 299.69,1239.32 299.87,1239.74 300.05,1239.16 300.23,1239.36 300.41,1239.13 300.59,1239.15 300.77,1239.23 300.94,1239.16 301.12,1239.04 301.3,1238.68 301.48,1238.21 301.66,1237.75 301.84,1237.53 302.02,1237.65 302.2,1236.83 302.37,1236.24 302.55,1235.51 302.73,1234.61 302.91,1233.41 303.09,1232.12 303.27,1230.64 303.45,1228.79 303.62,1226.61 303.8,1224.98 303.98,1223.93 304.16,1224.24 304.34,1225.36 304.52,1227.19 304.7,1228.76 304.87,1230.74 305.05,1232.48 305.23,1233.66 305.41,1234.76 305.59,1235.38 305.77,1236.47 305.95,1237.08 306.12,1237.26 306.3,1237.9 306.48,1237.91 306.66,1238.11 306.84,1238.49 307.02,1238.84 307.2,1238.89 307.37,1238.94 307.55,1239.56 307.73,1239.48 307.91,1239.28 308.09,1239.22 308.27,1239.74 308.45,1239.95 308.62,1239.87 308.8,1239.9 308.98,1240.14 309.16,1239.99 309.34,1239.63 309.52,1239.91 309.7,1239.88 309.88,1240.04 310.05,1239.77 310.23,1240.12 310.41,1240.2 310.59,1239.92 310.77,1240.18 310.95,1240 311.13,1240.25 311.3,1240.12 311.48,1240.48 311.66,1240.14 311.84,1239.86 312.02,1239.89 312.2,1240.33 312.38,1239.92 312.55,1240.4 312.73,1240.22 312.91,1240.12 313.09,1240.17 313.27,1240.48 313.45,1240.27 313.63,1240.19 313.8,1240.23 313.98,1240.31 314.16,1240.23 314.34,1240.41 314.52,1240.2 314.7,1240.11 314.88,1240 315.05,1240.23 315.23,1240.04 315.41,1240.05 315.59,1240.03 315.77,1240.15 315.95,1240.54 316.13,1240.25 316.3,1240.08 316.48,1240.21 316.66,1240.19 316.84,1239.9 317.02,1240.41 317.2,1240.19 317.38,1240.51 317.55,1240.24 317.73,1239.94 317.91,1240.44 318.09,1239.8 318.27,1239.8 318.45,1239.74 318.63,1239.7 318.81,1239.63 318.98,1240.1 319.16,1239.49 319.34,1239.64 319.52,1239.28 319.7,1239.26 319.88,1238.94 320.06,1238.94 320.23,1238.63 320.41,1238.65 320.59,1238.5 320.77,1237.56 320.95,1237.37 321.13,1237.12 321.31,1237.12 321.48,1236.38 321.66,1236.89 321.84,1236.98 322.02,1237.4 322.2,1237.94 322.38,1238.31 322.56,1238.44 322.73,1239.03 322.91,1239.12 323.09,1239.08 323.27,1239.22 323.45,1239.37 323.63,1239.92 323.81,1240.05 323.98,1239.64 324.16,1240.01 324.34,1239.71 324.52,1239.76 324.7,1240.24 324.88,1240.19 325.06,1240.13 325.23,1240.17 325.41,1240.21 325.59,1240.18 325.77,1240.13 325.95,1240.61 326.13,1240.02 326.31,1240.4 326.48,1240.13 326.66,1240.27 326.84,1240.06 327.02,1240.14 327.2,1240.48 327.38,1240.08 327.56,1240.36 327.74,1240.5 327.91,1240.48 328.09,1240.16 328.27,1240.39 328.45,1240.33 328.63,1240.67 328.81,1240.72 328.99,1240.53 329.16,1240.67 329.34,1240.42 329.52,1240.82 329.7,1240.64 329.88,1240.77 330.06,1240.26 330.24,1240.64 330.41,1240.62 330.59,1240.64 330.77,1240.79 330.95,1240.32 331.13,1240.25 331.31,1240.56 331.49,1240.33 331.66,1240.85 331.84,1240.82 332.02,1240.52 332.2,1240.75" fill="none" stroke="#e53f41" stroke-width="1.1" stroke-linejoin="round" />
<polyline points="64.3,1330.25 64.48,1330.43 64.66,1330.21 64.84,1330 65.01,1330.47 65.19,1330.04 65.37,1329.95 65.55,1330.34 65.73,1330.27 65.91,1330.39 66.09,1330.01 66.26,1330.43 66.44,1330.37 66.62,1330.26 66.8,1329.88 66.98,1330.33 67.16,1330.09 67.34,1329.95 67.51,1330.06 67.69,1330.44 67.87,1330.06 68.05,1330.14 68.23,1330.41 68.41,1330.29 68.59,1330.09 68.77,1330.06 68.94,1330.19 69.12,1330.18 69.3,1330.29 69.48,1330.25 69.66,1329.97 69.84,1330.38 70.02,1330.34 70.19,1330.16 70.37,1329.94 70.55,1330.12 70.73,1330.37 70.91,1330.01 71.09,1330.04 71.27,1330.26 71.44,1330.29 71.62,1330.35 71.8,1330.08 71.98,1330.29 72.16,1329.98 72.34,1329.87 72.52,1330.26 72.69,1329.98 72.87,1330.37 73.05,1330.04 73.23,1330.04 73.41,1330.35 73.59,1329.85 73.77,1330.42 73.94,1330.03 74.12,1329.86 74.3,1330.04 74.48,1329.91 74.66,1329.98 74.84,1330.13 75.02,1330.17 75.19,1329.94 75.37,1330.43 75.55,1329.91 75.73,1329.89 75.91,1329.99 76.09,1329.82 76.27,1330.35 76.44,1329.92 76.62,1329.83 76.8,1330.19 76.98,1330.02 77.16,1329.89 77.34,1330.1 77.52,1329.93 77.69,1329.86 77.87,1330.12 78.05,1329.96 78.23,1330.02 78.41,1330.11 78.59,1330.41 78.77,1330.17 78.95,1330.15 79.12,1329.99 79.3,1330.08 79.48,1329.97 79.66,1330.31 79.84,1330.36 80.02,1330.3 80.2,1330.05 80.37,1330.23 80.55,1329.98 80.73,1330.27 80.91,1330.37 81.09,1329.9 81.27,1329.85 81.45,1330.39 81.62,1330.14 81.8,1330.26 81.98,1330.3 82.16,1330.27 82.34,1329.85 82.52,1329.94 82.7,1330.01 82.87,1330.31 83.05,1330.22 83.23,1329.91 83.41,1329.86 83.59,1330.26 83.77,1330.3 83.95,1329.79 84.12,1329.97 84.3,1329.84 84.48,1330.03 84.66,1329.78 84.84,1330 85.02,1329.87 85.2,1329.8 85.37,1330.35 85.55,1329.86 85.73,1330.32 85.91,1330.2 86.09,1329.97 86.27,1329.98 86.45,1329.98 86.62,1329.92 86.8,1330.1 86.98,1329.83 87.16,1330.1 87.34,1330.04 87.52,1329.86 87.7,1330.32 87.88,1329.92 88.05,1330.12 88.23,1330.17 88.41,1330.18 88.59,1330.08 88.77,1330.01 88.95,1329.99 89.13,1330.17 89.3,1329.77 89.48,1330.06 89.66,1330.23 89.84,1329.99 90.02,1330.01 90.2,1330.13 90.38,1330.18 90.55,1329.91 90.73,1330.07 90.91,1330.19 91.09,1330.07 91.27,1329.83 91.45,1330.29 91.63,1329.9 91.8,1330.08 91.98,1329.72 92.16,1330.09 92.34,1330.01 92.52,1330.22 92.7,1329.81 92.88,1329.68 93.05,1329.86 93.23,1329.91 93.41,1330.06 93.59,1329.83 93.77,1330.1 93.95,1330.15 94.13,1329.65 94.3,1330.21 94.48,1329.65 94.66,1329.76 94.84,1329.65 95.02,1330.07 95.2,1330.15 95.38,1329.73 95.55,1329.9 95.73,1330.13 95.91,1330 96.09,1329.68 96.27,1329.79 96.45,1330.05 96.63,1330 96.81,1329.75 96.98,1329.79 97.16,1329.47 97.34,1329.64 97.52,1329.86 97.7,1329.38 97.88,1329.45 98.06,1329.64 98.23,1329.29 98.41,1329.36 98.59,1329.67 98.77,1329.31 98.95,1329.46 99.13,1329.7 99.31,1329.43 99.48,1329.51 99.66,1329.12 99.84,1329.39 100.02,1329.39 100.2,1329.36 100.38,1329.36 100.56,1329.12 100.73,1329.46 100.91,1329.32 101.09,1329.55 101.27,1329.3 101.45,1329.72 101.63,1329.47 101.81,1329.72 101.98,1329.55 102.16,1329.42 102.34,1329.53 102.52,1329.46 102.7,1329.62 102.88,1329.53 103.06,1329.49 103.23,1329.93 103.41,1329.92 103.59,1329.65 103.77,1329.69 103.95,1329.85 104.13,1329.73 104.31,1329.6 104.48,1329.65 104.66,1329.82 104.84,1329.37 105.02,1329.56 105.2,1329.35 105.38,1329.62 105.56,1329.27 105.74,1329.49 105.91,1329.27 106.09,1329.36 106.27,1329.69 106.45,1329.18 106.63,1329.19 106.81,1329.36 106.99,1328.9 107.16,1328.77 107.34,1328.72 107.52,1328.62 107.7,1328.1 107.88,1327.79 108.06,1327.24 108.24,1326.84 108.41,1326.31 108.59,1325.82 108.77,1325.17 108.95,1325.12 109.13,1325.46 109.31,1325.64 109.49,1326.51 109.66,1327.14 109.84,1327.76 110.02,1328.08 110.2,1328.37 110.38,1328.64 110.56,1328.7 110.74,1329.18 110.91,1328.9 111.09,1329.11 111.27,1329.06 111.45,1329.37 111.63,1329.66 111.81,1329.56 111.99,1329.23 112.16,1329.79 112.34,1329.32 112.52,1329.43 112.7,1329.63 112.88,1329.37 113.06,1329.86 113.24,1329.81 113.41,1329.99 113.59,1329.81 113.77,1329.69 113.95,1329.58 114.13,1329.64 114.31,1329.83 114.49,1329.96 114.67,1329.58 114.84,1329.79 115.02,1329.87 115.2,1329.62 115.38,1329.91 115.56,1329.66 115.74,1329.7 115.92,1329.62 116.09,1330.07 116.27,1329.52 116.45,1329.69 116.63,1329.87 116.81,1329.81 116.99,1329.64 117.17,1329.81 117.34,1329.79 117.52,1329.83 117.7,1329.77 117.88,1329.6 118.06,1329.92 118.24,1329.7 118.42,1329.99 118.59,1329.7 118.77,1330.02 118.95,1329.65 119.13,1329.89 119.31,1330.08 119.49,1329.67 119.67,1329.98 119.84,1329.82 120.02,1329.49 120.2,1329.84 120.38,1329.71 120.56,1329.52 120.74,1329.96 120.92,1329.9 121.09,1330.04 121.27,1329.55 121.45,1329.69 121.63,1329.81 121.81,1329.67 121.99,1329.54 122.17,1329.68 122.34,1329.71 122.52,1329.75 122.7,1329.71 122.88,1329.69 123.06,1329.74 123.24,1329.85 123.42,1329.58 123.6,1329.71 123.77,1329.93 123.95,1329.88 124.13,1329.88 124.31,1329.96 124.49,1329.69 124.67,1329.9 124.85,1329.86 125.02,1329.6 125.2,1329.84 125.38,1329.66 125.56,1329.7 125.74,1329.45 125.92,1329.79 126.1,1329.54 126.27,1329.59 126.45,1329.64 126.63,1329.78 126.81,1329.9 126.99,1329.82 127.17,1329.69 127.35,1329.46 127.52,1329.6 127.7,1329.64 127.88,1329.46 128.06,1329.78 128.24,1329.41 128.42,1329.53 128.6,1329.79 128.77,1329.32 128.95,1329.43 129.13,1329.71 129.31,1329.7 129.49,1329.39 129.67,1329.53 129.85,1329.43 130.02,1329.12 130.2,1329.6 130.38,1329.55 130.56,1329.56 130.74,1329.11 130.92,1329.28 131.1,1329.42 131.27,1329.42 131.45,1329.38 131.63,1328.87 131.81,1329.21 131.99,1328.97 132.17,1328.81 132.35,1328.99 132.53,1328.69 132.7,1328.77 132.88,1328.8 133.06,1328.72 133.24,1328.61 133.42,1328.64 133.6,1328.58 133.78,1328.29 133.95,1328.25 134.13,1328.22 134.31,1327.93 134.49,1328.12 134.67,1328.22 134.85,1327.69 135.03,1327.92 135.2,1327.44 135.38,1327.3 135.56,1327.28 135.74,1326.84 135.92,1326.6 136.1,1326.54 136.28,1325.67 136.45,1325.48 136.63,1324.91 136.81,1324.47 136.99,1323.83 137.17,1323.13 137.35,1321.94 137.53,1321.17 137.7,1319.78 137.88,1317.93 138.06,1315.63 138.24,1312.96 138.42,1308.95 138.6,1304.66 138.78,1298.55 138.95,1290.75 139.13,1281.36 139.31,1270.18 139.49,1259.89 139.67,1252.57 139.85,1252.66 140.03,1259.63 140.2,1270.03 140.38,1281.02 140.56,1290.95 140.74,1298.43 140.92,1304.35 141.1,1309.32 141.28,1312.98 141.46,1315.61 141.63,1317.81 141.81,1319.35 141.99,1321.13 142.17,1322.21 142.35,1323.17 142.53,1323.79 142.71,1324.27 142.88,1324.98 143.06,1325.4 143.24,1325.96 143.42,1326.03 143.6,1326.37 143.78,1326.86 143.96,1326.85 144.13,1327.07 144.31,1327.49 144.49,1327.6 144.67,1327.98 144.85,1328.21 145.03,1328.08 145.21,1328.24 145.38,1328.21 145.56,1328.41 145.74,1328.35 145.92,1328.73 146.1,1328.58 146.28,1328.48 146.46,1328.65 146.63,1328.96 146.81,1328.52 146.99,1329.14 147.17,1329.04 147.35,1328.93 147.53,1328.83 147.71,1328.85 147.88,1328.94 148.06,1329.2 148.24,1329.17 148.42,1329.12 148.6,1329.07 148.78,1329.12 148.96,1328.97 149.13,1329.13 149.31,1329.34 149.49,1328.95 149.67,1329.52 149.85,1328.98 150.03,1329.26 150.21,1329.18 150.39,1329.34 150.56,1329.18 150.74,1329.4 150.92,1329.07 151.1,1329.6 151.28,1329.62 151.46,1329.6 151.64,1329.5 151.81,1329.17 151.99,1329.47 152.17,1329.45 152.35,1329.59 152.53,1329.39 152.71,1329.59 152.89,1329.31 153.06,1329.14 153.24,1329.22 153.42,1329.73 153.6,1329.33 153.78,1329.22 153.96,1329.24 154.14,1329.71 154.31,1329.63 154.49,1329.4 154.67,1329.17 154.85,1329.62 155.03,1329.14 155.21,1329.59 155.39,1329.39 155.56,1329.35 155.74,1329.14 155.92,1329.53 156.1,1329.65 156.28,1329.39 156.46,1329.64 156.64,1329.22 156.81,1329.3 156.99,1329.36 157.17,1329.21 157.35,1329.68 157.53,1329.39 157.71,1329.07 157.89,1329.44 158.06,1329.14 158.24,1329.25 158.42,1329.51 158.6,1329.21 158.78,1329.15 158.96,1329.49 159.14,1329.12 159.32,1329.51 159.49,1328.94 159.67,1328.93 159.85,1329.46 160.03,1329.21 160.21,1329.14 160.39,1329.25 160.57,1328.91 160.74,1329.22 160.92,1328.82 161.1,1329.12 161.28,1328.84 161.46,1329.02 161.64,1328.99 161.82,1328.81 161.99,1328.33 162.17,1328.42 162.35,1328.57 162.53,1328.16 162.71,1327.87 162.89,1327.85 163.07,1327.44 163.24,1327.17 163.42,1327.2 163.6,1326.52 163.78,1326.36 163.96,1325.82 164.14,1325.51 164.32,1324.52 164.49,1323.65 164.67,1322.62 164.85,1320.89 165.03,1319.24 165.21,1316.77 165.39,1314.09 165.57,1311.14 165.74,1307.99 165.92,1305.45 166.1,1304.38 166.28,1304.91 166.46,1307.68 166.64,1310.87 166.82,1314.08 167,1316.93 167.17,1319.36 167.35,1320.79 167.53,1322.6 167.71,1323.42 167.89,1324.75 168.07,1325.6 168.25,1326.03 168.42,1326.58 168.6,1327.11 168.78,1327.4 168.96,1327.31 169.14,1327.74 169.32,1327.87 169.5,1328.06 169.67,1328.16 169.85,1328.05 170.03,1328.35 170.21,1328.27 170.39,1328.88 170.57,1328.9 170.75,1328.53 170.92,1328.94 171.1,1329.14 171.28,1329.05 171.46,1329.11 171.64,1329.05 171.82,1329.03 172,1329.03 172.17,1328.92 172.35,1329.08 172.53,1329.05 172.71,1329.2 172.89,1329.19 173.07,1329.17 173.25,1329.6 173.42,1329.16 173.6,1329.28 173.78,1329.55 173.96,1329.29 174.14,1329.12 174.32,1329.44 174.5,1329.32 174.67,1329.6 174.85,1329.33 175.03,1329.34 175.21,1329.46 175.39,1329.54 175.57,1329.25 175.75,1329.22 175.93,1329.65 176.1,1329.34 176.28,1329.76 176.46,1329.69 176.64,1329.53 176.82,1329.27 177,1329.38 177.18,1329.24 177.35,1329.58 177.53,1329.57 177.71,1329.68 177.89,1329.46 178.07,1329.79 178.25,1329.78 178.43,1329.67 178.6,1329.56 178.78,1329.82 178.96,1329.57 179.14,1329.27 179.32,1329.81 179.5,1329.33 179.68,1329.5 179.85,1329.5 180.03,1329.8 180.21,1329.64 180.39,1329.61 180.57,1329.88 180.75,1329.82 180.93,1329.68 181.1,1329.55 181.28,1329.43 181.46,1329.82 181.64,1329.72 181.82,1329.84 182,1329.55 182.18,1329.87 182.35,1329.35 182.53,1329.48 182.71,1329.87 182.89,1329.77 183.07,1329.41 183.25,1329.52 183.43,1329.44 183.6,1329.69 183.78,1329.72 183.96,1329.67 184.14,1329.55 184.32,1329.35 184.5,1329.51 184.68,1329.87 184.85,1329.76 185.03,1329.67 185.21,1329.67 185.39,1329.55 185.57,1329.33 185.75,1329.44 185.93,1329.5 186.11,1329.32 186.28,1329.53 186.46,1329.51 186.64,1329.56 186.82,1329.57 187,1329.79 187.18,1329.63 187.36,1329.86 187.53,1329.66 187.71,1329.51 187.89,1329.59 188.07,1329.73 188.25,1329.41 188.43,1329.74 188.61,1329.9 188.78,1329.76 188.96,1329.73 189.14,1329.82 189.32,1329.33 189.5,1329.65 189.68,1329.55 189.86,1329.43 190.03,1329.55 190.21,1329.34 190.39,1329.73 190.57,1329.38 190.75,1329.54 190.93,1329.37 191.11,1329.91 191.28,1329.46 191.46,1329.64 191.64,1329.33 191.82,1329.49 192,1329.56 192.18,1329.33 192.36,1329.84 192.53,1329.7 192.71,1329.33 192.89,1329.58 193.07,1329.39 193.25,1329.57 193.43,1329.78 193.61,1329.44 193.78,1329.81 193.96,1329.6 194.14,1329.68 194.32,1329.9 194.5,1329.41 194.68,1329.75 194.86,1329.86 195.04,1329.61 195.21,1329.45 195.39,1329.77 195.57,1329.58 195.75,1329.33 195.93,1329.85 196.11,1329.39 196.29,1329.75 196.46,1329.41 196.64,1329.58 196.82,1329.61 197,1329.46 197.18,1329.64 197.36,1329.89 197.54,1329.49 197.71,1329.67 197.89,1329.86 198.07,1329.39 198.25,1329.83 198.43,1329.85 198.61,1329.67 198.79,1329.32 198.96,1329.45 199.14,1329.43 199.32,1329.6 199.5,1329.41 199.68,1329.85 199.86,1329.87 200.04,1329.34 200.21,1329.78 200.39,1329.54 200.57,1329.6 200.75,1329.56 200.93,1329.5 201.11,1329.59 201.29,1329.63 201.46,1329.47 201.64,1329.42 201.82,1329.5 202,1329.39 202.18,1329.65 202.36,1329.61 202.54,1329.71 202.71,1329.66 202.89,1329.64 203.07,1329.41 203.25,1329.52 203.43,1329.33 203.61,1329.74 203.79,1329.81 203.97,1329.66 204.14,1329.56 204.32,1329.45 204.5,1329.58 204.68,1329.71 204.86,1329.55 205.04,1329.6 205.22,1329.29 205.39,1329.37 205.57,1329.57 205.75,1329.76 205.93,1329.4 206.11,1329.53 206.29,1329.42 206.47,1329.29 206.64,1329.39 206.82,1329.62 207,1329.43 207.18,1329.47 207.36,1329.5 207.54,1329.54 207.72,1329.54 207.89,1329.58 208.07,1329.69 208.25,1329.53 208.43,1329.47 208.61,1329.65 208.79,1329.36 208.97,1329.39 209.14,1329.1 209.32,1329.4 209.5,1329.34 209.68,1329.51 209.86,1328.95 210.04,1329 210.22,1329.25 210.39,1329.2 210.57,1329.06 210.75,1328.71 210.93,1329.04 211.11,1328.74 211.29,1328.84 211.47,1328.78 211.64,1328.66 211.82,1328.58 212,1328.72 212.18,1328.47 212.36,1328.93 212.54,1329.12 212.72,1329.01 212.9,1329.11 213.07,1329.23 213.25,1329.24 213.43,1328.98 213.61,1329.44 213.79,1329.45 213.97,1329.15 214.15,1329.36 214.32,1329.11 214.5,1329.22 214.68,1329.31 214.86,1329.4 215.04,1329.58 215.22,1329.69 215.4,1329.59 215.57,1329.33 215.75,1329.34 215.93,1329.21 216.11,1329.49 216.29,1329.39 216.47,1329.51 216.65,1329.43 216.82,1329.57 217,1329.64 217.18,1329.43 217.36,1329.48 217.54,1329.59 217.72,1329.31 217.9,1329.57 218.07,1329.26 218.25,1329.38 218.43,1329.46 218.61,1329.49 218.79,1329.43 218.97,1329.72 219.15,1329.36 219.32,1329.68 219.5,1329.64 219.68,1329.32 219.86,1329.37 220.04,1329.63 220.22,1329.54 220.4,1329.56 220.57,1329.72 220.75,1329.29 220.93,1329.31 221.11,1329.79 221.29,1329.39 221.47,1329.57 221.65,1329.37 221.83,1329.27 222,1329.69 222.18,1329.65 222.36,1329.37 222.54,1329.25 222.72,1329.66 222.9,1329.36 223.08,1329.65 223.25,1329.34 223.43,1329.79 223.61,1329.28 223.79,1329.39 223.97,1329.33 224.15,1329.57 224.33,1329.66 224.5,1329.27 224.68,1329.52 224.86,1329.75 225.04,1329.43 225.22,1329.62 225.4,1329.62 225.58,1329.36 225.75,1329.72 225.93,1329.67 226.11,1329.46 226.29,1329.31 226.47,1329.25 226.65,1329.7 226.83,1329.52 227,1329.49 227.18,1329.43 227.36,1329.18 227.54,1329.29 227.72,1329.21 227.9,1329.71 228.08,1329.74 228.25,1329.42 228.43,1329.55 228.61,1329.53 228.79,1329.75 228.97,1329.76 229.15,1329.25 229.33,1329.73 229.5,1329.53 229.68,1329.38 229.86,1329.64 230.04,1329.18 230.22,1329.65 230.4,1329.68 230.58,1329.21 230.76,1329.32 230.93,1329.74 231.11,1329.72 231.29,1329.52 231.47,1329.73 231.65,1329.2 231.83,1329.4 232.01,1329.66 232.18,1329.17 232.36,1329.34 232.54,1329.23 232.72,1329.49 232.9,1329.73 233.08,1329.43 233.26,1329.63 233.43,1329.17 233.61,1329.38 233.79,1329.71 233.97,1329.71 234.15,1329.28 234.33,1329.22 234.51,1329.28 234.68,1329.68 234.86,1329.19 235.04,1329.27 235.22,1329.3 235.4,1329.38 235.58,1329.58 235.76,1329.42 235.93,1329.58 236.11,1329.39 236.29,1329.6 236.47,1329.31 236.65,1329.46 236.83,1329.32 237.01,1329.34 237.18,1329.2 237.36,1329.6 237.54,1329.29 237.72,1329.64 237.9,1329.47 238.08,1329.14 238.26,1329.61 238.44,1329.58 238.61,1329.42 238.79,1329.22 238.97,1329.57 239.15,1329.23 239.33,1329.59 239.51,1329.57 239.69,1329.09 239.86,1329.24 240.04,1329.62 240.22,1329.51 240.4,1329.16 240.58,1329.27 240.76,1329.55 240.94,1329.02 241.11,1329.09 241.29,1329.42 241.47,1329.22 241.65,1329.37 241.83,1329.22 242.01,1329.27 242.19,1329.36 242.36,1329.39 242.54,1329.01 242.72,1329.29 242.9,1329.51 243.08,1329.49 243.26,1328.96 243.44,1329.21 243.61,1329 243.79,1329.46 243.97,1329.01 244.15,1329.38 244.33,1329.07 244.51,1329.36 244.69,1328.84 244.86,1329.09 245.04,1329.11 245.22,1328.98 245.4,1328.88 245.58,1329.18 245.76,1328.71 245.94,1329.13 246.11,1329.13 246.29,1329.05 246.47,1328.91 246.65,1328.72 246.83,1328.71 247.01,1328.53 247.19,1328.48 247.37,1328.57 247.54,1328.22 247.72,1328.11 247.9,1328.42 248.08,1328.49 248.26,1328.22 248.44,1327.71 248.62,1327.57 248.79,1327.37 248.97,1327.48 249.15,1327.33 249.33,1326.86 249.51,1326.27 249.69,1326.39 249.87,1325.79 250.04,1324.82 250.22,1324.47 250.4,1323.58 250.58,1322.05 250.76,1320.78 250.94,1318.72 251.12,1316.9 251.29,1314.6 251.47,1312.9 251.65,1311.16 251.83,1310.27 252.01,1311.17 252.19,1312.41 252.37,1314.51 252.54,1316.93 252.72,1319.21 252.9,1320.99 253.08,1322.04 253.26,1323.18 253.44,1324.21 253.62,1324.93 253.79,1325.72 253.97,1326.09 254.15,1326.37 254.33,1326.73 254.51,1327.19 254.69,1327.14 254.87,1327.41 255.04,1327.59 255.22,1327.75 255.4,1327.79 255.58,1328.2 255.76,1328.36 255.94,1328.25 256.12,1328.71 256.3,1328.4 256.47,1328.58 256.65,1328.73 256.83,1328.77 257.01,1329 257.19,1328.5 257.37,1328.56 257.55,1328.59 257.72,1328.64 257.9,1328.83 258.08,1328.96 258.26,1329.12 258.44,1329.19 258.62,1329.05 258.8,1329.04 258.97,1329 259.15,1328.88 259.33,1328.89 259.51,1328.99 259.69,1328.86 259.87,1329.18 260.05,1328.96 260.22,1329.4 260.4,1329.03 260.58,1329.3 260.76,1329.01 260.94,1329 261.12,1329.13 261.3,1329.2 261.47,1329.46 261.65,1328.99 261.83,1328.91 262.01,1328.95 262.19,1329.42 262.37,1328.95 262.55,1329.48 262.72,1329.03 262.9,1329.47 263.08,1329.13 263.26,1329.47 263.44,1329.21 263.62,1329.16 263.8,1328.95 263.97,1329.18 264.15,1329.22 264.33,1329.51 264.51,1329.26 264.69,1329.46 264.87,1329.22 265.05,1329.33 265.22,1329.32 265.4,1329.03 265.58,1329.31 265.76,1329.39 265.94,1329.21 266.12,1329.08 266.3,1329.07 266.48,1329.22 266.65,1329.54 266.83,1329.25 267.01,1329.12 267.19,1329.26 267.37,1329.42 267.55,1329.49 267.73,1329.05 267.9,1329.26 268.08,1329.01 268.26,1329.16 268.44,1329.25 268.62,1329.09 268.8,1329.06 268.98,1329.46 269.15,1329.11 269.33,1329.44 269.51,1329.07 269.69,1329.08 269.87,1329.1 270.05,1329.47 270.23,1329.04 270.4,1329.11 270.58,1329.35 270.76,1329.25 270.94,1329.51 271.12,1329.16 271.3,1329.01 271.48,1329.41 271.65,1329.23 271.83,1329.3 272.01,1329.1 272.19,1329.54 272.37,1329.45 272.55,1329.13 272.73,1329.2 272.9,1329.06 273.08,1329.57 273.26,1329.06 273.44,1329.23 273.62,1329.11 273.8,1329.27 273.98,1329.35 274.15,1329.14 274.33,1329.33 274.51,1329.38 274.69,1329.12 274.87,1329.57 275.05,1329.21 275.23,1329.32 275.41,1329.55 275.58,1329.16 275.76,1328.98 275.94,1329.13 276.12,1329.04 276.3,1329.03 276.48,1329.52 276.66,1329.36 276.83,1329.08 277.01,1329.21 277.19,1329.2 277.37,1329.04 277.55,1329.13 277.73,1328.98 277.91,1329.53 278.08,1329.24 278.26,1329.29 278.44,1329.47 278.62,1329.31 278.8,1329.25 278.98,1329.4 279.16,1329.28 279.33,1329.16 279.51,1329.42 279.69,1329.02 279.87,1329.31 280.05,1329.06 280.23,1329.27 280.41,1329.07 280.58,1329.28 280.76,1329.17 280.94,1329.37 281.12,1329.15 281.3,1329.02 281.48,1329.32 281.66,1329.2 281.83,1329.39 282.01,1329.34 282.19,1328.96 282.37,1329.31 282.55,1328.96 282.73,1329.5 282.91,1329.29 283.08,1329.3 283.26,1329.17 283.44,1328.98 283.62,1329.13 283.8,1329.12 283.98,1329.05 284.16,1329.53 284.34,1329.1 284.51,1329.25 284.69,1329.08 284.87,1329.45 285.05,1329 285.23,1329.52 285.41,1329.04 285.59,1329.09 285.76,1329.2 285.94,1329.12 286.12,1328.98 286.3,1329.41 286.48,1328.96 286.66,1329.1 286.84,1328.94 287.01,1328.96 287.19,1329.15 287.37,1329.26 287.55,1328.92 287.73,1329.19 287.91,1329.13 288.09,1329.5 288.26,1329.5 288.44,1329.27 288.62,1329.34 288.8,1328.94 288.98,1329.23 289.16,1329.45 289.34,1329.43 289.51,1329.33 289.69,1329.36 289.87,1329.47 290.05,1329.26 290.23,1329 290.41,1329.3 290.59,1329.04 290.76,1329.43 290.94,1329.01 291.12,1329.4 291.3,1329.28 291.48,1329.27 291.66,1329.01 291.84,1329.16 292.01,1329.19 292.19,1329.47 292.37,1329.29 292.55,1329.32 292.73,1329.46 292.91,1329.12 293.09,1329.24 293.27,1329.19 293.44,1329.11 293.62,1329.04 293.8,1329.06 293.98,1328.89 294.16,1329.4 294.34,1328.99 294.52,1329.34 294.69,1329.04 294.87,1329.02 295.05,1328.84 295.23,1329.11 295.41,1328.93 295.59,1329.02 295.77,1329.26 295.94,1329.35 296.12,1328.82 296.3,1329.21 296.48,1329.31 296.66,1329.28 296.84,1329.25 297.02,1329.22 297.19,1329.04 297.37,1328.76 297.55,1328.84 297.73,1329.19 297.91,1328.94 298.09,1328.98 298.27,1329.1 298.44,1328.91 298.62,1328.81 298.8,1328.81 298.98,1329.17 299.16,1328.88 299.34,1329.03 299.52,1328.97 299.69,1328.75 299.87,1328.76 300.05,1328.79 300.23,1328.77 300.41,1328.78 300.59,1328.52 300.77,1328.62 300.94,1328.75 301.12,1328.42 301.3,1328.46 301.48,1328.6 301.66,1328.46 301.84,1328.34 302.02,1327.96 302.2,1328.2 302.37,1328.12 302.55,1327.6 302.73,1327.47 302.91,1327.7 303.09,1327.2 303.27,1327.12 303.45,1326.33 303.62,1326.41 303.8,1325.71 303.98,1324.86 304.16,1324.35 304.34,1323.27 304.52,1321.91 304.7,1320.98 304.87,1318.89 305.05,1317.6 305.23,1316.81 305.41,1316.42 305.59,1316.41 305.77,1317.98 305.95,1318.92 306.12,1320.59 306.3,1322.24 306.48,1323.03 306.66,1324.12 306.84,1324.95 307.02,1325.65 307.2,1326.08 307.37,1326.43 307.55,1326.89 307.73,1327.17 307.91,1327.52 308.09,1327.4 308.27,1327.52 308.45,1328.1 308.62,1328.13 308.8,1328.28 308.98,1328.34 309.16,1328.06 309.34,1328.18 309.52,1328.71 309.7,1328.52 309.88,1328.47 310.05,1328.75 310.23,1328.47 310.41,1328.95 310.59,1328.82 310.77,1328.57 310.95,1328.9 311.13,1328.78 311.3,1328.66 311.48,1328.59 311.66,1328.62 311.84,1328.85 312.02,1328.81 312.2,1329.12 312.38,1328.78 312.55,1328.93 312.73,1329.11 312.91,1329.07 313.09,1329.01 313.27,1329.15 313.45,1329.02 313.63,1329.13 313.8,1329.04 313.98,1328.76 314.16,1329.01 314.34,1329.09 314.52,1329.06 314.7,1328.91 314.88,1328.67 315.05,1329 315.23,1329.14 315.41,1329.18 315.59,1329.01 315.77,1328.94 315.95,1328.78 316.13,1328.76 316.3,1329.13 316.48,1328.65 316.66,1328.9 316.84,1328.8 317.02,1328.86 317.2,1329.21 317.38,1328.65 317.55,1329.04 317.73,1329.02 317.91,1328.61 318.09,1328.68 318.27,1328.71 318.45,1328.63 318.63,1328.73 318.81,1328.96 318.98,1329.04 319.16,1328.75 319.34,1328.65 319.52,1328.69 319.7,1328.47 319.88,1328.55 320.06,1328.33 320.23,1328.36 320.41,1328.22 320.59,1328.16 320.77,1328.02 320.95,1327.86 321.13,1327.53 321.31,1327.23 321.48,1326.95 321.66,1326.69 321.84,1326.06 322.02,1326.09 322.2,1325.86 322.38,1325.52 322.56,1326.02 322.73,1326.11 322.91,1326.53 323.09,1326.64 323.27,1327.29 323.45,1327.17 323.63,1327.6 323.81,1327.82 323.98,1327.87 324.16,1328.12 324.34,1328.53 324.52,1328.08 324.7,1328.6 324.88,1328.32 325.06,1328.61 325.23,1328.76 325.41,1328.7 325.59,1328.92 325.77,1328.94 325.95,1328.5 326.13,1328.66 326.31,1328.98 326.48,1328.98 326.66,1328.88 326.84,1328.62 327.02,1328.71 327.2,1328.81 327.38,1328.94 327.56,1329.07 327.74,1328.8 327.91,1329.04 328.09,1329.05 328.27,1328.89 328.45,1329.19 328.63,1328.82 328.81,1329.15 328.99,1328.83 329.16,1329.15 329.34,1328.97 329.52,1328.9 329.7,1329.21 329.88,1328.93 330.06,1329.18 330.24,1329.01 330.41,1328.76 330.59,1328.9 330.77,1328.85 330.95,1328.8 331.13,1328.74 331.31,1329.08 331.49,1329.03 331.66,1329.14 331.84,1328.95 332.02,1328.75 332.2,1329.25" fill="none" stroke="#505152" stroke-width="1.1" stroke-linejoin="round" />
<line x1="234.2" y1="1166" x2="253.5" y2="1166" stroke="#e53f41" stroke-width="1.3" />
<text x="259" y="1169.4" font-size="9.4" text-anchor="start" fill="#1e1e1e" font-weight="bold" font-style="normal" >Before 216 days</text>
<line x1="234.2" y1="1176.8" x2="253.5" y2="1176.8" stroke="#6e6e6e" stroke-width="1.3" />
<text x="259" y="1180.2" font-size="9.4" text-anchor="start" fill="#1e1e1e" font-weight="bold" font-style="normal" >After 216 days</text>
<rect x="63.7" y="1152.5" width="268.8" height="197.9" fill="none" stroke="#262626" stroke-width="1.4" />
<text x="-0.6" y="888.7" font-size="24.5" text-anchor="start" fill="#1e1e1e" font-weight="bold" font-style="normal" >g</text>
<clipPath id="cpg"><rect x="72.4" y="874" width="252.6" height="198.70000000000005"/></clipPath>
<g clip-path="url(#cpg)"><g filter="url(#blur12)">
<rect x="67.4" y="869" width="262.6" height="208.7" fill="#6e7173" />
<polygon points="67,868 150,868 140,885 118,905 100,925 85,935 67,935" fill="#737577" />
<polygon points="67,880 100,878 110,895 95,915 75,920 67,915" fill="#7b7d7f" />
<polygon points="67,935 88,938 87,960 90,990 80,1000 67,1000" fill="#7d7f80" />
<polygon points="67,998 92,1000 100,1016 112,1028 95,1035 67,1040" fill="#5f6163" />
<polygon points="150,868 200,868 200,885 175,895 150,893" fill="#767879" />
<polygon points="197.9,891.9 213.8,884.9 239.6,881.9 257.5,887.9 265.4,899.8 263.5,913.7 253.5,927.6 229.7,933.6 209.9,923.6 199.9,909.7" fill="#838587" />
<polygon points="265,885 300,880 326,880 326,940 300,945 285,935 268,915" fill="#6b6e70" />
<polygon points="214,995 240,1000 275,1012 280,1035 250,1045 222,1035 210,1015" fill="#5f6264" />
<polygon points="205,925 225,928 242,935 240,1000 216,998 210,960" fill="#848688" />
<polygon points="190,882 215,878 240,878 255,884 240,900 215,905 195,900" fill="#8a8c8e" />
<polygon points="239.6,939.5 255.5,937.5 279.3,939.5 295.2,951.4 298.2,963.3 293.2,979.2 281.3,997.1 269.4,1011 253.5,1022.9 243.6,1020.9 235.7,1007 233.7,985.2 235.7,963.3" fill="#8a8c8e" />
<polygon points="279.3,941 295.2,951.4 298.2,963.3 293.2,979.2 285,990 287,965" fill="#979a9b" />
<polygon points="262,1005 285,1000 310,1008 312,1016 290,1020 266,1022" fill="#86888a" />
<polygon points="255,1022 275,1018 282,1040 270,1060 255,1050" fill="#77797b" />
<polygon points="72,1034 100,1030 125,1035 150,1045 185,1040 205,1050 212,1073 72,1075" fill="#838586" />
<polygon points="85,1040 115,1040 140,1055 130,1075 82,1075" fill="#8d8e8f" />
<polygon points="190,1040 215,1035 238,1050 240,1073 195,1073" fill="#7b7d7f" />
<polygon points="219,1058 250,1055 270,1062 272,1075 219,1075" fill="#858789" />
<polygon points="131.6,899.9 142,898.7 170.1,903.4 195.8,915 207.5,926.7 214.5,940.7 218,970 214.5,996.8 202.8,1013.1 184.1,1029.5 165.4,1036.5 142,1036.5 118.7,1029.5 100,1015.5 93,1001.5 88.4,978.1 87.2,954.7 90.7,938.4 102.4,924.4 116.4,910.4" fill="#999a9b" />
<polygon points="131.6,899.9 140,902 144,930 147,978 97.7,1010.8 93,1001.5 88.4,978.1 87.2,954.7 90.7,938.4 102.4,924.4 116.4,910.4" fill="#a6a7a8" />
<polygon points="142,898.7 170.1,903.4 195.8,915 207.5,926.7 214.5,940.7 216,985 147,978 144,930" fill="#97989a" />
<polygon points="147,978 214,990 202.8,1013.1 184.1,1029.5 165.4,1036.5 142,1036.5 118.7,1029.5 100,1015.5 97.7,1010.8" fill="#909192" />
<polyline points="133,901 143,930 147,978 98,1011" fill="none" stroke="#b4b5b6" stroke-width="2"/>
<polyline points="147,978 214,990" fill="none" stroke="#a3a4a5" stroke-width="1.5"/>
<polygon points="158.4,936.1 172.4,938.4 184.1,947.7 202.8,954.7 221.5,968.8 232,980 226.2,992 212.2,994 188.8,989.8 170.1,980.4 160.8,968.8 156.1,954.7" fill="#aeafb0" />
<polygon points="159,940 170,941 178,955 176,975 165,972 158,958" fill="#c2c3c4" />
<polygon points="185,955 205,960 222,975 215,985 195,980" fill="#b7b8b9" />
</g>
<rect x="72.4" y="874" width="252.6" height="198.7" filter="url(#noise)" opacity="0.22"/>
</g>
<text x="84.7" y="895" font-size="13.9" text-anchor="start" fill="#fff" font-weight="bold" font-style="normal" >After 4 times</text>
<rect x="246.5" y="1046.2" width="34.1" height="4.5" fill="#fff" />
<text x="289.2" y="1053.8" font-size="12.8" text-anchor="start" fill="#fff" font-weight="bold" font-style="normal" >1μm</text>
<text x="363.5" y="1171.7" font-size="24.5" text-anchor="start" fill="#1e1e1e" font-weight="bold" font-style="normal" >j</text>
<clipPath id="cpj"><rect x="428.3" y="1152.5" width="240.3" height="201.29999999999995"/></clipPath>
<g clip-path="url(#cpj)"><g filter="url(#blur1)">
<rect x="423.3" y="1147.5" width="250.3" height="211.3" fill="#55585b" />
<polygon points="518.6,1148 537.2,1148 537,1191.7 524,1190 519,1175" fill="#7b7e81" />
<polygon points="537.2,1148 675,1148 675,1360 630,1360 634,1334.7 630.6,1314.2 618.9,1308.4 613,1290.9 592.6,1296.7 575.1,1299.6 570.7,1317.2 569.3,1360 505,1360 500,1330 489,1292.3 505,1272 522.6,1252.9 532.3,1250 542.2,1226.5 534.7,1214 532.3,1201.6 534.7,1176.8" fill="#818487" />
<polygon points="548,1160 570,1158 576,1175 556,1182" fill="#6c6f72" />
<polygon points="585,1152 610,1152 600,1165 588,1166" fill="#909396" />
<polygon points="612,1160 640,1155 648,1175 630,1182" fill="#717477" />
<polygon points="640,1152 668,1152 668,1180 650,1178" fill="#8e9193" />
<polygon points="560,1165 585,1160 590,1180 570,1185" fill="#929598" />
<polygon points="545,1262 570,1262 572,1300 548,1305" fill="#6e7174" />
<polygon points="520,1300 548,1295 560,1330 530,1345" fill="#787b7d" />
<polygon points="575,1262 610,1258 615,1290 590,1295 572,1285" fill="#8c8f91" />
<polygon points="620,1255 668,1250 668,1300 640,1305 622,1290" fill="#8e9193" />
<polygon points="636,1305 668,1300 668,1353 636,1353" fill="#888b8d" />
<polygon points="505,1335 565,1320 568,1353 505,1353" fill="#878a8c" />
</g>
<clipPath id="cpjc"><polygon points="537.2,1148 675,1148 675,1360 630,1360 634,1334.7 630.6,1314.2 618.9,1308.4 613,1290.9 592.6,1296.7 575.1,1299.6 570.7,1317.2 569.3,1360 505,1360 500,1330 489,1292.3 505,1272 522.6,1252.9 532.3,1250 542.2,1226.5 534.7,1214 532.3,1201.6 534.7,1176.8"/></clipPath>
<g clip-path="url(#cpjc)"><rect x="480" y="1148" width="195" height="212" filter="url(#mottleW)" opacity="0.22"/><rect x="480" y="1148" width="195" height="212" filter="url(#mottleB)" opacity="0.22"/></g>
<g filter="url(#blur1)">
<polygon points="489,1292.3 522.6,1252.9 537.2,1270.4 528,1290 505,1323 497,1312" fill="#8f9193" />
<polygon points="577,1206.6 591.8,1199.2 606.7,1209.1 631.5,1200.4 648.9,1219 634,1241.4 616.7,1250 598,1270 581.9,1262 572,1233.9" fill="#959799" />
<polygon points="543.4,1191.7 558.3,1185.5 583.1,1217.8 567,1238.9 537.2,1210.3" fill="#a0a2a4" />
<polygon points="543.4,1191.7 558.3,1185.5 573,1205 551,1212 539,1205" fill="#a9abad" />
<polygon points="589.4,1179.3 606.7,1163.2 634,1193 616.7,1215.3 596,1200" fill="#a0a2a4" />
<polygon points="589.4,1179.3 606.7,1163.2 622,1180 602,1192" fill="#a9abad" />
<polygon points="637.7,1221.5 646,1219 651.4,1226 644,1231.4 638,1228" fill="#b4b6b8" />
<polygon points="635.3,1186 650,1184.3 656.4,1195 645,1201.6 637,1197" fill="#a2a4a6" />
<polygon points="659,1196 670,1190 670,1252 660,1245" fill="#9b9d9f" />
<polygon points="540,1320 560,1318 566,1349 542,1350" fill="#909294" />
</g>
<polyline points="543.4,1191.7 558.3,1185.5 583.1,1217.8 567,1238.9" fill="none" stroke="#c4c6c8" stroke-width="1.2" opacity="0.75" filter="url(#blur05)"/>
<polyline points="589.4,1179.3 606.7,1163.2 634,1193 616.7,1215.3" fill="none" stroke="#c4c6c8" stroke-width="1.2" opacity="0.75" filter="url(#blur05)"/>
<polyline points="489,1292.3 522.6,1252.9 537.2,1270.4" fill="none" stroke="#c4c6c8" stroke-width="1.2" opacity="0.75" filter="url(#blur05)"/>
<polyline points="631.5,1200.4 648.9,1219 634,1241.4" fill="none" stroke="#c4c6c8" stroke-width="1.2" opacity="0.75" filter="url(#blur05)"/>
<rect x="428.3" y="1152.5" width="240.3" height="201.3" filter="url(#noise)" opacity="0.18"/>
</g>
<text x="435.6" y="1171.9" font-size="14" text-anchor="start" fill="#fff" font-weight="bold" font-style="normal" >After 216 days</text>
<rect x="597.2" y="1341.9" width="35.3" height="4.7" fill="#fff" />
<text x="639.5" y="1349.2" font-size="13" text-anchor="start" fill="#fff" font-weight="bold" font-style="normal" >1μm</text>
</svg></body></html>
